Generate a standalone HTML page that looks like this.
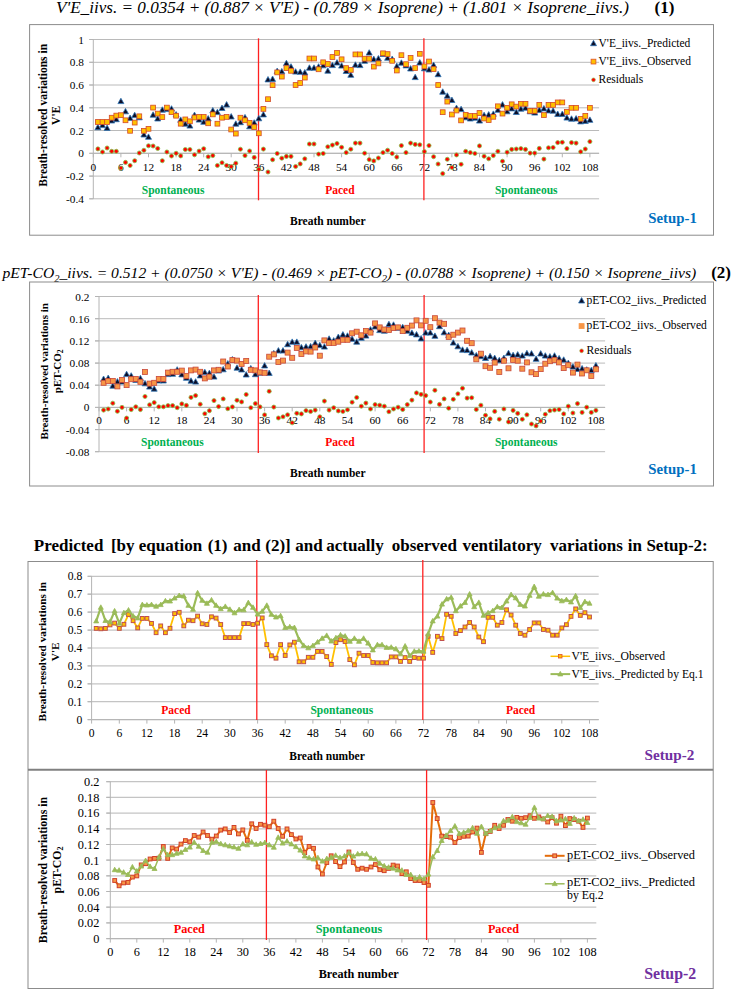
<!DOCTYPE html>
<html><head><meta charset="utf-8"><title>Ventilatory variations</title>
<style>html,body{margin:0;padding:0;background:#fff;width:732px;height:991px;overflow:hidden;font-family:"Liberation Serif", serif}</style>
</head><body>
<svg width="732" height="991" viewBox="0 0 732 991" style="position:absolute;left:0;top:0" font-family='"Liberation Serif", serif'>
<rect width="732" height="991" fill="#fff"/>
<text x="56.0" y="12.9" font-size="17" text-anchor="start" font-weight="normal" font-style="italic" fill="#000" textLength="573" lengthAdjust="spacingAndGlyphs">V'E_iivs. = 0.0354 + (0.887 × V'E) - (0.789 × Isoprene) + (1.801 × Isoprene_iivs.)</text>
<text x="654.5" y="12.9" font-size="17" text-anchor="start" font-weight="bold" font-style="normal" fill="#000" >(1)</text>
<text x="2.5" y="278.2" font-size="15.5" font-style="italic" textLength="693.7" lengthAdjust="spacingAndGlyphs">pET-CO<tspan font-size="10.5" dy="3.4">2</tspan><tspan dy="-3.4">_iivs. = 0.512 + (0.0750 × V'E) - (0.469 × pET-CO</tspan><tspan font-size="10.5" dy="3.4">2</tspan><tspan dy="-3.4">) - (0.0788 × Isoprene) + (0.150 × Isoprene_iivs)</tspan></text>
<text x="711.2" y="278.4" font-size="17" text-anchor="start" font-weight="bold" font-style="normal" fill="#000" >(2)</text>
<text y="550.7" font-size="17" font-weight="bold"><tspan x="33.8">Predicted</tspan><tspan x="110.9">[by</tspan><tspan x="138.8">equation</tspan><tspan x="207.7">(1)</tspan><tspan x="233.3">and</tspan><tspan x="265.3">(2)]</tspan><tspan x="295.3">and</tspan><tspan x="326.2">actually</tspan><tspan x="391.7">observed</tspan><tspan x="462.5">ventilatory</tspan><tspan x="550.1">variations</tspan><tspan x="627.8">in</tspan><tspan x="646.4">Setup-2:</tspan></text>
<rect x="29.6" y="24.6" width="683.9" height="210.6" fill="none" stroke="#8c8c8c" stroke-width="1"/>
<rect x="29.6" y="282" width="683.9" height="204" fill="none" stroke="#8c8c8c" stroke-width="1"/>
<rect x="28" y="561.5" width="685.2" height="427" fill="none" stroke="#8c8c8c" stroke-width="1"/>
<line x1="28" y1="769.8" x2="713.2" y2="769.8" stroke="#808080" stroke-width="2"/>
<line x1="89.3" y1="39.5" x2="599.1" y2="39.5" stroke="#bababa" stroke-width="1"/>
<line x1="89.3" y1="62.3" x2="599.1" y2="62.3" stroke="#bababa" stroke-width="1"/>
<line x1="89.3" y1="85.0" x2="599.1" y2="85.0" stroke="#bababa" stroke-width="1"/>
<line x1="89.3" y1="107.8" x2="599.1" y2="107.8" stroke="#bababa" stroke-width="1"/>
<line x1="89.3" y1="130.5" x2="599.1" y2="130.5" stroke="#bababa" stroke-width="1"/>
<line x1="89.3" y1="153.3" x2="599.1" y2="153.3" stroke="#bababa" stroke-width="1"/>
<line x1="89.3" y1="176.1" x2="599.1" y2="176.1" stroke="#bababa" stroke-width="1"/>
<line x1="89.3" y1="198.8" x2="599.1" y2="198.8" stroke="#bababa" stroke-width="1"/>
<line x1="93.3" y1="39.5" x2="93.3" y2="198.8" stroke="#b4b4b4" stroke-width="1"/>
<line x1="89.3" y1="39.5" x2="93.3" y2="39.5" stroke="#b4b4b4" stroke-width="1"/>
<line x1="89.3" y1="62.3" x2="93.3" y2="62.3" stroke="#b4b4b4" stroke-width="1"/>
<line x1="89.3" y1="85.0" x2="93.3" y2="85.0" stroke="#b4b4b4" stroke-width="1"/>
<line x1="89.3" y1="107.8" x2="93.3" y2="107.8" stroke="#b4b4b4" stroke-width="1"/>
<line x1="89.3" y1="130.5" x2="93.3" y2="130.5" stroke="#b4b4b4" stroke-width="1"/>
<line x1="89.3" y1="153.3" x2="93.3" y2="153.3" stroke="#b4b4b4" stroke-width="1"/>
<line x1="89.3" y1="176.1" x2="93.3" y2="176.1" stroke="#b4b4b4" stroke-width="1"/>
<line x1="89.3" y1="198.8" x2="93.3" y2="198.8" stroke="#b4b4b4" stroke-width="1"/>
<line x1="93.3" y1="153.3" x2="599.1" y2="153.3" stroke="#b4b4b4" stroke-width="1"/>
<line x1="93.3" y1="153.3" x2="93.3" y2="157.3" stroke="#b4b4b4" stroke-width="1"/>
<line x1="120.9" y1="153.3" x2="120.9" y2="157.3" stroke="#b4b4b4" stroke-width="1"/>
<line x1="148.5" y1="153.3" x2="148.5" y2="157.3" stroke="#b4b4b4" stroke-width="1"/>
<line x1="176.1" y1="153.3" x2="176.1" y2="157.3" stroke="#b4b4b4" stroke-width="1"/>
<line x1="203.7" y1="153.3" x2="203.7" y2="157.3" stroke="#b4b4b4" stroke-width="1"/>
<line x1="231.2" y1="153.3" x2="231.2" y2="157.3" stroke="#b4b4b4" stroke-width="1"/>
<line x1="258.8" y1="153.3" x2="258.8" y2="157.3" stroke="#b4b4b4" stroke-width="1"/>
<line x1="286.4" y1="153.3" x2="286.4" y2="157.3" stroke="#b4b4b4" stroke-width="1"/>
<line x1="314.0" y1="153.3" x2="314.0" y2="157.3" stroke="#b4b4b4" stroke-width="1"/>
<line x1="341.6" y1="153.3" x2="341.6" y2="157.3" stroke="#b4b4b4" stroke-width="1"/>
<line x1="369.2" y1="153.3" x2="369.2" y2="157.3" stroke="#b4b4b4" stroke-width="1"/>
<line x1="396.8" y1="153.3" x2="396.8" y2="157.3" stroke="#b4b4b4" stroke-width="1"/>
<line x1="424.4" y1="153.3" x2="424.4" y2="157.3" stroke="#b4b4b4" stroke-width="1"/>
<line x1="451.9" y1="153.3" x2="451.9" y2="157.3" stroke="#b4b4b4" stroke-width="1"/>
<line x1="479.5" y1="153.3" x2="479.5" y2="157.3" stroke="#b4b4b4" stroke-width="1"/>
<line x1="507.1" y1="153.3" x2="507.1" y2="157.3" stroke="#b4b4b4" stroke-width="1"/>
<line x1="534.7" y1="153.3" x2="534.7" y2="157.3" stroke="#b4b4b4" stroke-width="1"/>
<line x1="562.3" y1="153.3" x2="562.3" y2="157.3" stroke="#b4b4b4" stroke-width="1"/>
<line x1="589.9" y1="153.3" x2="589.9" y2="157.3" stroke="#b4b4b4" stroke-width="1"/>
<text x="83.9" y="43.5" font-size="11.3" text-anchor="end" font-weight="normal" font-style="normal" fill="#000" >1</text>
<text x="83.9" y="66.2" font-size="11.3" text-anchor="end" font-weight="normal" font-style="normal" fill="#000" >0.8</text>
<text x="83.9" y="89.0" font-size="11.3" text-anchor="end" font-weight="normal" font-style="normal" fill="#000" >0.6</text>
<text x="83.9" y="111.7" font-size="11.3" text-anchor="end" font-weight="normal" font-style="normal" fill="#000" >0.4</text>
<text x="83.9" y="134.5" font-size="11.3" text-anchor="end" font-weight="normal" font-style="normal" fill="#000" >0.2</text>
<text x="83.9" y="157.3" font-size="11.3" text-anchor="end" font-weight="normal" font-style="normal" fill="#000" >0</text>
<text x="83.9" y="180.0" font-size="11.3" text-anchor="end" font-weight="normal" font-style="normal" fill="#000" >-0.2</text>
<text x="83.9" y="202.8" font-size="11.3" text-anchor="end" font-weight="normal" font-style="normal" fill="#000" >-0.4</text>
<text x="93.3" y="170.6" font-size="11.3" text-anchor="middle" font-weight="normal" font-style="normal" fill="#000" >0</text>
<text x="120.9" y="170.6" font-size="11.3" text-anchor="middle" font-weight="normal" font-style="normal" fill="#000" >6</text>
<text x="148.5" y="170.6" font-size="11.3" text-anchor="middle" font-weight="normal" font-style="normal" fill="#000" >12</text>
<text x="176.1" y="170.6" font-size="11.3" text-anchor="middle" font-weight="normal" font-style="normal" fill="#000" >18</text>
<text x="203.7" y="170.6" font-size="11.3" text-anchor="middle" font-weight="normal" font-style="normal" fill="#000" >24</text>
<text x="231.2" y="170.6" font-size="11.3" text-anchor="middle" font-weight="normal" font-style="normal" fill="#000" >30</text>
<text x="258.8" y="170.6" font-size="11.3" text-anchor="middle" font-weight="normal" font-style="normal" fill="#000" >36</text>
<text x="286.4" y="170.6" font-size="11.3" text-anchor="middle" font-weight="normal" font-style="normal" fill="#000" >42</text>
<text x="314.0" y="170.6" font-size="11.3" text-anchor="middle" font-weight="normal" font-style="normal" fill="#000" >48</text>
<text x="341.6" y="170.6" font-size="11.3" text-anchor="middle" font-weight="normal" font-style="normal" fill="#000" >54</text>
<text x="369.2" y="170.6" font-size="11.3" text-anchor="middle" font-weight="normal" font-style="normal" fill="#000" >60</text>
<text x="396.8" y="170.6" font-size="11.3" text-anchor="middle" font-weight="normal" font-style="normal" fill="#000" >66</text>
<text x="424.4" y="170.6" font-size="11.3" text-anchor="middle" font-weight="normal" font-style="normal" fill="#000" >72</text>
<text x="451.9" y="170.6" font-size="11.3" text-anchor="middle" font-weight="normal" font-style="normal" fill="#000" >78</text>
<text x="479.5" y="170.6" font-size="11.3" text-anchor="middle" font-weight="normal" font-style="normal" fill="#000" >84</text>
<text x="507.1" y="170.6" font-size="11.3" text-anchor="middle" font-weight="normal" font-style="normal" fill="#000" >90</text>
<text x="534.7" y="170.6" font-size="11.3" text-anchor="middle" font-weight="normal" font-style="normal" fill="#000" >96</text>
<text x="562.3" y="170.6" font-size="11.3" text-anchor="middle" font-weight="normal" font-style="normal" fill="#000" >102</text>
<text x="589.9" y="170.6" font-size="11.3" text-anchor="middle" font-weight="normal" font-style="normal" fill="#000" >108</text>
<line x1="258.5" y1="38.3" x2="258.5" y2="200.3" stroke="#ff2020" stroke-width="1.3"/>
<line x1="423.9" y1="38.3" x2="423.9" y2="200.3" stroke="#ff2020" stroke-width="1.3"/>
<text x="173.1" y="193.8" font-size="11.5" text-anchor="middle" font-weight="bold" font-style="normal" fill="#00b050" >Spontaneous</text>
<text x="339.9" y="193.8" font-size="11.5" text-anchor="middle" font-weight="bold" font-style="normal" fill="#ff0000" >Paced</text>
<text x="526.2" y="193.8" font-size="11.5" text-anchor="middle" font-weight="bold" font-style="normal" fill="#00b050" >Spontaneous</text>
<text x="327.8" y="225.0" font-size="11.5" text-anchor="middle" font-weight="bold" font-style="normal" fill="#000" >Breath number</text>
<path d="M97.9 124.3L100.9 129.7L94.9 129.7Z" fill="#0d0d26" stroke="#2e75b6" stroke-width="0.8"/>
<path d="M102.5 122.2L105.5 127.6L99.5 127.6Z" fill="#0d0d26" stroke="#2e75b6" stroke-width="0.8"/>
<path d="M107.1 125.0L110.1 130.4L104.1 130.4Z" fill="#0d0d26" stroke="#2e75b6" stroke-width="0.8"/>
<path d="M111.7 117.6L114.7 123.0L108.7 123.0Z" fill="#0d0d26" stroke="#2e75b6" stroke-width="0.8"/>
<path d="M116.3 116.3L119.3 121.7L113.3 121.7Z" fill="#0d0d26" stroke="#2e75b6" stroke-width="0.8"/>
<path d="M120.9 98.2L123.9 103.6L117.9 103.6Z" fill="#0d0d26" stroke="#2e75b6" stroke-width="0.8"/>
<path d="M125.5 108.4L128.5 113.8L122.5 113.8Z" fill="#0d0d26" stroke="#2e75b6" stroke-width="0.8"/>
<path d="M130.1 115.0L133.1 120.4L127.1 120.4Z" fill="#0d0d26" stroke="#2e75b6" stroke-width="0.8"/>
<path d="M134.7 112.2L137.7 117.6L131.7 117.6Z" fill="#0d0d26" stroke="#2e75b6" stroke-width="0.8"/>
<path d="M139.3 114.4L142.3 119.8L136.3 119.8Z" fill="#0d0d26" stroke="#2e75b6" stroke-width="0.8"/>
<path d="M143.9 131.6L146.9 137.0L140.9 137.0Z" fill="#0d0d26" stroke="#2e75b6" stroke-width="0.8"/>
<path d="M148.5 133.9L151.5 139.3L145.5 139.3Z" fill="#0d0d26" stroke="#2e75b6" stroke-width="0.8"/>
<path d="M153.1 111.8L156.1 117.2L150.1 117.2Z" fill="#0d0d26" stroke="#2e75b6" stroke-width="0.8"/>
<path d="M157.7 115.6L160.7 121.0L154.7 121.0Z" fill="#0d0d26" stroke="#2e75b6" stroke-width="0.8"/>
<path d="M162.3 106.8L165.3 112.2L159.3 112.2Z" fill="#0d0d26" stroke="#2e75b6" stroke-width="0.8"/>
<path d="M166.9 106.2L169.9 111.6L163.9 111.6Z" fill="#0d0d26" stroke="#2e75b6" stroke-width="0.8"/>
<path d="M171.5 105.7L174.5 111.1L168.5 111.1Z" fill="#0d0d26" stroke="#2e75b6" stroke-width="0.8"/>
<path d="M176.1 111.6L179.1 117.0L173.1 117.0Z" fill="#0d0d26" stroke="#2e75b6" stroke-width="0.8"/>
<path d="M180.7 116.9L183.7 122.3L177.7 122.3Z" fill="#0d0d26" stroke="#2e75b6" stroke-width="0.8"/>
<path d="M185.3 120.8L188.3 126.2L182.3 126.2Z" fill="#0d0d26" stroke="#2e75b6" stroke-width="0.8"/>
<path d="M189.9 122.7L192.9 128.1L186.9 128.1Z" fill="#0d0d26" stroke="#2e75b6" stroke-width="0.8"/>
<path d="M194.5 112.1L197.5 117.5L191.5 117.5Z" fill="#0d0d26" stroke="#2e75b6" stroke-width="0.8"/>
<path d="M199.1 116.7L202.1 122.1L196.1 122.1Z" fill="#0d0d26" stroke="#2e75b6" stroke-width="0.8"/>
<path d="M203.7 118.9L206.7 124.3L200.7 124.3Z" fill="#0d0d26" stroke="#2e75b6" stroke-width="0.8"/>
<path d="M208.2 115.6L211.2 121.0L205.2 121.0Z" fill="#0d0d26" stroke="#2e75b6" stroke-width="0.8"/>
<path d="M212.8 107.5L215.8 112.9L209.8 112.9Z" fill="#0d0d26" stroke="#2e75b6" stroke-width="0.8"/>
<path d="M217.4 109.2L220.4 114.6L214.4 114.6Z" fill="#0d0d26" stroke="#2e75b6" stroke-width="0.8"/>
<path d="M222.0 105.1L225.0 110.5L219.0 110.5Z" fill="#0d0d26" stroke="#2e75b6" stroke-width="0.8"/>
<path d="M226.6 101.6L229.6 107.0L223.6 107.0Z" fill="#0d0d26" stroke="#2e75b6" stroke-width="0.8"/>
<path d="M231.2 113.6L234.2 119.0L228.2 119.0Z" fill="#0d0d26" stroke="#2e75b6" stroke-width="0.8"/>
<path d="M235.8 120.8L238.8 126.2L232.8 126.2Z" fill="#0d0d26" stroke="#2e75b6" stroke-width="0.8"/>
<path d="M240.4 119.3L243.4 124.7L237.4 124.7Z" fill="#0d0d26" stroke="#2e75b6" stroke-width="0.8"/>
<path d="M245.0 114.4L248.0 119.8L242.0 119.8Z" fill="#0d0d26" stroke="#2e75b6" stroke-width="0.8"/>
<path d="M249.6 123.4L252.6 128.8L246.6 128.8Z" fill="#0d0d26" stroke="#2e75b6" stroke-width="0.8"/>
<path d="M254.2 119.7L257.2 125.1L251.2 125.1Z" fill="#0d0d26" stroke="#2e75b6" stroke-width="0.8"/>
<path d="M258.8 115.4L261.8 120.8L255.8 120.8Z" fill="#0d0d26" stroke="#2e75b6" stroke-width="0.8"/>
<path d="M263.4 111.5L266.4 116.9L260.4 116.9Z" fill="#0d0d26" stroke="#2e75b6" stroke-width="0.8"/>
<path d="M268.0 76.5L271.0 81.9L265.0 81.9Z" fill="#0d0d26" stroke="#2e75b6" stroke-width="0.8"/>
<path d="M272.6 76.0L275.6 81.4L269.6 81.4Z" fill="#0d0d26" stroke="#2e75b6" stroke-width="0.8"/>
<path d="M277.2 68.1L280.2 73.5L274.2 73.5Z" fill="#0d0d26" stroke="#2e75b6" stroke-width="0.8"/>
<path d="M281.8 68.4L284.8 73.8L278.8 73.8Z" fill="#0d0d26" stroke="#2e75b6" stroke-width="0.8"/>
<path d="M286.4 60.2L289.4 65.6L283.4 65.6Z" fill="#0d0d26" stroke="#2e75b6" stroke-width="0.8"/>
<path d="M291.0 63.7L294.0 69.1L288.0 69.1Z" fill="#0d0d26" stroke="#2e75b6" stroke-width="0.8"/>
<path d="M295.6 68.7L298.6 74.1L292.6 74.1Z" fill="#0d0d26" stroke="#2e75b6" stroke-width="0.8"/>
<path d="M300.2 68.9L303.2 74.3L297.2 74.3Z" fill="#0d0d26" stroke="#2e75b6" stroke-width="0.8"/>
<path d="M304.8 69.5L307.8 74.9L301.8 74.9Z" fill="#0d0d26" stroke="#2e75b6" stroke-width="0.8"/>
<path d="M309.4 64.8L312.4 70.2L306.4 70.2Z" fill="#0d0d26" stroke="#2e75b6" stroke-width="0.8"/>
<path d="M314.0 64.8L317.0 70.2L311.0 70.2Z" fill="#0d0d26" stroke="#2e75b6" stroke-width="0.8"/>
<path d="M318.6 63.7L321.6 69.1L315.6 69.1Z" fill="#0d0d26" stroke="#2e75b6" stroke-width="0.8"/>
<path d="M323.2 62.4L326.2 67.8L320.2 67.8Z" fill="#0d0d26" stroke="#2e75b6" stroke-width="0.8"/>
<path d="M327.8 67.8L330.8 73.2L324.8 73.2Z" fill="#0d0d26" stroke="#2e75b6" stroke-width="0.8"/>
<path d="M332.4 62.2L335.4 67.6L329.4 67.6Z" fill="#0d0d26" stroke="#2e75b6" stroke-width="0.8"/>
<path d="M337.0 59.6L340.0 65.0L334.0 65.0Z" fill="#0d0d26" stroke="#2e75b6" stroke-width="0.8"/>
<path d="M341.6 62.7L344.6 68.1L338.6 68.1Z" fill="#0d0d26" stroke="#2e75b6" stroke-width="0.8"/>
<path d="M346.2 68.1L349.2 73.5L343.2 73.5Z" fill="#0d0d26" stroke="#2e75b6" stroke-width="0.8"/>
<path d="M350.8 71.9L353.8 77.3L347.8 77.3Z" fill="#0d0d26" stroke="#2e75b6" stroke-width="0.8"/>
<path d="M355.4 61.8L358.4 67.2L352.4 67.2Z" fill="#0d0d26" stroke="#2e75b6" stroke-width="0.8"/>
<path d="M360.0 62.2L363.0 67.6L357.0 67.6Z" fill="#0d0d26" stroke="#2e75b6" stroke-width="0.8"/>
<path d="M364.6 57.9L367.6 63.3L361.6 63.3Z" fill="#0d0d26" stroke="#2e75b6" stroke-width="0.8"/>
<path d="M369.2 49.7L372.2 55.1L366.2 55.1Z" fill="#0d0d26" stroke="#2e75b6" stroke-width="0.8"/>
<path d="M373.8 56.1L376.8 61.5L370.8 61.5Z" fill="#0d0d26" stroke="#2e75b6" stroke-width="0.8"/>
<path d="M378.4 55.5L381.4 60.9L375.4 60.9Z" fill="#0d0d26" stroke="#2e75b6" stroke-width="0.8"/>
<path d="M383.0 51.1L386.0 56.5L380.0 56.5Z" fill="#0d0d26" stroke="#2e75b6" stroke-width="0.8"/>
<path d="M387.6 54.9L390.6 60.3L384.6 60.3Z" fill="#0d0d26" stroke="#2e75b6" stroke-width="0.8"/>
<path d="M392.2 56.1L395.2 61.5L389.2 61.5Z" fill="#0d0d26" stroke="#2e75b6" stroke-width="0.8"/>
<path d="M396.8 63.1L399.8 68.5L393.8 68.5Z" fill="#0d0d26" stroke="#2e75b6" stroke-width="0.8"/>
<path d="M401.4 59.8L404.4 65.2L398.4 65.2Z" fill="#0d0d26" stroke="#2e75b6" stroke-width="0.8"/>
<path d="M406.0 62.5L409.0 67.9L403.0 67.9Z" fill="#0d0d26" stroke="#2e75b6" stroke-width="0.8"/>
<path d="M410.6 65.6L413.6 71.0L407.6 71.0Z" fill="#0d0d26" stroke="#2e75b6" stroke-width="0.8"/>
<path d="M415.2 74.2L418.2 79.6L412.2 79.6Z" fill="#0d0d26" stroke="#2e75b6" stroke-width="0.8"/>
<path d="M419.8 59.6L422.8 65.0L416.8 65.0Z" fill="#0d0d26" stroke="#2e75b6" stroke-width="0.8"/>
<path d="M424.4 65.4L427.4 70.8L421.4 70.8Z" fill="#0d0d26" stroke="#2e75b6" stroke-width="0.8"/>
<path d="M429.0 66.6L432.0 72.0L426.0 72.0Z" fill="#0d0d26" stroke="#2e75b6" stroke-width="0.8"/>
<path d="M433.6 62.0L436.6 67.4L430.6 67.4Z" fill="#0d0d26" stroke="#2e75b6" stroke-width="0.8"/>
<path d="M438.1 71.3L441.1 76.7L435.1 76.7Z" fill="#0d0d26" stroke="#2e75b6" stroke-width="0.8"/>
<path d="M442.7 88.8L445.7 94.2L439.7 94.2Z" fill="#0d0d26" stroke="#2e75b6" stroke-width="0.8"/>
<path d="M447.3 92.8L450.3 98.2L444.3 98.2Z" fill="#0d0d26" stroke="#2e75b6" stroke-width="0.8"/>
<path d="M451.9 97.1L454.9 102.5L448.9 102.5Z" fill="#0d0d26" stroke="#2e75b6" stroke-width="0.8"/>
<path d="M456.5 105.1L459.5 110.5L453.5 110.5Z" fill="#0d0d26" stroke="#2e75b6" stroke-width="0.8"/>
<path d="M461.1 106.2L464.1 111.6L458.1 111.6Z" fill="#0d0d26" stroke="#2e75b6" stroke-width="0.8"/>
<path d="M465.7 114.4L468.7 119.8L462.7 119.8Z" fill="#0d0d26" stroke="#2e75b6" stroke-width="0.8"/>
<path d="M470.3 115.6L473.3 121.0L467.3 121.0Z" fill="#0d0d26" stroke="#2e75b6" stroke-width="0.8"/>
<path d="M474.9 114.8L477.9 120.2L471.9 120.2Z" fill="#0d0d26" stroke="#2e75b6" stroke-width="0.8"/>
<path d="M479.5 117.7L482.5 123.1L476.5 123.1Z" fill="#0d0d26" stroke="#2e75b6" stroke-width="0.8"/>
<path d="M484.1 112.2L487.1 117.6L481.1 117.6Z" fill="#0d0d26" stroke="#2e75b6" stroke-width="0.8"/>
<path d="M488.7 111.6L491.7 117.0L485.7 117.0Z" fill="#0d0d26" stroke="#2e75b6" stroke-width="0.8"/>
<path d="M493.3 110.9L496.3 116.3L490.3 116.3Z" fill="#0d0d26" stroke="#2e75b6" stroke-width="0.8"/>
<path d="M497.9 106.9L500.9 112.3L494.9 112.3Z" fill="#0d0d26" stroke="#2e75b6" stroke-width="0.8"/>
<path d="M502.5 101.6L505.5 107.0L499.5 107.0Z" fill="#0d0d26" stroke="#2e75b6" stroke-width="0.8"/>
<path d="M507.1 108.4L510.1 113.8L504.1 113.8Z" fill="#0d0d26" stroke="#2e75b6" stroke-width="0.8"/>
<path d="M511.7 105.5L514.7 110.9L508.7 110.9Z" fill="#0d0d26" stroke="#2e75b6" stroke-width="0.8"/>
<path d="M516.3 109.1L519.3 114.5L513.3 114.5Z" fill="#0d0d26" stroke="#2e75b6" stroke-width="0.8"/>
<path d="M520.9 105.8L523.9 111.2L517.9 111.2Z" fill="#0d0d26" stroke="#2e75b6" stroke-width="0.8"/>
<path d="M525.5 104.9L528.5 110.3L522.5 110.3Z" fill="#0d0d26" stroke="#2e75b6" stroke-width="0.8"/>
<path d="M530.1 108.4L533.1 113.8L527.1 113.8Z" fill="#0d0d26" stroke="#2e75b6" stroke-width="0.8"/>
<path d="M534.7 109.7L537.7 115.1L531.7 115.1Z" fill="#0d0d26" stroke="#2e75b6" stroke-width="0.8"/>
<path d="M539.3 107.0L542.3 112.4L536.3 112.4Z" fill="#0d0d26" stroke="#2e75b6" stroke-width="0.8"/>
<path d="M543.9 105.5L546.9 110.9L540.9 110.9Z" fill="#0d0d26" stroke="#2e75b6" stroke-width="0.8"/>
<path d="M548.5 107.5L551.5 112.9L545.5 112.9Z" fill="#0d0d26" stroke="#2e75b6" stroke-width="0.8"/>
<path d="M553.1 107.8L556.1 113.2L550.1 113.2Z" fill="#0d0d26" stroke="#2e75b6" stroke-width="0.8"/>
<path d="M557.7 111.0L560.7 116.4L554.7 116.4Z" fill="#0d0d26" stroke="#2e75b6" stroke-width="0.8"/>
<path d="M562.3 111.0L565.3 116.4L559.3 116.4Z" fill="#0d0d26" stroke="#2e75b6" stroke-width="0.8"/>
<path d="M566.9 114.7L569.9 120.1L563.9 120.1Z" fill="#0d0d26" stroke="#2e75b6" stroke-width="0.8"/>
<path d="M571.5 115.8L574.5 121.2L568.5 121.2Z" fill="#0d0d26" stroke="#2e75b6" stroke-width="0.8"/>
<path d="M576.1 115.6L579.1 121.0L573.1 121.0Z" fill="#0d0d26" stroke="#2e75b6" stroke-width="0.8"/>
<path d="M580.7 118.5L583.7 123.9L577.7 123.9Z" fill="#0d0d26" stroke="#2e75b6" stroke-width="0.8"/>
<path d="M585.3 118.0L588.3 123.4L582.3 123.4Z" fill="#0d0d26" stroke="#2e75b6" stroke-width="0.8"/>
<path d="M589.9 116.9L592.9 122.3L586.9 122.3Z" fill="#0d0d26" stroke="#2e75b6" stroke-width="0.8"/>
<rect x="95.5" y="119.6" width="4.8" height="4.8" fill="#ffc000" stroke="#d4482a" stroke-width="0.8"/>
<rect x="100.1" y="119.6" width="4.8" height="4.8" fill="#ffc000" stroke="#d4482a" stroke-width="0.8"/>
<rect x="104.7" y="119.6" width="4.8" height="4.8" fill="#ffc000" stroke="#d4482a" stroke-width="0.8"/>
<rect x="109.3" y="115.3" width="4.8" height="4.8" fill="#ffc000" stroke="#d4482a" stroke-width="0.8"/>
<rect x="113.9" y="113.2" width="4.8" height="4.8" fill="#ffc000" stroke="#d4482a" stroke-width="0.8"/>
<rect x="118.5" y="112.8" width="4.8" height="4.8" fill="#ffc000" stroke="#d4482a" stroke-width="0.8"/>
<rect x="123.1" y="117.9" width="4.8" height="4.8" fill="#ffc000" stroke="#d4482a" stroke-width="0.8"/>
<rect x="127.7" y="128.4" width="4.8" height="4.8" fill="#ffc000" stroke="#d4482a" stroke-width="0.8"/>
<rect x="132.3" y="120.2" width="4.8" height="4.8" fill="#ffc000" stroke="#d4482a" stroke-width="0.8"/>
<rect x="136.9" y="113.9" width="4.8" height="4.8" fill="#ffc000" stroke="#d4482a" stroke-width="0.8"/>
<rect x="141.5" y="128.4" width="4.8" height="4.8" fill="#ffc000" stroke="#d4482a" stroke-width="0.8"/>
<rect x="146.1" y="126.4" width="4.8" height="4.8" fill="#ffc000" stroke="#d4482a" stroke-width="0.8"/>
<rect x="150.7" y="105.2" width="4.8" height="4.8" fill="#ffc000" stroke="#d4482a" stroke-width="0.8"/>
<rect x="155.3" y="111.2" width="4.8" height="4.8" fill="#ffc000" stroke="#d4482a" stroke-width="0.8"/>
<rect x="159.9" y="114.7" width="4.8" height="4.8" fill="#ffc000" stroke="#d4482a" stroke-width="0.8"/>
<rect x="164.5" y="105.2" width="4.8" height="4.8" fill="#ffc000" stroke="#d4482a" stroke-width="0.8"/>
<rect x="169.1" y="109.8" width="4.8" height="4.8" fill="#ffc000" stroke="#d4482a" stroke-width="0.8"/>
<rect x="173.7" y="113.3" width="4.8" height="4.8" fill="#ffc000" stroke="#d4482a" stroke-width="0.8"/>
<rect x="178.3" y="121.3" width="4.8" height="4.8" fill="#ffc000" stroke="#d4482a" stroke-width="0.8"/>
<rect x="182.9" y="117.0" width="4.8" height="4.8" fill="#ffc000" stroke="#d4482a" stroke-width="0.8"/>
<rect x="187.5" y="118.9" width="4.8" height="4.8" fill="#ffc000" stroke="#d4482a" stroke-width="0.8"/>
<rect x="192.1" y="115.1" width="4.8" height="4.8" fill="#ffc000" stroke="#d4482a" stroke-width="0.8"/>
<rect x="196.7" y="114.5" width="4.8" height="4.8" fill="#ffc000" stroke="#d4482a" stroke-width="0.8"/>
<rect x="201.3" y="114.5" width="4.8" height="4.8" fill="#ffc000" stroke="#d4482a" stroke-width="0.8"/>
<rect x="205.8" y="120.9" width="4.8" height="4.8" fill="#ffc000" stroke="#d4482a" stroke-width="0.8"/>
<rect x="210.4" y="112.0" width="4.8" height="4.8" fill="#ffc000" stroke="#d4482a" stroke-width="0.8"/>
<rect x="215.0" y="121.3" width="4.8" height="4.8" fill="#ffc000" stroke="#d4482a" stroke-width="0.8"/>
<rect x="219.6" y="115.3" width="4.8" height="4.8" fill="#ffc000" stroke="#d4482a" stroke-width="0.8"/>
<rect x="224.2" y="114.5" width="4.8" height="4.8" fill="#ffc000" stroke="#d4482a" stroke-width="0.8"/>
<rect x="228.8" y="127.1" width="4.8" height="4.8" fill="#ffc000" stroke="#d4482a" stroke-width="0.8"/>
<rect x="233.4" y="131.2" width="4.8" height="4.8" fill="#ffc000" stroke="#d4482a" stroke-width="0.8"/>
<rect x="238.0" y="115.3" width="4.8" height="4.8" fill="#ffc000" stroke="#d4482a" stroke-width="0.8"/>
<rect x="242.6" y="117.9" width="4.8" height="4.8" fill="#ffc000" stroke="#d4482a" stroke-width="0.8"/>
<rect x="247.2" y="120.5" width="4.8" height="4.8" fill="#ffc000" stroke="#d4482a" stroke-width="0.8"/>
<rect x="251.8" y="124.7" width="4.8" height="4.8" fill="#ffc000" stroke="#d4482a" stroke-width="0.8"/>
<rect x="256.4" y="130.9" width="4.8" height="4.8" fill="#ffc000" stroke="#d4482a" stroke-width="0.8"/>
<rect x="261.0" y="106.5" width="4.8" height="4.8" fill="#ffc000" stroke="#d4482a" stroke-width="0.8"/>
<rect x="265.6" y="96.8" width="4.8" height="4.8" fill="#ffc000" stroke="#d4482a" stroke-width="0.8"/>
<rect x="270.2" y="82.8" width="4.8" height="4.8" fill="#ffc000" stroke="#d4482a" stroke-width="0.8"/>
<rect x="274.8" y="70.0" width="4.8" height="4.8" fill="#ffc000" stroke="#d4482a" stroke-width="0.8"/>
<rect x="279.4" y="74.2" width="4.8" height="4.8" fill="#ffc000" stroke="#d4482a" stroke-width="0.8"/>
<rect x="284.0" y="65.7" width="4.8" height="4.8" fill="#ffc000" stroke="#d4482a" stroke-width="0.8"/>
<rect x="288.6" y="68.4" width="4.8" height="4.8" fill="#ffc000" stroke="#d4482a" stroke-width="0.8"/>
<rect x="293.2" y="82.6" width="4.8" height="4.8" fill="#ffc000" stroke="#d4482a" stroke-width="0.8"/>
<rect x="297.8" y="80.6" width="4.8" height="4.8" fill="#ffc000" stroke="#d4482a" stroke-width="0.8"/>
<rect x="302.4" y="75.2" width="4.8" height="4.8" fill="#ffc000" stroke="#d4482a" stroke-width="0.8"/>
<rect x="307.0" y="56.1" width="4.8" height="4.8" fill="#ffc000" stroke="#d4482a" stroke-width="0.8"/>
<rect x="311.6" y="56.1" width="4.8" height="4.8" fill="#ffc000" stroke="#d4482a" stroke-width="0.8"/>
<rect x="316.2" y="66.9" width="4.8" height="4.8" fill="#ffc000" stroke="#d4482a" stroke-width="0.8"/>
<rect x="320.8" y="59.9" width="4.8" height="4.8" fill="#ffc000" stroke="#d4482a" stroke-width="0.8"/>
<rect x="325.4" y="61.6" width="4.8" height="4.8" fill="#ffc000" stroke="#d4482a" stroke-width="0.8"/>
<rect x="330.0" y="54.6" width="4.8" height="4.8" fill="#ffc000" stroke="#d4482a" stroke-width="0.8"/>
<rect x="334.6" y="50.5" width="4.8" height="4.8" fill="#ffc000" stroke="#d4482a" stroke-width="0.8"/>
<rect x="339.2" y="56.9" width="4.8" height="4.8" fill="#ffc000" stroke="#d4482a" stroke-width="0.8"/>
<rect x="343.8" y="65.7" width="4.8" height="4.8" fill="#ffc000" stroke="#d4482a" stroke-width="0.8"/>
<rect x="348.4" y="67.5" width="4.8" height="4.8" fill="#ffc000" stroke="#d4482a" stroke-width="0.8"/>
<rect x="353.0" y="52.0" width="4.8" height="4.8" fill="#ffc000" stroke="#d4482a" stroke-width="0.8"/>
<rect x="357.6" y="52.0" width="4.8" height="4.8" fill="#ffc000" stroke="#d4482a" stroke-width="0.8"/>
<rect x="362.2" y="56.3" width="4.8" height="4.8" fill="#ffc000" stroke="#d4482a" stroke-width="0.8"/>
<rect x="366.8" y="56.3" width="4.8" height="4.8" fill="#ffc000" stroke="#d4482a" stroke-width="0.8"/>
<rect x="371.4" y="64.2" width="4.8" height="4.8" fill="#ffc000" stroke="#d4482a" stroke-width="0.8"/>
<rect x="376.0" y="61.0" width="4.8" height="4.8" fill="#ffc000" stroke="#d4482a" stroke-width="0.8"/>
<rect x="380.6" y="50.9" width="4.8" height="4.8" fill="#ffc000" stroke="#d4482a" stroke-width="0.8"/>
<rect x="385.2" y="51.7" width="4.8" height="4.8" fill="#ffc000" stroke="#d4482a" stroke-width="0.8"/>
<rect x="389.8" y="58.4" width="4.8" height="4.8" fill="#ffc000" stroke="#d4482a" stroke-width="0.8"/>
<rect x="394.4" y="68.1" width="4.8" height="4.8" fill="#ffc000" stroke="#d4482a" stroke-width="0.8"/>
<rect x="399.0" y="52.8" width="4.8" height="4.8" fill="#ffc000" stroke="#d4482a" stroke-width="0.8"/>
<rect x="403.6" y="61.8" width="4.8" height="4.8" fill="#ffc000" stroke="#d4482a" stroke-width="0.8"/>
<rect x="408.2" y="55.5" width="4.8" height="4.8" fill="#ffc000" stroke="#d4482a" stroke-width="0.8"/>
<rect x="412.8" y="65.7" width="4.8" height="4.8" fill="#ffc000" stroke="#d4482a" stroke-width="0.8"/>
<rect x="417.4" y="51.4" width="4.8" height="4.8" fill="#ffc000" stroke="#d4482a" stroke-width="0.8"/>
<rect x="422.0" y="64.0" width="4.8" height="4.8" fill="#ffc000" stroke="#d4482a" stroke-width="0.8"/>
<rect x="426.6" y="59.1" width="4.8" height="4.8" fill="#ffc000" stroke="#d4482a" stroke-width="0.8"/>
<rect x="431.2" y="66.7" width="4.8" height="4.8" fill="#ffc000" stroke="#d4482a" stroke-width="0.8"/>
<rect x="435.8" y="82.6" width="4.8" height="4.8" fill="#ffc000" stroke="#d4482a" stroke-width="0.8"/>
<rect x="440.3" y="109.8" width="4.8" height="4.8" fill="#ffc000" stroke="#d4482a" stroke-width="0.8"/>
<rect x="444.9" y="99.2" width="4.8" height="4.8" fill="#ffc000" stroke="#d4482a" stroke-width="0.8"/>
<rect x="449.5" y="112.1" width="4.8" height="4.8" fill="#ffc000" stroke="#d4482a" stroke-width="0.8"/>
<rect x="454.1" y="108.1" width="4.8" height="4.8" fill="#ffc000" stroke="#d4482a" stroke-width="0.8"/>
<rect x="458.7" y="118.0" width="4.8" height="4.8" fill="#ffc000" stroke="#d4482a" stroke-width="0.8"/>
<rect x="463.3" y="112.4" width="4.8" height="4.8" fill="#ffc000" stroke="#d4482a" stroke-width="0.8"/>
<rect x="467.9" y="113.6" width="4.8" height="4.8" fill="#ffc000" stroke="#d4482a" stroke-width="0.8"/>
<rect x="472.5" y="113.6" width="4.8" height="4.8" fill="#ffc000" stroke="#d4482a" stroke-width="0.8"/>
<rect x="477.1" y="110.6" width="4.8" height="4.8" fill="#ffc000" stroke="#d4482a" stroke-width="0.8"/>
<rect x="481.7" y="116.1" width="4.8" height="4.8" fill="#ffc000" stroke="#d4482a" stroke-width="0.8"/>
<rect x="486.3" y="117.7" width="4.8" height="4.8" fill="#ffc000" stroke="#d4482a" stroke-width="0.8"/>
<rect x="490.9" y="114.4" width="4.8" height="4.8" fill="#ffc000" stroke="#d4482a" stroke-width="0.8"/>
<rect x="495.5" y="103.9" width="4.8" height="4.8" fill="#ffc000" stroke="#d4482a" stroke-width="0.8"/>
<rect x="500.1" y="111.2" width="4.8" height="4.8" fill="#ffc000" stroke="#d4482a" stroke-width="0.8"/>
<rect x="504.7" y="105.4" width="4.8" height="4.8" fill="#ffc000" stroke="#d4482a" stroke-width="0.8"/>
<rect x="509.3" y="101.9" width="4.8" height="4.8" fill="#ffc000" stroke="#d4482a" stroke-width="0.8"/>
<rect x="513.9" y="104.2" width="4.8" height="4.8" fill="#ffc000" stroke="#d4482a" stroke-width="0.8"/>
<rect x="518.5" y="101.4" width="4.8" height="4.8" fill="#ffc000" stroke="#d4482a" stroke-width="0.8"/>
<rect x="523.1" y="101.4" width="4.8" height="4.8" fill="#ffc000" stroke="#d4482a" stroke-width="0.8"/>
<rect x="527.7" y="108.5" width="4.8" height="4.8" fill="#ffc000" stroke="#d4482a" stroke-width="0.8"/>
<rect x="532.3" y="108.5" width="4.8" height="4.8" fill="#ffc000" stroke="#d4482a" stroke-width="0.8"/>
<rect x="536.9" y="102.5" width="4.8" height="4.8" fill="#ffc000" stroke="#d4482a" stroke-width="0.8"/>
<rect x="541.5" y="112.7" width="4.8" height="4.8" fill="#ffc000" stroke="#d4482a" stroke-width="0.8"/>
<rect x="546.1" y="102.5" width="4.8" height="4.8" fill="#ffc000" stroke="#d4482a" stroke-width="0.8"/>
<rect x="550.7" y="102.5" width="4.8" height="4.8" fill="#ffc000" stroke="#d4482a" stroke-width="0.8"/>
<rect x="555.3" y="100.0" width="4.8" height="4.8" fill="#ffc000" stroke="#d4482a" stroke-width="0.8"/>
<rect x="559.9" y="100.0" width="4.8" height="4.8" fill="#ffc000" stroke="#d4482a" stroke-width="0.8"/>
<rect x="564.5" y="109.5" width="4.8" height="4.8" fill="#ffc000" stroke="#d4482a" stroke-width="0.8"/>
<rect x="569.1" y="105.4" width="4.8" height="4.8" fill="#ffc000" stroke="#d4482a" stroke-width="0.8"/>
<rect x="573.7" y="105.4" width="4.8" height="4.8" fill="#ffc000" stroke="#d4482a" stroke-width="0.8"/>
<rect x="578.3" y="116.4" width="4.8" height="4.8" fill="#ffc000" stroke="#d4482a" stroke-width="0.8"/>
<rect x="582.9" y="113.5" width="4.8" height="4.8" fill="#ffc000" stroke="#d4482a" stroke-width="0.8"/>
<rect x="587.5" y="105.4" width="4.8" height="4.8" fill="#ffc000" stroke="#d4482a" stroke-width="0.8"/>
<circle cx="97.9" cy="148.9" r="2.05" fill="#ff0000" stroke="#84c64a" stroke-width="0.8"/>
<circle cx="102.5" cy="152.0" r="2.05" fill="#ff0000" stroke="#84c64a" stroke-width="0.8"/>
<circle cx="107.1" cy="148.0" r="2.05" fill="#ff0000" stroke="#84c64a" stroke-width="0.8"/>
<circle cx="111.7" cy="151.3" r="2.05" fill="#ff0000" stroke="#84c64a" stroke-width="0.8"/>
<circle cx="116.3" cy="151.3" r="2.05" fill="#ff0000" stroke="#84c64a" stroke-width="0.8"/>
<circle cx="120.9" cy="168.0" r="2.05" fill="#ff0000" stroke="#84c64a" stroke-width="0.8"/>
<circle cx="125.5" cy="162.4" r="2.05" fill="#ff0000" stroke="#84c64a" stroke-width="0.8"/>
<circle cx="130.1" cy="165.5" r="2.05" fill="#ff0000" stroke="#84c64a" stroke-width="0.8"/>
<circle cx="134.7" cy="160.7" r="2.05" fill="#ff0000" stroke="#84c64a" stroke-width="0.8"/>
<circle cx="139.3" cy="153.0" r="2.05" fill="#ff0000" stroke="#84c64a" stroke-width="0.8"/>
<circle cx="143.9" cy="150.3" r="2.05" fill="#ff0000" stroke="#84c64a" stroke-width="0.8"/>
<circle cx="148.5" cy="145.8" r="2.05" fill="#ff0000" stroke="#84c64a" stroke-width="0.8"/>
<circle cx="153.1" cy="146.0" r="2.05" fill="#ff0000" stroke="#84c64a" stroke-width="0.8"/>
<circle cx="157.7" cy="148.5" r="2.05" fill="#ff0000" stroke="#84c64a" stroke-width="0.8"/>
<circle cx="162.3" cy="160.7" r="2.05" fill="#ff0000" stroke="#84c64a" stroke-width="0.8"/>
<circle cx="166.9" cy="152.0" r="2.05" fill="#ff0000" stroke="#84c64a" stroke-width="0.8"/>
<circle cx="171.5" cy="156.0" r="2.05" fill="#ff0000" stroke="#84c64a" stroke-width="0.8"/>
<circle cx="176.1" cy="153.3" r="2.05" fill="#ff0000" stroke="#84c64a" stroke-width="0.8"/>
<circle cx="180.7" cy="155.9" r="2.05" fill="#ff0000" stroke="#84c64a" stroke-width="0.8"/>
<circle cx="185.3" cy="149.5" r="2.05" fill="#ff0000" stroke="#84c64a" stroke-width="0.8"/>
<circle cx="189.9" cy="149.5" r="2.05" fill="#ff0000" stroke="#84c64a" stroke-width="0.8"/>
<circle cx="194.5" cy="154.8" r="2.05" fill="#ff0000" stroke="#84c64a" stroke-width="0.8"/>
<circle cx="199.1" cy="151.1" r="2.05" fill="#ff0000" stroke="#84c64a" stroke-width="0.8"/>
<circle cx="203.7" cy="148.7" r="2.05" fill="#ff0000" stroke="#84c64a" stroke-width="0.8"/>
<circle cx="208.2" cy="156.8" r="2.05" fill="#ff0000" stroke="#84c64a" stroke-width="0.8"/>
<circle cx="212.8" cy="155.6" r="2.05" fill="#ff0000" stroke="#84c64a" stroke-width="0.8"/>
<circle cx="217.4" cy="165.5" r="2.05" fill="#ff0000" stroke="#84c64a" stroke-width="0.8"/>
<circle cx="222.0" cy="162.7" r="2.05" fill="#ff0000" stroke="#84c64a" stroke-width="0.8"/>
<circle cx="226.6" cy="165.5" r="2.05" fill="#ff0000" stroke="#84c64a" stroke-width="0.8"/>
<circle cx="231.2" cy="166.6" r="2.05" fill="#ff0000" stroke="#84c64a" stroke-width="0.8"/>
<circle cx="235.8" cy="163.2" r="2.05" fill="#ff0000" stroke="#84c64a" stroke-width="0.8"/>
<circle cx="240.4" cy="149.2" r="2.05" fill="#ff0000" stroke="#84c64a" stroke-width="0.8"/>
<circle cx="245.0" cy="155.6" r="2.05" fill="#ff0000" stroke="#84c64a" stroke-width="0.8"/>
<circle cx="249.6" cy="151.0" r="2.05" fill="#ff0000" stroke="#84c64a" stroke-width="0.8"/>
<circle cx="254.2" cy="157.4" r="2.05" fill="#ff0000" stroke="#84c64a" stroke-width="0.8"/>
<circle cx="258.8" cy="169.3" r="2.05" fill="#ff0000" stroke="#84c64a" stroke-width="0.8"/>
<circle cx="263.4" cy="149.1" r="2.05" fill="#ff0000" stroke="#84c64a" stroke-width="0.8"/>
<circle cx="268.0" cy="172.0" r="2.05" fill="#ff0000" stroke="#84c64a" stroke-width="0.8"/>
<circle cx="272.6" cy="159.7" r="2.05" fill="#ff0000" stroke="#84c64a" stroke-width="0.8"/>
<circle cx="277.2" cy="153.5" r="2.05" fill="#ff0000" stroke="#84c64a" stroke-width="0.8"/>
<circle cx="281.8" cy="158.2" r="2.05" fill="#ff0000" stroke="#84c64a" stroke-width="0.8"/>
<circle cx="286.4" cy="156.4" r="2.05" fill="#ff0000" stroke="#84c64a" stroke-width="0.8"/>
<circle cx="291.0" cy="156.4" r="2.05" fill="#ff0000" stroke="#84c64a" stroke-width="0.8"/>
<circle cx="295.6" cy="166.5" r="2.05" fill="#ff0000" stroke="#84c64a" stroke-width="0.8"/>
<circle cx="300.2" cy="163.9" r="2.05" fill="#ff0000" stroke="#84c64a" stroke-width="0.8"/>
<circle cx="304.8" cy="158.8" r="2.05" fill="#ff0000" stroke="#84c64a" stroke-width="0.8"/>
<circle cx="309.4" cy="144.0" r="2.05" fill="#ff0000" stroke="#84c64a" stroke-width="0.8"/>
<circle cx="314.0" cy="144.0" r="2.05" fill="#ff0000" stroke="#84c64a" stroke-width="0.8"/>
<circle cx="318.6" cy="154.1" r="2.05" fill="#ff0000" stroke="#84c64a" stroke-width="0.8"/>
<circle cx="323.2" cy="153.5" r="2.05" fill="#ff0000" stroke="#84c64a" stroke-width="0.8"/>
<circle cx="327.8" cy="146.8" r="2.05" fill="#ff0000" stroke="#84c64a" stroke-width="0.8"/>
<circle cx="332.4" cy="145.1" r="2.05" fill="#ff0000" stroke="#84c64a" stroke-width="0.8"/>
<circle cx="337.0" cy="143.5" r="2.05" fill="#ff0000" stroke="#84c64a" stroke-width="0.8"/>
<circle cx="341.6" cy="147.3" r="2.05" fill="#ff0000" stroke="#84c64a" stroke-width="0.8"/>
<circle cx="346.2" cy="152.6" r="2.05" fill="#ff0000" stroke="#84c64a" stroke-width="0.8"/>
<circle cx="350.8" cy="149.2" r="2.05" fill="#ff0000" stroke="#84c64a" stroke-width="0.8"/>
<circle cx="355.4" cy="143.1" r="2.05" fill="#ff0000" stroke="#84c64a" stroke-width="0.8"/>
<circle cx="360.0" cy="143.1" r="2.05" fill="#ff0000" stroke="#84c64a" stroke-width="0.8"/>
<circle cx="364.6" cy="153.2" r="2.05" fill="#ff0000" stroke="#84c64a" stroke-width="0.8"/>
<circle cx="369.2" cy="159.6" r="2.05" fill="#ff0000" stroke="#84c64a" stroke-width="0.8"/>
<circle cx="373.8" cy="160.9" r="2.05" fill="#ff0000" stroke="#84c64a" stroke-width="0.8"/>
<circle cx="378.4" cy="158.0" r="2.05" fill="#ff0000" stroke="#84c64a" stroke-width="0.8"/>
<circle cx="383.0" cy="152.6" r="2.05" fill="#ff0000" stroke="#84c64a" stroke-width="0.8"/>
<circle cx="387.6" cy="150.2" r="2.05" fill="#ff0000" stroke="#84c64a" stroke-width="0.8"/>
<circle cx="392.2" cy="153.5" r="2.05" fill="#ff0000" stroke="#84c64a" stroke-width="0.8"/>
<circle cx="396.8" cy="157.1" r="2.05" fill="#ff0000" stroke="#84c64a" stroke-width="0.8"/>
<circle cx="401.4" cy="145.6" r="2.05" fill="#ff0000" stroke="#84c64a" stroke-width="0.8"/>
<circle cx="406.0" cy="152.6" r="2.05" fill="#ff0000" stroke="#84c64a" stroke-width="0.8"/>
<circle cx="410.6" cy="143.1" r="2.05" fill="#ff0000" stroke="#84c64a" stroke-width="0.8"/>
<circle cx="415.2" cy="144.4" r="2.05" fill="#ff0000" stroke="#84c64a" stroke-width="0.8"/>
<circle cx="419.8" cy="144.8" r="2.05" fill="#ff0000" stroke="#84c64a" stroke-width="0.8"/>
<circle cx="424.4" cy="151.6" r="2.05" fill="#ff0000" stroke="#84c64a" stroke-width="0.8"/>
<circle cx="429.0" cy="145.6" r="2.05" fill="#ff0000" stroke="#84c64a" stroke-width="0.8"/>
<circle cx="433.6" cy="156.7" r="2.05" fill="#ff0000" stroke="#84c64a" stroke-width="0.8"/>
<circle cx="438.1" cy="164.0" r="2.05" fill="#ff0000" stroke="#84c64a" stroke-width="0.8"/>
<circle cx="442.7" cy="173.6" r="2.05" fill="#ff0000" stroke="#84c64a" stroke-width="0.8"/>
<circle cx="447.3" cy="159.3" r="2.05" fill="#ff0000" stroke="#84c64a" stroke-width="0.8"/>
<circle cx="451.9" cy="167.5" r="2.05" fill="#ff0000" stroke="#84c64a" stroke-width="0.8"/>
<circle cx="456.5" cy="154.9" r="2.05" fill="#ff0000" stroke="#84c64a" stroke-width="0.8"/>
<circle cx="461.1" cy="164.3" r="2.05" fill="#ff0000" stroke="#84c64a" stroke-width="0.8"/>
<circle cx="465.7" cy="151.3" r="2.05" fill="#ff0000" stroke="#84c64a" stroke-width="0.8"/>
<circle cx="470.3" cy="152.6" r="2.05" fill="#ff0000" stroke="#84c64a" stroke-width="0.8"/>
<circle cx="474.9" cy="153.5" r="2.05" fill="#ff0000" stroke="#84c64a" stroke-width="0.8"/>
<circle cx="479.5" cy="145.9" r="2.05" fill="#ff0000" stroke="#84c64a" stroke-width="0.8"/>
<circle cx="484.1" cy="156.3" r="2.05" fill="#ff0000" stroke="#84c64a" stroke-width="0.8"/>
<circle cx="488.7" cy="158.8" r="2.05" fill="#ff0000" stroke="#84c64a" stroke-width="0.8"/>
<circle cx="493.3" cy="155.6" r="2.05" fill="#ff0000" stroke="#84c64a" stroke-width="0.8"/>
<circle cx="497.9" cy="151.3" r="2.05" fill="#ff0000" stroke="#84c64a" stroke-width="0.8"/>
<circle cx="502.5" cy="161.2" r="2.05" fill="#ff0000" stroke="#84c64a" stroke-width="0.8"/>
<circle cx="507.1" cy="152.2" r="2.05" fill="#ff0000" stroke="#84c64a" stroke-width="0.8"/>
<circle cx="511.7" cy="149.4" r="2.05" fill="#ff0000" stroke="#84c64a" stroke-width="0.8"/>
<circle cx="516.3" cy="149.0" r="2.05" fill="#ff0000" stroke="#84c64a" stroke-width="0.8"/>
<circle cx="520.9" cy="148.6" r="2.05" fill="#ff0000" stroke="#84c64a" stroke-width="0.8"/>
<circle cx="525.5" cy="149.4" r="2.05" fill="#ff0000" stroke="#84c64a" stroke-width="0.8"/>
<circle cx="530.1" cy="153.1" r="2.05" fill="#ff0000" stroke="#84c64a" stroke-width="0.8"/>
<circle cx="534.7" cy="153.1" r="2.05" fill="#ff0000" stroke="#84c64a" stroke-width="0.8"/>
<circle cx="539.3" cy="148.4" r="2.05" fill="#ff0000" stroke="#84c64a" stroke-width="0.8"/>
<circle cx="543.9" cy="159.1" r="2.05" fill="#ff0000" stroke="#84c64a" stroke-width="0.8"/>
<circle cx="548.5" cy="147.8" r="2.05" fill="#ff0000" stroke="#84c64a" stroke-width="0.8"/>
<circle cx="553.1" cy="147.5" r="2.05" fill="#ff0000" stroke="#84c64a" stroke-width="0.8"/>
<circle cx="557.7" cy="142.6" r="2.05" fill="#ff0000" stroke="#84c64a" stroke-width="0.8"/>
<circle cx="562.3" cy="142.3" r="2.05" fill="#ff0000" stroke="#84c64a" stroke-width="0.8"/>
<circle cx="566.9" cy="148.6" r="2.05" fill="#ff0000" stroke="#84c64a" stroke-width="0.8"/>
<circle cx="571.5" cy="142.6" r="2.05" fill="#ff0000" stroke="#84c64a" stroke-width="0.8"/>
<circle cx="576.1" cy="143.1" r="2.05" fill="#ff0000" stroke="#84c64a" stroke-width="0.8"/>
<circle cx="580.7" cy="151.8" r="2.05" fill="#ff0000" stroke="#84c64a" stroke-width="0.8"/>
<circle cx="585.3" cy="149.0" r="2.05" fill="#ff0000" stroke="#84c64a" stroke-width="0.8"/>
<circle cx="589.9" cy="141.6" r="2.05" fill="#ff0000" stroke="#84c64a" stroke-width="0.8"/>
<line x1="95.0" y1="296.5" x2="605.1" y2="296.5" stroke="#bababa" stroke-width="1"/>
<line x1="95.0" y1="318.7" x2="605.1" y2="318.7" stroke="#bababa" stroke-width="1"/>
<line x1="95.0" y1="340.9" x2="605.1" y2="340.9" stroke="#bababa" stroke-width="1"/>
<line x1="95.0" y1="363.1" x2="605.1" y2="363.1" stroke="#bababa" stroke-width="1"/>
<line x1="95.0" y1="385.2" x2="605.1" y2="385.2" stroke="#bababa" stroke-width="1"/>
<line x1="95.0" y1="407.4" x2="605.1" y2="407.4" stroke="#bababa" stroke-width="1"/>
<line x1="95.0" y1="429.6" x2="605.1" y2="429.6" stroke="#bababa" stroke-width="1"/>
<line x1="95.0" y1="451.7" x2="605.1" y2="451.7" stroke="#bababa" stroke-width="1"/>
<line x1="99.0" y1="296.5" x2="99.0" y2="451.7" stroke="#b4b4b4" stroke-width="1"/>
<line x1="95.0" y1="296.5" x2="99.0" y2="296.5" stroke="#b4b4b4" stroke-width="1"/>
<line x1="95.0" y1="318.7" x2="99.0" y2="318.7" stroke="#b4b4b4" stroke-width="1"/>
<line x1="95.0" y1="340.9" x2="99.0" y2="340.9" stroke="#b4b4b4" stroke-width="1"/>
<line x1="95.0" y1="363.1" x2="99.0" y2="363.1" stroke="#b4b4b4" stroke-width="1"/>
<line x1="95.0" y1="385.2" x2="99.0" y2="385.2" stroke="#b4b4b4" stroke-width="1"/>
<line x1="95.0" y1="407.4" x2="99.0" y2="407.4" stroke="#b4b4b4" stroke-width="1"/>
<line x1="95.0" y1="429.6" x2="99.0" y2="429.6" stroke="#b4b4b4" stroke-width="1"/>
<line x1="95.0" y1="451.7" x2="99.0" y2="451.7" stroke="#b4b4b4" stroke-width="1"/>
<line x1="99.0" y1="407.4" x2="605.1" y2="407.4" stroke="#b4b4b4" stroke-width="1"/>
<line x1="99.0" y1="407.4" x2="99.0" y2="411.4" stroke="#b4b4b4" stroke-width="1"/>
<line x1="126.6" y1="407.4" x2="126.6" y2="411.4" stroke="#b4b4b4" stroke-width="1"/>
<line x1="154.2" y1="407.4" x2="154.2" y2="411.4" stroke="#b4b4b4" stroke-width="1"/>
<line x1="181.8" y1="407.4" x2="181.8" y2="411.4" stroke="#b4b4b4" stroke-width="1"/>
<line x1="209.4" y1="407.4" x2="209.4" y2="411.4" stroke="#b4b4b4" stroke-width="1"/>
<line x1="237.0" y1="407.4" x2="237.0" y2="411.4" stroke="#b4b4b4" stroke-width="1"/>
<line x1="264.6" y1="407.4" x2="264.6" y2="411.4" stroke="#b4b4b4" stroke-width="1"/>
<line x1="292.2" y1="407.4" x2="292.2" y2="411.4" stroke="#b4b4b4" stroke-width="1"/>
<line x1="319.8" y1="407.4" x2="319.8" y2="411.4" stroke="#b4b4b4" stroke-width="1"/>
<line x1="347.5" y1="407.4" x2="347.5" y2="411.4" stroke="#b4b4b4" stroke-width="1"/>
<line x1="375.1" y1="407.4" x2="375.1" y2="411.4" stroke="#b4b4b4" stroke-width="1"/>
<line x1="402.7" y1="407.4" x2="402.7" y2="411.4" stroke="#b4b4b4" stroke-width="1"/>
<line x1="430.3" y1="407.4" x2="430.3" y2="411.4" stroke="#b4b4b4" stroke-width="1"/>
<line x1="457.9" y1="407.4" x2="457.9" y2="411.4" stroke="#b4b4b4" stroke-width="1"/>
<line x1="485.5" y1="407.4" x2="485.5" y2="411.4" stroke="#b4b4b4" stroke-width="1"/>
<line x1="513.1" y1="407.4" x2="513.1" y2="411.4" stroke="#b4b4b4" stroke-width="1"/>
<line x1="540.7" y1="407.4" x2="540.7" y2="411.4" stroke="#b4b4b4" stroke-width="1"/>
<line x1="568.3" y1="407.4" x2="568.3" y2="411.4" stroke="#b4b4b4" stroke-width="1"/>
<line x1="595.9" y1="407.4" x2="595.9" y2="411.4" stroke="#b4b4b4" stroke-width="1"/>
<text x="89.4" y="300.5" font-size="11.3" text-anchor="end" font-weight="normal" font-style="normal" fill="#000" >0.2</text>
<text x="89.4" y="322.7" font-size="11.3" text-anchor="end" font-weight="normal" font-style="normal" fill="#000" >0.16</text>
<text x="89.4" y="344.8" font-size="11.3" text-anchor="end" font-weight="normal" font-style="normal" fill="#000" >0.12</text>
<text x="89.4" y="367.0" font-size="11.3" text-anchor="end" font-weight="normal" font-style="normal" fill="#000" >0.08</text>
<text x="89.4" y="389.2" font-size="11.3" text-anchor="end" font-weight="normal" font-style="normal" fill="#000" >0.04</text>
<text x="89.4" y="411.4" font-size="11.3" text-anchor="end" font-weight="normal" font-style="normal" fill="#000" >0</text>
<text x="89.4" y="433.5" font-size="11.3" text-anchor="end" font-weight="normal" font-style="normal" fill="#000" >-0.04</text>
<text x="89.4" y="455.7" font-size="11.3" text-anchor="end" font-weight="normal" font-style="normal" fill="#000" >-0.08</text>
<text x="99.0" y="423.8" font-size="11.3" text-anchor="middle" font-weight="normal" font-style="normal" fill="#000" >0</text>
<text x="126.6" y="423.8" font-size="11.3" text-anchor="middle" font-weight="normal" font-style="normal" fill="#000" >6</text>
<text x="154.2" y="423.8" font-size="11.3" text-anchor="middle" font-weight="normal" font-style="normal" fill="#000" >12</text>
<text x="181.8" y="423.8" font-size="11.3" text-anchor="middle" font-weight="normal" font-style="normal" fill="#000" >18</text>
<text x="209.4" y="423.8" font-size="11.3" text-anchor="middle" font-weight="normal" font-style="normal" fill="#000" >24</text>
<text x="237.0" y="423.8" font-size="11.3" text-anchor="middle" font-weight="normal" font-style="normal" fill="#000" >30</text>
<text x="264.6" y="423.8" font-size="11.3" text-anchor="middle" font-weight="normal" font-style="normal" fill="#000" >36</text>
<text x="292.2" y="423.8" font-size="11.3" text-anchor="middle" font-weight="normal" font-style="normal" fill="#000" >42</text>
<text x="319.8" y="423.8" font-size="11.3" text-anchor="middle" font-weight="normal" font-style="normal" fill="#000" >48</text>
<text x="347.5" y="423.8" font-size="11.3" text-anchor="middle" font-weight="normal" font-style="normal" fill="#000" >54</text>
<text x="375.1" y="423.8" font-size="11.3" text-anchor="middle" font-weight="normal" font-style="normal" fill="#000" >60</text>
<text x="402.7" y="423.8" font-size="11.3" text-anchor="middle" font-weight="normal" font-style="normal" fill="#000" >66</text>
<text x="430.3" y="423.8" font-size="11.3" text-anchor="middle" font-weight="normal" font-style="normal" fill="#000" >72</text>
<text x="457.9" y="423.8" font-size="11.3" text-anchor="middle" font-weight="normal" font-style="normal" fill="#000" >78</text>
<text x="485.5" y="423.8" font-size="11.3" text-anchor="middle" font-weight="normal" font-style="normal" fill="#000" >84</text>
<text x="513.1" y="423.8" font-size="11.3" text-anchor="middle" font-weight="normal" font-style="normal" fill="#000" >90</text>
<text x="540.7" y="423.8" font-size="11.3" text-anchor="middle" font-weight="normal" font-style="normal" fill="#000" >96</text>
<text x="568.3" y="423.8" font-size="11.3" text-anchor="middle" font-weight="normal" font-style="normal" fill="#000" >102</text>
<text x="595.9" y="423.8" font-size="11.3" text-anchor="middle" font-weight="normal" font-style="normal" fill="#000" >108</text>
<line x1="258.3" y1="295.0" x2="258.3" y2="453.0" stroke="#ff2020" stroke-width="1.3"/>
<line x1="424.1" y1="295.0" x2="424.1" y2="453.0" stroke="#ff2020" stroke-width="1.3"/>
<text x="172.4" y="446.4" font-size="11.5" text-anchor="middle" font-weight="bold" font-style="normal" fill="#00b050" >Spontaneous</text>
<text x="339.9" y="446.4" font-size="11.5" text-anchor="middle" font-weight="bold" font-style="normal" fill="#ff0000" >Paced</text>
<text x="526.2" y="446.4" font-size="11.5" text-anchor="middle" font-weight="bold" font-style="normal" fill="#00b050" >Spontaneous</text>
<text x="327.8" y="477.2" font-size="11.5" text-anchor="middle" font-weight="bold" font-style="normal" fill="#000" >Breath number</text>
<path d="M103.6 376.0L106.6 381.4L100.6 381.4Z" fill="#0d0d26" stroke="#2e75b6" stroke-width="0.8"/>
<path d="M108.2 375.1L111.2 380.5L105.2 380.5Z" fill="#0d0d26" stroke="#2e75b6" stroke-width="0.8"/>
<path d="M112.8 382.8L115.8 388.2L109.8 388.2Z" fill="#0d0d26" stroke="#2e75b6" stroke-width="0.8"/>
<path d="M117.4 378.6L120.4 384.0L114.4 384.0Z" fill="#0d0d26" stroke="#2e75b6" stroke-width="0.8"/>
<path d="M122.0 378.7L125.0 384.1L119.0 384.1Z" fill="#0d0d26" stroke="#2e75b6" stroke-width="0.8"/>
<path d="M126.6 371.2L129.6 376.6L123.6 376.6Z" fill="#0d0d26" stroke="#2e75b6" stroke-width="0.8"/>
<path d="M131.2 372.7L134.2 378.1L128.2 378.1Z" fill="#0d0d26" stroke="#2e75b6" stroke-width="0.8"/>
<path d="M135.8 377.0L138.8 382.4L132.8 382.4Z" fill="#0d0d26" stroke="#2e75b6" stroke-width="0.8"/>
<path d="M140.4 375.3L143.4 380.7L137.4 380.7Z" fill="#0d0d26" stroke="#2e75b6" stroke-width="0.8"/>
<path d="M145.0 380.4L148.0 385.8L142.0 385.8Z" fill="#0d0d26" stroke="#2e75b6" stroke-width="0.8"/>
<path d="M149.6 383.7L152.6 389.1L146.6 389.1Z" fill="#0d0d26" stroke="#2e75b6" stroke-width="0.8"/>
<path d="M154.2 385.8L157.2 391.2L151.2 391.2Z" fill="#0d0d26" stroke="#2e75b6" stroke-width="0.8"/>
<path d="M158.8 377.6L161.8 383.0L155.8 383.0Z" fill="#0d0d26" stroke="#2e75b6" stroke-width="0.8"/>
<path d="M163.4 377.6L166.4 383.0L160.4 383.0Z" fill="#0d0d26" stroke="#2e75b6" stroke-width="0.8"/>
<path d="M168.0 371.2L171.0 376.6L165.0 376.6Z" fill="#0d0d26" stroke="#2e75b6" stroke-width="0.8"/>
<path d="M172.6 370.9L175.6 376.3L169.6 376.3Z" fill="#0d0d26" stroke="#2e75b6" stroke-width="0.8"/>
<path d="M177.2 366.7L180.2 372.1L174.2 372.1Z" fill="#0d0d26" stroke="#2e75b6" stroke-width="0.8"/>
<path d="M181.8 371.5L184.8 376.9L178.8 376.9Z" fill="#0d0d26" stroke="#2e75b6" stroke-width="0.8"/>
<path d="M186.4 374.9L189.4 380.3L183.4 380.3Z" fill="#0d0d26" stroke="#2e75b6" stroke-width="0.8"/>
<path d="M191.0 377.8L194.0 383.2L188.0 383.2Z" fill="#0d0d26" stroke="#2e75b6" stroke-width="0.8"/>
<path d="M195.6 378.7L198.6 384.1L192.6 384.1Z" fill="#0d0d26" stroke="#2e75b6" stroke-width="0.8"/>
<path d="M200.2 372.5L203.2 377.9L197.2 377.9Z" fill="#0d0d26" stroke="#2e75b6" stroke-width="0.8"/>
<path d="M204.8 369.2L207.8 374.6L201.8 374.6Z" fill="#0d0d26" stroke="#2e75b6" stroke-width="0.8"/>
<path d="M209.4 370.1L212.4 375.5L206.4 375.5Z" fill="#0d0d26" stroke="#2e75b6" stroke-width="0.8"/>
<path d="M214.0 373.7L217.0 379.1L211.0 379.1Z" fill="#0d0d26" stroke="#2e75b6" stroke-width="0.8"/>
<path d="M218.6 367.6L221.6 373.0L215.6 373.0Z" fill="#0d0d26" stroke="#2e75b6" stroke-width="0.8"/>
<path d="M223.2 366.4L226.2 371.8L220.2 371.8Z" fill="#0d0d26" stroke="#2e75b6" stroke-width="0.8"/>
<path d="M227.8 360.6L230.8 366.0L224.8 366.0Z" fill="#0d0d26" stroke="#2e75b6" stroke-width="0.8"/>
<path d="M232.4 356.5L235.4 361.9L229.4 361.9Z" fill="#0d0d26" stroke="#2e75b6" stroke-width="0.8"/>
<path d="M237.0 364.8L240.0 370.2L234.0 370.2Z" fill="#0d0d26" stroke="#2e75b6" stroke-width="0.8"/>
<path d="M241.6 366.6L244.6 372.0L238.6 372.0Z" fill="#0d0d26" stroke="#2e75b6" stroke-width="0.8"/>
<path d="M246.2 371.6L249.2 377.0L243.2 377.0Z" fill="#0d0d26" stroke="#2e75b6" stroke-width="0.8"/>
<path d="M250.8 365.4L253.8 370.8L247.8 370.8Z" fill="#0d0d26" stroke="#2e75b6" stroke-width="0.8"/>
<path d="M255.4 371.3L258.4 376.7L252.4 376.7Z" fill="#0d0d26" stroke="#2e75b6" stroke-width="0.8"/>
<path d="M260.0 369.8L263.0 375.2L257.0 375.2Z" fill="#0d0d26" stroke="#2e75b6" stroke-width="0.8"/>
<path d="M264.6 362.6L267.6 368.0L261.6 368.0Z" fill="#0d0d26" stroke="#2e75b6" stroke-width="0.8"/>
<path d="M269.2 370.0L272.2 375.4L266.2 375.4Z" fill="#0d0d26" stroke="#2e75b6" stroke-width="0.8"/>
<path d="M273.8 350.4L276.8 355.8L270.8 355.8Z" fill="#0d0d26" stroke="#2e75b6" stroke-width="0.8"/>
<path d="M278.4 347.6L281.4 353.0L275.4 353.0Z" fill="#0d0d26" stroke="#2e75b6" stroke-width="0.8"/>
<path d="M283.0 347.6L286.0 353.0L280.0 353.0Z" fill="#0d0d26" stroke="#2e75b6" stroke-width="0.8"/>
<path d="M287.6 341.3L290.6 346.7L284.6 346.7Z" fill="#0d0d26" stroke="#2e75b6" stroke-width="0.8"/>
<path d="M292.2 338.9L295.2 344.3L289.2 344.3Z" fill="#0d0d26" stroke="#2e75b6" stroke-width="0.8"/>
<path d="M296.8 338.9L299.8 344.3L293.8 344.3Z" fill="#0d0d26" stroke="#2e75b6" stroke-width="0.8"/>
<path d="M301.4 344.4L304.4 349.8L298.4 349.8Z" fill="#0d0d26" stroke="#2e75b6" stroke-width="0.8"/>
<path d="M306.0 343.7L309.0 349.1L303.0 349.1Z" fill="#0d0d26" stroke="#2e75b6" stroke-width="0.8"/>
<path d="M310.6 343.4L313.6 348.8L307.6 348.8Z" fill="#0d0d26" stroke="#2e75b6" stroke-width="0.8"/>
<path d="M315.2 340.1L318.2 345.5L312.2 345.5Z" fill="#0d0d26" stroke="#2e75b6" stroke-width="0.8"/>
<path d="M319.8 342.2L322.8 347.6L316.8 347.6Z" fill="#0d0d26" stroke="#2e75b6" stroke-width="0.8"/>
<path d="M324.4 343.7L327.4 349.1L321.4 349.1Z" fill="#0d0d26" stroke="#2e75b6" stroke-width="0.8"/>
<path d="M329.1 335.8L332.1 341.2L326.1 341.2Z" fill="#0d0d26" stroke="#2e75b6" stroke-width="0.8"/>
<path d="M333.7 337.6L336.7 343.0L330.7 343.0Z" fill="#0d0d26" stroke="#2e75b6" stroke-width="0.8"/>
<path d="M338.3 334.0L341.3 339.4L335.3 339.4Z" fill="#0d0d26" stroke="#2e75b6" stroke-width="0.8"/>
<path d="M342.9 331.6L345.9 337.0L339.9 337.0Z" fill="#0d0d26" stroke="#2e75b6" stroke-width="0.8"/>
<path d="M347.5 332.8L350.5 338.2L344.5 338.2Z" fill="#0d0d26" stroke="#2e75b6" stroke-width="0.8"/>
<path d="M352.1 335.9L355.1 341.3L349.1 341.3Z" fill="#0d0d26" stroke="#2e75b6" stroke-width="0.8"/>
<path d="M356.7 338.8L359.7 344.2L353.7 344.2Z" fill="#0d0d26" stroke="#2e75b6" stroke-width="0.8"/>
<path d="M361.3 334.9L364.3 340.3L358.3 340.3Z" fill="#0d0d26" stroke="#2e75b6" stroke-width="0.8"/>
<path d="M365.9 332.7L368.9 338.1L362.9 338.1Z" fill="#0d0d26" stroke="#2e75b6" stroke-width="0.8"/>
<path d="M370.5 326.6L373.5 332.0L367.5 332.0Z" fill="#0d0d26" stroke="#2e75b6" stroke-width="0.8"/>
<path d="M375.1 323.6L378.1 329.0L372.1 329.0Z" fill="#0d0d26" stroke="#2e75b6" stroke-width="0.8"/>
<path d="M379.7 327.2L382.7 332.6L376.7 332.6Z" fill="#0d0d26" stroke="#2e75b6" stroke-width="0.8"/>
<path d="M384.3 327.8L387.3 333.2L381.3 333.2Z" fill="#0d0d26" stroke="#2e75b6" stroke-width="0.8"/>
<path d="M388.9 321.2L391.9 326.6L385.9 326.6Z" fill="#0d0d26" stroke="#2e75b6" stroke-width="0.8"/>
<path d="M393.5 321.8L396.5 327.2L390.5 327.2Z" fill="#0d0d26" stroke="#2e75b6" stroke-width="0.8"/>
<path d="M398.1 324.9L401.1 330.3L395.1 330.3Z" fill="#0d0d26" stroke="#2e75b6" stroke-width="0.8"/>
<path d="M402.7 324.2L405.7 329.6L399.7 329.6Z" fill="#0d0d26" stroke="#2e75b6" stroke-width="0.8"/>
<path d="M407.3 327.8L410.3 333.2L404.3 333.2Z" fill="#0d0d26" stroke="#2e75b6" stroke-width="0.8"/>
<path d="M411.9 329.9L414.9 335.3L408.9 335.3Z" fill="#0d0d26" stroke="#2e75b6" stroke-width="0.8"/>
<path d="M416.5 331.5L419.5 336.9L413.5 336.9Z" fill="#0d0d26" stroke="#2e75b6" stroke-width="0.8"/>
<path d="M421.1 335.5L424.1 340.9L418.1 340.9Z" fill="#0d0d26" stroke="#2e75b6" stroke-width="0.8"/>
<path d="M425.7 329.7L428.7 335.1L422.7 335.1Z" fill="#0d0d26" stroke="#2e75b6" stroke-width="0.8"/>
<path d="M430.3 329.7L433.3 335.1L427.3 335.1Z" fill="#0d0d26" stroke="#2e75b6" stroke-width="0.8"/>
<path d="M434.9 332.9L437.9 338.3L431.9 338.3Z" fill="#0d0d26" stroke="#2e75b6" stroke-width="0.8"/>
<path d="M439.5 323.3L442.5 328.7L436.5 328.7Z" fill="#0d0d26" stroke="#2e75b6" stroke-width="0.8"/>
<path d="M444.1 329.4L447.1 334.8L441.1 334.8Z" fill="#0d0d26" stroke="#2e75b6" stroke-width="0.8"/>
<path d="M448.7 332.1L451.7 337.5L445.7 337.5Z" fill="#0d0d26" stroke="#2e75b6" stroke-width="0.8"/>
<path d="M453.3 339.7L456.3 345.1L450.3 345.1Z" fill="#0d0d26" stroke="#2e75b6" stroke-width="0.8"/>
<path d="M457.9 343.4L460.9 348.8L454.9 348.8Z" fill="#0d0d26" stroke="#2e75b6" stroke-width="0.8"/>
<path d="M462.5 346.8L465.5 352.2L459.5 352.2Z" fill="#0d0d26" stroke="#2e75b6" stroke-width="0.8"/>
<path d="M467.1 347.2L470.1 352.6L464.1 352.6Z" fill="#0d0d26" stroke="#2e75b6" stroke-width="0.8"/>
<path d="M471.7 349.6L474.7 355.0L468.7 355.0Z" fill="#0d0d26" stroke="#2e75b6" stroke-width="0.8"/>
<path d="M476.3 352.4L479.3 357.8L473.3 357.8Z" fill="#0d0d26" stroke="#2e75b6" stroke-width="0.8"/>
<path d="M480.9 353.3L483.9 358.7L477.9 358.7Z" fill="#0d0d26" stroke="#2e75b6" stroke-width="0.8"/>
<path d="M485.5 355.1L488.5 360.5L482.5 360.5Z" fill="#0d0d26" stroke="#2e75b6" stroke-width="0.8"/>
<path d="M490.1 353.3L493.1 358.7L487.1 358.7Z" fill="#0d0d26" stroke="#2e75b6" stroke-width="0.8"/>
<path d="M494.7 355.1L497.7 360.5L491.7 360.5Z" fill="#0d0d26" stroke="#2e75b6" stroke-width="0.8"/>
<path d="M499.3 357.3L502.3 362.7L496.3 362.7Z" fill="#0d0d26" stroke="#2e75b6" stroke-width="0.8"/>
<path d="M503.9 355.1L506.9 360.5L500.9 360.5Z" fill="#0d0d26" stroke="#2e75b6" stroke-width="0.8"/>
<path d="M508.5 350.2L511.5 355.6L505.5 355.6Z" fill="#0d0d26" stroke="#2e75b6" stroke-width="0.8"/>
<path d="M513.1 352.2L516.1 357.6L510.1 357.6Z" fill="#0d0d26" stroke="#2e75b6" stroke-width="0.8"/>
<path d="M517.7 351.6L520.7 357.0L514.7 357.0Z" fill="#0d0d26" stroke="#2e75b6" stroke-width="0.8"/>
<path d="M522.3 352.7L525.3 358.1L519.3 358.1Z" fill="#0d0d26" stroke="#2e75b6" stroke-width="0.8"/>
<path d="M526.9 350.3L529.9 355.7L523.9 355.7Z" fill="#0d0d26" stroke="#2e75b6" stroke-width="0.8"/>
<path d="M531.5 350.6L534.5 356.0L528.5 356.0Z" fill="#0d0d26" stroke="#2e75b6" stroke-width="0.8"/>
<path d="M536.1 355.9L539.1 361.3L533.1 361.3Z" fill="#0d0d26" stroke="#2e75b6" stroke-width="0.8"/>
<path d="M540.7 350.6L543.7 356.0L537.7 356.0Z" fill="#0d0d26" stroke="#2e75b6" stroke-width="0.8"/>
<path d="M545.3 352.7L548.3 358.1L542.3 358.1Z" fill="#0d0d26" stroke="#2e75b6" stroke-width="0.8"/>
<path d="M549.9 353.6L552.9 359.0L546.9 359.0Z" fill="#0d0d26" stroke="#2e75b6" stroke-width="0.8"/>
<path d="M554.5 352.7L557.5 358.1L551.5 358.1Z" fill="#0d0d26" stroke="#2e75b6" stroke-width="0.8"/>
<path d="M559.1 355.4L562.1 360.8L556.1 360.8Z" fill="#0d0d26" stroke="#2e75b6" stroke-width="0.8"/>
<path d="M563.7 356.8L566.7 362.2L560.7 362.2Z" fill="#0d0d26" stroke="#2e75b6" stroke-width="0.8"/>
<path d="M568.3 360.1L571.3 365.5L565.3 365.5Z" fill="#0d0d26" stroke="#2e75b6" stroke-width="0.8"/>
<path d="M572.9 363.7L575.9 369.1L569.9 369.1Z" fill="#0d0d26" stroke="#2e75b6" stroke-width="0.8"/>
<path d="M577.5 366.1L580.5 371.5L574.5 371.5Z" fill="#0d0d26" stroke="#2e75b6" stroke-width="0.8"/>
<path d="M582.1 365.5L585.1 370.9L579.1 370.9Z" fill="#0d0d26" stroke="#2e75b6" stroke-width="0.8"/>
<path d="M586.7 366.7L589.7 372.1L583.7 372.1Z" fill="#0d0d26" stroke="#2e75b6" stroke-width="0.8"/>
<path d="M591.3 367.2L594.3 372.6L588.3 372.6Z" fill="#0d0d26" stroke="#2e75b6" stroke-width="0.8"/>
<path d="M595.9 362.5L598.9 367.9L592.9 367.9Z" fill="#0d0d26" stroke="#2e75b6" stroke-width="0.8"/>
<rect x="101.1" y="380.3" width="5.0" height="5.0" fill="#f79646" stroke="#c8483a" stroke-width="0.8"/>
<rect x="105.7" y="378.4" width="5.0" height="5.0" fill="#f79646" stroke="#c8483a" stroke-width="0.8"/>
<rect x="110.3" y="378.4" width="5.0" height="5.0" fill="#f79646" stroke="#c8483a" stroke-width="0.8"/>
<rect x="114.9" y="383.9" width="5.0" height="5.0" fill="#f79646" stroke="#c8483a" stroke-width="0.8"/>
<rect x="119.5" y="377.4" width="5.0" height="5.0" fill="#f79646" stroke="#c8483a" stroke-width="0.8"/>
<rect x="124.1" y="382.6" width="5.0" height="5.0" fill="#f79646" stroke="#c8483a" stroke-width="0.8"/>
<rect x="128.7" y="376.7" width="5.0" height="5.0" fill="#f79646" stroke="#c8483a" stroke-width="0.8"/>
<rect x="133.3" y="376.4" width="5.0" height="5.0" fill="#f79646" stroke="#c8483a" stroke-width="0.8"/>
<rect x="137.9" y="379.3" width="5.0" height="5.0" fill="#f79646" stroke="#c8483a" stroke-width="0.8"/>
<rect x="142.5" y="369.5" width="5.0" height="5.0" fill="#f79646" stroke="#c8483a" stroke-width="0.8"/>
<rect x="147.1" y="381.1" width="5.0" height="5.0" fill="#f79646" stroke="#c8483a" stroke-width="0.8"/>
<rect x="151.7" y="380.3" width="5.0" height="5.0" fill="#f79646" stroke="#c8483a" stroke-width="0.8"/>
<rect x="156.3" y="376.4" width="5.0" height="5.0" fill="#f79646" stroke="#c8483a" stroke-width="0.8"/>
<rect x="160.9" y="376.4" width="5.0" height="5.0" fill="#f79646" stroke="#c8483a" stroke-width="0.8"/>
<rect x="165.5" y="370.1" width="5.0" height="5.0" fill="#f79646" stroke="#c8483a" stroke-width="0.8"/>
<rect x="170.1" y="369.3" width="5.0" height="5.0" fill="#f79646" stroke="#c8483a" stroke-width="0.8"/>
<rect x="174.7" y="369.3" width="5.0" height="5.0" fill="#f79646" stroke="#c8483a" stroke-width="0.8"/>
<rect x="179.3" y="368.1" width="5.0" height="5.0" fill="#f79646" stroke="#c8483a" stroke-width="0.8"/>
<rect x="183.9" y="373.6" width="5.0" height="5.0" fill="#f79646" stroke="#c8483a" stroke-width="0.8"/>
<rect x="188.5" y="367.9" width="5.0" height="5.0" fill="#f79646" stroke="#c8483a" stroke-width="0.8"/>
<rect x="193.1" y="367.1" width="5.0" height="5.0" fill="#f79646" stroke="#c8483a" stroke-width="0.8"/>
<rect x="197.7" y="369.3" width="5.0" height="5.0" fill="#f79646" stroke="#c8483a" stroke-width="0.8"/>
<rect x="202.3" y="375.9" width="5.0" height="5.0" fill="#f79646" stroke="#c8483a" stroke-width="0.8"/>
<rect x="206.9" y="374.2" width="5.0" height="5.0" fill="#f79646" stroke="#c8483a" stroke-width="0.8"/>
<rect x="211.5" y="367.9" width="5.0" height="5.0" fill="#f79646" stroke="#c8483a" stroke-width="0.8"/>
<rect x="216.1" y="367.3" width="5.0" height="5.0" fill="#f79646" stroke="#c8483a" stroke-width="0.8"/>
<rect x="220.7" y="359.0" width="5.0" height="5.0" fill="#f79646" stroke="#c8483a" stroke-width="0.8"/>
<rect x="225.3" y="364.0" width="5.0" height="5.0" fill="#f79646" stroke="#c8483a" stroke-width="0.8"/>
<rect x="229.9" y="357.6" width="5.0" height="5.0" fill="#f79646" stroke="#c8483a" stroke-width="0.8"/>
<rect x="234.5" y="358.1" width="5.0" height="5.0" fill="#f79646" stroke="#c8483a" stroke-width="0.8"/>
<rect x="239.1" y="361.4" width="5.0" height="5.0" fill="#f79646" stroke="#c8483a" stroke-width="0.8"/>
<rect x="243.7" y="358.4" width="5.0" height="5.0" fill="#f79646" stroke="#c8483a" stroke-width="0.8"/>
<rect x="248.3" y="367.3" width="5.0" height="5.0" fill="#f79646" stroke="#c8483a" stroke-width="0.8"/>
<rect x="252.9" y="367.9" width="5.0" height="5.0" fill="#f79646" stroke="#c8483a" stroke-width="0.8"/>
<rect x="257.5" y="369.9" width="5.0" height="5.0" fill="#f79646" stroke="#c8483a" stroke-width="0.8"/>
<rect x="262.1" y="370.3" width="5.0" height="5.0" fill="#f79646" stroke="#c8483a" stroke-width="0.8"/>
<rect x="266.7" y="354.2" width="5.0" height="5.0" fill="#f79646" stroke="#c8483a" stroke-width="0.8"/>
<rect x="271.3" y="351.9" width="5.0" height="5.0" fill="#f79646" stroke="#c8483a" stroke-width="0.8"/>
<rect x="275.9" y="359.5" width="5.0" height="5.0" fill="#f79646" stroke="#c8483a" stroke-width="0.8"/>
<rect x="280.5" y="358.1" width="5.0" height="5.0" fill="#f79646" stroke="#c8483a" stroke-width="0.8"/>
<rect x="285.1" y="350.1" width="5.0" height="5.0" fill="#f79646" stroke="#c8483a" stroke-width="0.8"/>
<rect x="289.7" y="355.3" width="5.0" height="5.0" fill="#f79646" stroke="#c8483a" stroke-width="0.8"/>
<rect x="294.3" y="345.4" width="5.0" height="5.0" fill="#f79646" stroke="#c8483a" stroke-width="0.8"/>
<rect x="298.9" y="351.5" width="5.0" height="5.0" fill="#f79646" stroke="#c8483a" stroke-width="0.8"/>
<rect x="303.5" y="348.9" width="5.0" height="5.0" fill="#f79646" stroke="#c8483a" stroke-width="0.8"/>
<rect x="308.1" y="349.1" width="5.0" height="5.0" fill="#f79646" stroke="#c8483a" stroke-width="0.8"/>
<rect x="312.7" y="345.0" width="5.0" height="5.0" fill="#f79646" stroke="#c8483a" stroke-width="0.8"/>
<rect x="317.3" y="353.2" width="5.0" height="5.0" fill="#f79646" stroke="#c8483a" stroke-width="0.8"/>
<rect x="321.9" y="337.9" width="5.0" height="5.0" fill="#f79646" stroke="#c8483a" stroke-width="0.8"/>
<rect x="326.6" y="340.6" width="5.0" height="5.0" fill="#f79646" stroke="#c8483a" stroke-width="0.8"/>
<rect x="331.2" y="340.4" width="5.0" height="5.0" fill="#f79646" stroke="#c8483a" stroke-width="0.8"/>
<rect x="335.8" y="339.2" width="5.0" height="5.0" fill="#f79646" stroke="#c8483a" stroke-width="0.8"/>
<rect x="340.4" y="337.3" width="5.0" height="5.0" fill="#f79646" stroke="#c8483a" stroke-width="0.8"/>
<rect x="345.0" y="337.3" width="5.0" height="5.0" fill="#f79646" stroke="#c8483a" stroke-width="0.8"/>
<rect x="349.6" y="330.8" width="5.0" height="5.0" fill="#f79646" stroke="#c8483a" stroke-width="0.8"/>
<rect x="354.2" y="329.2" width="5.0" height="5.0" fill="#f79646" stroke="#c8483a" stroke-width="0.8"/>
<rect x="358.8" y="332.8" width="5.0" height="5.0" fill="#f79646" stroke="#c8483a" stroke-width="0.8"/>
<rect x="363.4" y="328.4" width="5.0" height="5.0" fill="#f79646" stroke="#c8483a" stroke-width="0.8"/>
<rect x="368.0" y="330.1" width="5.0" height="5.0" fill="#f79646" stroke="#c8483a" stroke-width="0.8"/>
<rect x="372.6" y="320.9" width="5.0" height="5.0" fill="#f79646" stroke="#c8483a" stroke-width="0.8"/>
<rect x="377.2" y="324.9" width="5.0" height="5.0" fill="#f79646" stroke="#c8483a" stroke-width="0.8"/>
<rect x="381.8" y="327.0" width="5.0" height="5.0" fill="#f79646" stroke="#c8483a" stroke-width="0.8"/>
<rect x="386.4" y="327.4" width="5.0" height="5.0" fill="#f79646" stroke="#c8483a" stroke-width="0.8"/>
<rect x="391.0" y="325.5" width="5.0" height="5.0" fill="#f79646" stroke="#c8483a" stroke-width="0.8"/>
<rect x="395.6" y="324.9" width="5.0" height="5.0" fill="#f79646" stroke="#c8483a" stroke-width="0.8"/>
<rect x="400.2" y="328.6" width="5.0" height="5.0" fill="#f79646" stroke="#c8483a" stroke-width="0.8"/>
<rect x="404.8" y="325.3" width="5.0" height="5.0" fill="#f79646" stroke="#c8483a" stroke-width="0.8"/>
<rect x="409.4" y="323.1" width="5.0" height="5.0" fill="#f79646" stroke="#c8483a" stroke-width="0.8"/>
<rect x="414.0" y="317.9" width="5.0" height="5.0" fill="#f79646" stroke="#c8483a" stroke-width="0.8"/>
<rect x="418.6" y="322.9" width="5.0" height="5.0" fill="#f79646" stroke="#c8483a" stroke-width="0.8"/>
<rect x="423.2" y="318.3" width="5.0" height="5.0" fill="#f79646" stroke="#c8483a" stroke-width="0.8"/>
<rect x="427.8" y="324.7" width="5.0" height="5.0" fill="#f79646" stroke="#c8483a" stroke-width="0.8"/>
<rect x="432.4" y="315.7" width="5.0" height="5.0" fill="#f79646" stroke="#c8483a" stroke-width="0.8"/>
<rect x="437.0" y="320.1" width="5.0" height="5.0" fill="#f79646" stroke="#c8483a" stroke-width="0.8"/>
<rect x="441.6" y="321.3" width="5.0" height="5.0" fill="#f79646" stroke="#c8483a" stroke-width="0.8"/>
<rect x="446.2" y="334.4" width="5.0" height="5.0" fill="#f79646" stroke="#c8483a" stroke-width="0.8"/>
<rect x="450.8" y="332.2" width="5.0" height="5.0" fill="#f79646" stroke="#c8483a" stroke-width="0.8"/>
<rect x="455.4" y="330.1" width="5.0" height="5.0" fill="#f79646" stroke="#c8483a" stroke-width="0.8"/>
<rect x="460.0" y="328.0" width="5.0" height="5.0" fill="#f79646" stroke="#c8483a" stroke-width="0.8"/>
<rect x="464.6" y="338.3" width="5.0" height="5.0" fill="#f79646" stroke="#c8483a" stroke-width="0.8"/>
<rect x="469.2" y="340.7" width="5.0" height="5.0" fill="#f79646" stroke="#c8483a" stroke-width="0.8"/>
<rect x="473.8" y="356.8" width="5.0" height="5.0" fill="#f79646" stroke="#c8483a" stroke-width="0.8"/>
<rect x="478.4" y="351.2" width="5.0" height="5.0" fill="#f79646" stroke="#c8483a" stroke-width="0.8"/>
<rect x="483.0" y="363.7" width="5.0" height="5.0" fill="#f79646" stroke="#c8483a" stroke-width="0.8"/>
<rect x="487.6" y="365.3" width="5.0" height="5.0" fill="#f79646" stroke="#c8483a" stroke-width="0.8"/>
<rect x="492.2" y="360.1" width="5.0" height="5.0" fill="#f79646" stroke="#c8483a" stroke-width="0.8"/>
<rect x="496.8" y="369.4" width="5.0" height="5.0" fill="#f79646" stroke="#c8483a" stroke-width="0.8"/>
<rect x="501.4" y="358.2" width="5.0" height="5.0" fill="#f79646" stroke="#c8483a" stroke-width="0.8"/>
<rect x="506.0" y="365.8" width="5.0" height="5.0" fill="#f79646" stroke="#c8483a" stroke-width="0.8"/>
<rect x="510.6" y="357.4" width="5.0" height="5.0" fill="#f79646" stroke="#c8483a" stroke-width="0.8"/>
<rect x="515.2" y="358.2" width="5.0" height="5.0" fill="#f79646" stroke="#c8483a" stroke-width="0.8"/>
<rect x="519.8" y="366.2" width="5.0" height="5.0" fill="#f79646" stroke="#c8483a" stroke-width="0.8"/>
<rect x="524.4" y="359.9" width="5.0" height="5.0" fill="#f79646" stroke="#c8483a" stroke-width="0.8"/>
<rect x="529.0" y="369.8" width="5.0" height="5.0" fill="#f79646" stroke="#c8483a" stroke-width="0.8"/>
<rect x="533.6" y="371.6" width="5.0" height="5.0" fill="#f79646" stroke="#c8483a" stroke-width="0.8"/>
<rect x="538.2" y="366.6" width="5.0" height="5.0" fill="#f79646" stroke="#c8483a" stroke-width="0.8"/>
<rect x="542.8" y="361.2" width="5.0" height="5.0" fill="#f79646" stroke="#c8483a" stroke-width="0.8"/>
<rect x="547.4" y="358.7" width="5.0" height="5.0" fill="#f79646" stroke="#c8483a" stroke-width="0.8"/>
<rect x="552.0" y="357.5" width="5.0" height="5.0" fill="#f79646" stroke="#c8483a" stroke-width="0.8"/>
<rect x="556.6" y="359.9" width="5.0" height="5.0" fill="#f79646" stroke="#c8483a" stroke-width="0.8"/>
<rect x="561.2" y="365.6" width="5.0" height="5.0" fill="#f79646" stroke="#c8483a" stroke-width="0.8"/>
<rect x="565.8" y="362.7" width="5.0" height="5.0" fill="#f79646" stroke="#c8483a" stroke-width="0.8"/>
<rect x="570.4" y="370.1" width="5.0" height="5.0" fill="#f79646" stroke="#c8483a" stroke-width="0.8"/>
<rect x="575.0" y="362.1" width="5.0" height="5.0" fill="#f79646" stroke="#c8483a" stroke-width="0.8"/>
<rect x="579.6" y="371.0" width="5.0" height="5.0" fill="#f79646" stroke="#c8483a" stroke-width="0.8"/>
<rect x="584.2" y="367.8" width="5.0" height="5.0" fill="#f79646" stroke="#c8483a" stroke-width="0.8"/>
<rect x="588.8" y="373.4" width="5.0" height="5.0" fill="#f79646" stroke="#c8483a" stroke-width="0.8"/>
<rect x="593.4" y="366.8" width="5.0" height="5.0" fill="#f79646" stroke="#c8483a" stroke-width="0.8"/>
<circle cx="103.6" cy="410.1" r="2.05" fill="#ff0000" stroke="#84c64a" stroke-width="0.8"/>
<circle cx="108.2" cy="409.0" r="2.05" fill="#ff0000" stroke="#84c64a" stroke-width="0.8"/>
<circle cx="112.8" cy="403.2" r="2.05" fill="#ff0000" stroke="#84c64a" stroke-width="0.8"/>
<circle cx="117.4" cy="411.3" r="2.05" fill="#ff0000" stroke="#84c64a" stroke-width="0.8"/>
<circle cx="122.0" cy="407.4" r="2.05" fill="#ff0000" stroke="#84c64a" stroke-width="0.8"/>
<circle cx="126.6" cy="418.1" r="2.05" fill="#ff0000" stroke="#84c64a" stroke-width="0.8"/>
<circle cx="131.2" cy="409.6" r="2.05" fill="#ff0000" stroke="#84c64a" stroke-width="0.8"/>
<circle cx="135.8" cy="406.8" r="2.05" fill="#ff0000" stroke="#84c64a" stroke-width="0.8"/>
<circle cx="140.4" cy="409.6" r="2.05" fill="#ff0000" stroke="#84c64a" stroke-width="0.8"/>
<circle cx="145.0" cy="396.5" r="2.05" fill="#ff0000" stroke="#84c64a" stroke-width="0.8"/>
<circle cx="149.6" cy="404.8" r="2.05" fill="#ff0000" stroke="#84c64a" stroke-width="0.8"/>
<circle cx="154.2" cy="402.6" r="2.05" fill="#ff0000" stroke="#84c64a" stroke-width="0.8"/>
<circle cx="158.8" cy="406.8" r="2.05" fill="#ff0000" stroke="#84c64a" stroke-width="0.8"/>
<circle cx="163.4" cy="406.8" r="2.05" fill="#ff0000" stroke="#84c64a" stroke-width="0.8"/>
<circle cx="168.0" cy="405.6" r="2.05" fill="#ff0000" stroke="#84c64a" stroke-width="0.8"/>
<circle cx="172.6" cy="405.6" r="2.05" fill="#ff0000" stroke="#84c64a" stroke-width="0.8"/>
<circle cx="177.2" cy="407.7" r="2.05" fill="#ff0000" stroke="#84c64a" stroke-width="0.8"/>
<circle cx="181.8" cy="403.9" r="2.05" fill="#ff0000" stroke="#84c64a" stroke-width="0.8"/>
<circle cx="186.4" cy="405.4" r="2.05" fill="#ff0000" stroke="#84c64a" stroke-width="0.8"/>
<circle cx="191.0" cy="397.4" r="2.05" fill="#ff0000" stroke="#84c64a" stroke-width="0.8"/>
<circle cx="195.6" cy="395.6" r="2.05" fill="#ff0000" stroke="#84c64a" stroke-width="0.8"/>
<circle cx="200.2" cy="404.2" r="2.05" fill="#ff0000" stroke="#84c64a" stroke-width="0.8"/>
<circle cx="204.8" cy="413.7" r="2.05" fill="#ff0000" stroke="#84c64a" stroke-width="0.8"/>
<circle cx="209.4" cy="410.7" r="2.05" fill="#ff0000" stroke="#84c64a" stroke-width="0.8"/>
<circle cx="214.0" cy="400.6" r="2.05" fill="#ff0000" stroke="#84c64a" stroke-width="0.8"/>
<circle cx="218.6" cy="406.6" r="2.05" fill="#ff0000" stroke="#84c64a" stroke-width="0.8"/>
<circle cx="223.2" cy="398.9" r="2.05" fill="#ff0000" stroke="#84c64a" stroke-width="0.8"/>
<circle cx="227.8" cy="408.7" r="2.05" fill="#ff0000" stroke="#84c64a" stroke-width="0.8"/>
<circle cx="232.4" cy="406.9" r="2.05" fill="#ff0000" stroke="#84c64a" stroke-width="0.8"/>
<circle cx="237.0" cy="400.3" r="2.05" fill="#ff0000" stroke="#84c64a" stroke-width="0.8"/>
<circle cx="241.6" cy="401.9" r="2.05" fill="#ff0000" stroke="#84c64a" stroke-width="0.8"/>
<circle cx="246.2" cy="394.5" r="2.05" fill="#ff0000" stroke="#84c64a" stroke-width="0.8"/>
<circle cx="250.8" cy="407.7" r="2.05" fill="#ff0000" stroke="#84c64a" stroke-width="0.8"/>
<circle cx="255.4" cy="403.6" r="2.05" fill="#ff0000" stroke="#84c64a" stroke-width="0.8"/>
<circle cx="260.0" cy="406.9" r="2.05" fill="#ff0000" stroke="#84c64a" stroke-width="0.8"/>
<circle cx="264.6" cy="414.9" r="2.05" fill="#ff0000" stroke="#84c64a" stroke-width="0.8"/>
<circle cx="269.2" cy="391.3" r="2.05" fill="#ff0000" stroke="#84c64a" stroke-width="0.8"/>
<circle cx="273.8" cy="407.1" r="2.05" fill="#ff0000" stroke="#84c64a" stroke-width="0.8"/>
<circle cx="278.4" cy="418.0" r="2.05" fill="#ff0000" stroke="#84c64a" stroke-width="0.8"/>
<circle cx="283.0" cy="416.8" r="2.05" fill="#ff0000" stroke="#84c64a" stroke-width="0.8"/>
<circle cx="287.6" cy="414.8" r="2.05" fill="#ff0000" stroke="#84c64a" stroke-width="0.8"/>
<circle cx="292.2" cy="422.8" r="2.05" fill="#ff0000" stroke="#84c64a" stroke-width="0.8"/>
<circle cx="296.8" cy="413.3" r="2.05" fill="#ff0000" stroke="#84c64a" stroke-width="0.8"/>
<circle cx="301.4" cy="413.9" r="2.05" fill="#ff0000" stroke="#84c64a" stroke-width="0.8"/>
<circle cx="306.0" cy="410.6" r="2.05" fill="#ff0000" stroke="#84c64a" stroke-width="0.8"/>
<circle cx="310.6" cy="411.5" r="2.05" fill="#ff0000" stroke="#84c64a" stroke-width="0.8"/>
<circle cx="315.2" cy="410.1" r="2.05" fill="#ff0000" stroke="#84c64a" stroke-width="0.8"/>
<circle cx="319.8" cy="416.8" r="2.05" fill="#ff0000" stroke="#84c64a" stroke-width="0.8"/>
<circle cx="324.4" cy="401.1" r="2.05" fill="#ff0000" stroke="#84c64a" stroke-width="0.8"/>
<circle cx="329.1" cy="410.1" r="2.05" fill="#ff0000" stroke="#84c64a" stroke-width="0.8"/>
<circle cx="333.7" cy="407.7" r="2.05" fill="#ff0000" stroke="#84c64a" stroke-width="0.8"/>
<circle cx="338.3" cy="410.9" r="2.05" fill="#ff0000" stroke="#84c64a" stroke-width="0.8"/>
<circle cx="342.9" cy="411.5" r="2.05" fill="#ff0000" stroke="#84c64a" stroke-width="0.8"/>
<circle cx="347.5" cy="409.8" r="2.05" fill="#ff0000" stroke="#84c64a" stroke-width="0.8"/>
<circle cx="352.1" cy="402.2" r="2.05" fill="#ff0000" stroke="#84c64a" stroke-width="0.8"/>
<circle cx="356.7" cy="397.5" r="2.05" fill="#ff0000" stroke="#84c64a" stroke-width="0.8"/>
<circle cx="361.3" cy="406.2" r="2.05" fill="#ff0000" stroke="#84c64a" stroke-width="0.8"/>
<circle cx="365.9" cy="403.1" r="2.05" fill="#ff0000" stroke="#84c64a" stroke-width="0.8"/>
<circle cx="370.5" cy="409.0" r="2.05" fill="#ff0000" stroke="#84c64a" stroke-width="0.8"/>
<circle cx="375.1" cy="404.6" r="2.05" fill="#ff0000" stroke="#84c64a" stroke-width="0.8"/>
<circle cx="379.7" cy="405.2" r="2.05" fill="#ff0000" stroke="#84c64a" stroke-width="0.8"/>
<circle cx="384.3" cy="406.2" r="2.05" fill="#ff0000" stroke="#84c64a" stroke-width="0.8"/>
<circle cx="388.9" cy="411.7" r="2.05" fill="#ff0000" stroke="#84c64a" stroke-width="0.8"/>
<circle cx="393.5" cy="409.0" r="2.05" fill="#ff0000" stroke="#84c64a" stroke-width="0.8"/>
<circle cx="398.1" cy="407.2" r="2.05" fill="#ff0000" stroke="#84c64a" stroke-width="0.8"/>
<circle cx="402.7" cy="409.5" r="2.05" fill="#ff0000" stroke="#84c64a" stroke-width="0.8"/>
<circle cx="407.3" cy="404.6" r="2.05" fill="#ff0000" stroke="#84c64a" stroke-width="0.8"/>
<circle cx="411.9" cy="400.1" r="2.05" fill="#ff0000" stroke="#84c64a" stroke-width="0.8"/>
<circle cx="416.5" cy="392.9" r="2.05" fill="#ff0000" stroke="#84c64a" stroke-width="0.8"/>
<circle cx="421.1" cy="394.4" r="2.05" fill="#ff0000" stroke="#84c64a" stroke-width="0.8"/>
<circle cx="425.7" cy="395.6" r="2.05" fill="#ff0000" stroke="#84c64a" stroke-width="0.8"/>
<circle cx="430.3" cy="402.0" r="2.05" fill="#ff0000" stroke="#84c64a" stroke-width="0.8"/>
<circle cx="434.9" cy="390.3" r="2.05" fill="#ff0000" stroke="#84c64a" stroke-width="0.8"/>
<circle cx="439.5" cy="404.4" r="2.05" fill="#ff0000" stroke="#84c64a" stroke-width="0.8"/>
<circle cx="444.1" cy="398.9" r="2.05" fill="#ff0000" stroke="#84c64a" stroke-width="0.8"/>
<circle cx="448.7" cy="408.2" r="2.05" fill="#ff0000" stroke="#84c64a" stroke-width="0.8"/>
<circle cx="453.3" cy="399.3" r="2.05" fill="#ff0000" stroke="#84c64a" stroke-width="0.8"/>
<circle cx="457.9" cy="393.8" r="2.05" fill="#ff0000" stroke="#84c64a" stroke-width="0.8"/>
<circle cx="462.5" cy="388.3" r="2.05" fill="#ff0000" stroke="#84c64a" stroke-width="0.8"/>
<circle cx="467.1" cy="398.1" r="2.05" fill="#ff0000" stroke="#84c64a" stroke-width="0.8"/>
<circle cx="471.7" cy="397.7" r="2.05" fill="#ff0000" stroke="#84c64a" stroke-width="0.8"/>
<circle cx="476.3" cy="409.5" r="2.05" fill="#ff0000" stroke="#84c64a" stroke-width="0.8"/>
<circle cx="480.9" cy="405.2" r="2.05" fill="#ff0000" stroke="#84c64a" stroke-width="0.8"/>
<circle cx="485.5" cy="415.3" r="2.05" fill="#ff0000" stroke="#84c64a" stroke-width="0.8"/>
<circle cx="490.1" cy="418.9" r="2.05" fill="#ff0000" stroke="#84c64a" stroke-width="0.8"/>
<circle cx="494.7" cy="411.4" r="2.05" fill="#ff0000" stroke="#84c64a" stroke-width="0.8"/>
<circle cx="499.3" cy="419.2" r="2.05" fill="#ff0000" stroke="#84c64a" stroke-width="0.8"/>
<circle cx="503.9" cy="409.0" r="2.05" fill="#ff0000" stroke="#84c64a" stroke-width="0.8"/>
<circle cx="508.5" cy="421.9" r="2.05" fill="#ff0000" stroke="#84c64a" stroke-width="0.8"/>
<circle cx="513.1" cy="410.4" r="2.05" fill="#ff0000" stroke="#84c64a" stroke-width="0.8"/>
<circle cx="517.7" cy="413.4" r="2.05" fill="#ff0000" stroke="#84c64a" stroke-width="0.8"/>
<circle cx="522.3" cy="419.3" r="2.05" fill="#ff0000" stroke="#84c64a" stroke-width="0.8"/>
<circle cx="526.9" cy="414.8" r="2.05" fill="#ff0000" stroke="#84c64a" stroke-width="0.8"/>
<circle cx="531.5" cy="424.0" r="2.05" fill="#ff0000" stroke="#84c64a" stroke-width="0.8"/>
<circle cx="536.1" cy="425.9" r="2.05" fill="#ff0000" stroke="#84c64a" stroke-width="0.8"/>
<circle cx="540.7" cy="421.1" r="2.05" fill="#ff0000" stroke="#84c64a" stroke-width="0.8"/>
<circle cx="545.3" cy="414.3" r="2.05" fill="#ff0000" stroke="#84c64a" stroke-width="0.8"/>
<circle cx="549.9" cy="410.7" r="2.05" fill="#ff0000" stroke="#84c64a" stroke-width="0.8"/>
<circle cx="554.5" cy="410.0" r="2.05" fill="#ff0000" stroke="#84c64a" stroke-width="0.8"/>
<circle cx="559.1" cy="409.6" r="2.05" fill="#ff0000" stroke="#84c64a" stroke-width="0.8"/>
<circle cx="563.7" cy="413.9" r="2.05" fill="#ff0000" stroke="#84c64a" stroke-width="0.8"/>
<circle cx="568.3" cy="406.2" r="2.05" fill="#ff0000" stroke="#84c64a" stroke-width="0.8"/>
<circle cx="572.9" cy="413.0" r="2.05" fill="#ff0000" stroke="#84c64a" stroke-width="0.8"/>
<circle cx="577.5" cy="403.6" r="2.05" fill="#ff0000" stroke="#84c64a" stroke-width="0.8"/>
<circle cx="582.1" cy="412.4" r="2.05" fill="#ff0000" stroke="#84c64a" stroke-width="0.8"/>
<circle cx="586.7" cy="407.2" r="2.05" fill="#ff0000" stroke="#84c64a" stroke-width="0.8"/>
<circle cx="591.3" cy="412.4" r="2.05" fill="#ff0000" stroke="#84c64a" stroke-width="0.8"/>
<circle cx="595.9" cy="410.4" r="2.05" fill="#ff0000" stroke="#84c64a" stroke-width="0.8"/>
<line x1="87.6" y1="576.3" x2="598.7" y2="576.3" stroke="#c4c4c4" stroke-width="1.2"/>
<line x1="87.6" y1="594.2" x2="598.7" y2="594.2" stroke="#c4c4c4" stroke-width="1.2"/>
<line x1="87.6" y1="612.1" x2="598.7" y2="612.1" stroke="#c4c4c4" stroke-width="1.2"/>
<line x1="87.6" y1="630.1" x2="598.7" y2="630.1" stroke="#c4c4c4" stroke-width="1.2"/>
<line x1="87.6" y1="648.0" x2="598.7" y2="648.0" stroke="#c4c4c4" stroke-width="1.2"/>
<line x1="87.6" y1="665.9" x2="598.7" y2="665.9" stroke="#c4c4c4" stroke-width="1.2"/>
<line x1="87.6" y1="683.8" x2="598.7" y2="683.8" stroke="#c4c4c4" stroke-width="1.2"/>
<line x1="87.6" y1="701.7" x2="598.7" y2="701.7" stroke="#c4c4c4" stroke-width="1.2"/>
<line x1="87.6" y1="719.6" x2="598.7" y2="719.6" stroke="#c4c4c4" stroke-width="1.2"/>
<line x1="91.6" y1="576.3" x2="91.6" y2="719.6" stroke="#b4b4b4" stroke-width="1"/>
<line x1="87.6" y1="576.3" x2="91.6" y2="576.3" stroke="#b4b4b4" stroke-width="1"/>
<line x1="87.6" y1="594.2" x2="91.6" y2="594.2" stroke="#b4b4b4" stroke-width="1"/>
<line x1="87.6" y1="612.1" x2="91.6" y2="612.1" stroke="#b4b4b4" stroke-width="1"/>
<line x1="87.6" y1="630.1" x2="91.6" y2="630.1" stroke="#b4b4b4" stroke-width="1"/>
<line x1="87.6" y1="648.0" x2="91.6" y2="648.0" stroke="#b4b4b4" stroke-width="1"/>
<line x1="87.6" y1="665.9" x2="91.6" y2="665.9" stroke="#b4b4b4" stroke-width="1"/>
<line x1="87.6" y1="683.8" x2="91.6" y2="683.8" stroke="#b4b4b4" stroke-width="1"/>
<line x1="87.6" y1="701.7" x2="91.6" y2="701.7" stroke="#b4b4b4" stroke-width="1"/>
<line x1="87.6" y1="719.6" x2="91.6" y2="719.6" stroke="#b4b4b4" stroke-width="1"/>
<line x1="91.6" y1="719.6" x2="598.7" y2="719.6" stroke="#b4b4b4" stroke-width="1"/>
<line x1="91.6" y1="719.6" x2="91.6" y2="723.6" stroke="#b4b4b4" stroke-width="1"/>
<line x1="119.3" y1="719.6" x2="119.3" y2="723.6" stroke="#b4b4b4" stroke-width="1"/>
<line x1="146.9" y1="719.6" x2="146.9" y2="723.6" stroke="#b4b4b4" stroke-width="1"/>
<line x1="174.6" y1="719.6" x2="174.6" y2="723.6" stroke="#b4b4b4" stroke-width="1"/>
<line x1="202.2" y1="719.6" x2="202.2" y2="723.6" stroke="#b4b4b4" stroke-width="1"/>
<line x1="229.9" y1="719.6" x2="229.9" y2="723.6" stroke="#b4b4b4" stroke-width="1"/>
<line x1="257.6" y1="719.6" x2="257.6" y2="723.6" stroke="#b4b4b4" stroke-width="1"/>
<line x1="285.2" y1="719.6" x2="285.2" y2="723.6" stroke="#b4b4b4" stroke-width="1"/>
<line x1="312.9" y1="719.6" x2="312.9" y2="723.6" stroke="#b4b4b4" stroke-width="1"/>
<line x1="340.5" y1="719.6" x2="340.5" y2="723.6" stroke="#b4b4b4" stroke-width="1"/>
<line x1="368.2" y1="719.6" x2="368.2" y2="723.6" stroke="#b4b4b4" stroke-width="1"/>
<line x1="395.9" y1="719.6" x2="395.9" y2="723.6" stroke="#b4b4b4" stroke-width="1"/>
<line x1="423.5" y1="719.6" x2="423.5" y2="723.6" stroke="#b4b4b4" stroke-width="1"/>
<line x1="451.2" y1="719.6" x2="451.2" y2="723.6" stroke="#b4b4b4" stroke-width="1"/>
<line x1="478.8" y1="719.6" x2="478.8" y2="723.6" stroke="#b4b4b4" stroke-width="1"/>
<line x1="506.5" y1="719.6" x2="506.5" y2="723.6" stroke="#b4b4b4" stroke-width="1"/>
<line x1="534.2" y1="719.6" x2="534.2" y2="723.6" stroke="#b4b4b4" stroke-width="1"/>
<line x1="561.8" y1="719.6" x2="561.8" y2="723.6" stroke="#b4b4b4" stroke-width="1"/>
<line x1="589.5" y1="719.6" x2="589.5" y2="723.6" stroke="#b4b4b4" stroke-width="1"/>
<text x="82.3" y="580.4" font-size="11.6" text-anchor="end" font-weight="normal" font-style="normal" fill="#000" >0.8</text>
<text x="82.3" y="598.3" font-size="11.6" text-anchor="end" font-weight="normal" font-style="normal" fill="#000" >0.7</text>
<text x="82.3" y="616.2" font-size="11.6" text-anchor="end" font-weight="normal" font-style="normal" fill="#000" >0.6</text>
<text x="82.3" y="634.1" font-size="11.6" text-anchor="end" font-weight="normal" font-style="normal" fill="#000" >0.5</text>
<text x="82.3" y="652.0" font-size="11.6" text-anchor="end" font-weight="normal" font-style="normal" fill="#000" >0.4</text>
<text x="82.3" y="669.9" font-size="11.6" text-anchor="end" font-weight="normal" font-style="normal" fill="#000" >0.3</text>
<text x="82.3" y="687.8" font-size="11.6" text-anchor="end" font-weight="normal" font-style="normal" fill="#000" >0.2</text>
<text x="82.3" y="705.8" font-size="11.6" text-anchor="end" font-weight="normal" font-style="normal" fill="#000" >0.1</text>
<text x="82.3" y="723.7" font-size="11.6" text-anchor="end" font-weight="normal" font-style="normal" fill="#000" >0</text>
<text x="91.6" y="736.8" font-size="11.6" text-anchor="middle" font-weight="normal" font-style="normal" fill="#000" >0</text>
<text x="119.3" y="736.8" font-size="11.6" text-anchor="middle" font-weight="normal" font-style="normal" fill="#000" >6</text>
<text x="146.9" y="736.8" font-size="11.6" text-anchor="middle" font-weight="normal" font-style="normal" fill="#000" >12</text>
<text x="174.6" y="736.8" font-size="11.6" text-anchor="middle" font-weight="normal" font-style="normal" fill="#000" >18</text>
<text x="202.2" y="736.8" font-size="11.6" text-anchor="middle" font-weight="normal" font-style="normal" fill="#000" >24</text>
<text x="229.9" y="736.8" font-size="11.6" text-anchor="middle" font-weight="normal" font-style="normal" fill="#000" >30</text>
<text x="257.6" y="736.8" font-size="11.6" text-anchor="middle" font-weight="normal" font-style="normal" fill="#000" >36</text>
<text x="285.2" y="736.8" font-size="11.6" text-anchor="middle" font-weight="normal" font-style="normal" fill="#000" >42</text>
<text x="312.9" y="736.8" font-size="11.6" text-anchor="middle" font-weight="normal" font-style="normal" fill="#000" >48</text>
<text x="340.5" y="736.8" font-size="11.6" text-anchor="middle" font-weight="normal" font-style="normal" fill="#000" >54</text>
<text x="368.2" y="736.8" font-size="11.6" text-anchor="middle" font-weight="normal" font-style="normal" fill="#000" >60</text>
<text x="395.9" y="736.8" font-size="11.6" text-anchor="middle" font-weight="normal" font-style="normal" fill="#000" >66</text>
<text x="423.5" y="736.8" font-size="11.6" text-anchor="middle" font-weight="normal" font-style="normal" fill="#000" >72</text>
<text x="451.2" y="736.8" font-size="11.6" text-anchor="middle" font-weight="normal" font-style="normal" fill="#000" >78</text>
<text x="478.8" y="736.8" font-size="11.6" text-anchor="middle" font-weight="normal" font-style="normal" fill="#000" >84</text>
<text x="506.5" y="736.8" font-size="11.6" text-anchor="middle" font-weight="normal" font-style="normal" fill="#000" >90</text>
<text x="534.2" y="736.8" font-size="11.6" text-anchor="middle" font-weight="normal" font-style="normal" fill="#000" >96</text>
<text x="561.8" y="736.8" font-size="11.6" text-anchor="middle" font-weight="normal" font-style="normal" fill="#000" >102</text>
<text x="589.5" y="736.8" font-size="11.6" text-anchor="middle" font-weight="normal" font-style="normal" fill="#000" >108</text>
<line x1="256.8" y1="560.0" x2="256.8" y2="720.0" stroke="#ff2020" stroke-width="1.3"/>
<line x1="422.8" y1="560.0" x2="422.8" y2="720.0" stroke="#ff2020" stroke-width="1.3"/>
<text x="176.0" y="714.1" font-size="11.5" text-anchor="middle" font-weight="bold" font-style="normal" fill="#ff0000" >Paced</text>
<text x="341.8" y="714.1" font-size="11.5" text-anchor="middle" font-weight="bold" font-style="normal" fill="#00b050" >Spontaneous</text>
<text x="520.6" y="714.1" font-size="11.5" text-anchor="middle" font-weight="bold" font-style="normal" fill="#ff0000" >Paced</text>
<text x="327.0" y="760.2" font-size="11.5" text-anchor="middle" font-weight="bold" font-style="normal" fill="#000" >Breath number</text>
<path d="M96.2 628.4 L100.8 628.8 L105.4 628.4 L110.0 624.9 L114.6 623.1 L119.3 628.4 L123.9 624.3 L128.5 614.5 L133.1 620.7 L137.7 627.9 L142.3 618.4 L146.9 618.4 L151.5 623.4 L156.1 632.7 L160.8 625.9 L165.4 632.7 L170.0 628.3 L174.6 613.6 L179.2 612.3 L183.8 625.9 L188.4 620.2 L193.0 620.7 L197.6 616.1 L202.2 623.8 L206.9 624.5 L211.5 616.8 L216.1 618.1 L220.7 624.5 L225.3 637.6 L229.9 637.6 L234.5 637.6 L239.1 637.6 L243.7 623.6 L248.3 623.6 L253.0 624.5 L257.6 623.2 L262.2 617.9 L266.8 644.6 L271.4 655.8 L276.0 658.2 L280.6 644.6 L285.2 655.5 L289.8 644.9 L294.4 642.2 L299.1 661.8 L303.7 661.8 L308.3 657.3 L312.9 657.3 L317.5 651.4 L322.1 651.4 L326.7 656.6 L331.3 664.4 L335.9 642.6 L340.5 639.7 L345.1 641.5 L349.8 659.6 L354.4 664.8 L359.0 653.2 L363.6 655.5 L368.2 655.5 L372.8 662.5 L377.4 662.8 L382.0 662.8 L386.6 662.8 L391.2 656.9 L395.9 656.9 L400.5 661.4 L405.1 657.6 L409.7 661.4 L414.3 657.6 L418.9 658.2 L423.5 658.2 L428.1 636.3 L432.7 652.4 L437.4 636.3 L442.0 638.6 L446.6 614.3 L451.2 616.3 L455.8 633.5 L460.4 630.6 L465.0 627.0 L469.6 622.5 L474.2 627.0 L478.8 637.0 L483.5 641.7 L488.1 617.3 L492.7 617.3 L497.3 625.2 L501.9 622.5 L506.5 609.8 L511.1 615.0 L515.7 625.2 L520.3 633.5 L524.9 635.2 L529.6 629.5 L534.2 622.9 L538.8 622.9 L543.4 629.5 L548.0 630.2 L552.6 635.2 L557.2 635.2 L561.8 627.9 L566.4 624.7 L571.0 616.4 L575.6 608.9 L580.3 615.4 L584.9 612.7 L589.5 617.0" fill="none" stroke="#ffc000" stroke-width="1.8" stroke-linejoin="round"/>
<rect x="94.3" y="626.5" width="3.8" height="3.8" fill="#ffc000" stroke="#c0504d" stroke-width="1"/>
<rect x="98.9" y="626.9" width="3.8" height="3.8" fill="#ffc000" stroke="#c0504d" stroke-width="1"/>
<rect x="103.5" y="626.5" width="3.8" height="3.8" fill="#ffc000" stroke="#c0504d" stroke-width="1"/>
<rect x="108.1" y="623.0" width="3.8" height="3.8" fill="#ffc000" stroke="#c0504d" stroke-width="1"/>
<rect x="112.7" y="621.2" width="3.8" height="3.8" fill="#ffc000" stroke="#c0504d" stroke-width="1"/>
<rect x="117.4" y="626.5" width="3.8" height="3.8" fill="#ffc000" stroke="#c0504d" stroke-width="1"/>
<rect x="122.0" y="622.4" width="3.8" height="3.8" fill="#ffc000" stroke="#c0504d" stroke-width="1"/>
<rect x="126.6" y="612.6" width="3.8" height="3.8" fill="#ffc000" stroke="#c0504d" stroke-width="1"/>
<rect x="131.2" y="618.8" width="3.8" height="3.8" fill="#ffc000" stroke="#c0504d" stroke-width="1"/>
<rect x="135.8" y="626.0" width="3.8" height="3.8" fill="#ffc000" stroke="#c0504d" stroke-width="1"/>
<rect x="140.4" y="616.5" width="3.8" height="3.8" fill="#ffc000" stroke="#c0504d" stroke-width="1"/>
<rect x="145.0" y="616.5" width="3.8" height="3.8" fill="#ffc000" stroke="#c0504d" stroke-width="1"/>
<rect x="149.6" y="621.5" width="3.8" height="3.8" fill="#ffc000" stroke="#c0504d" stroke-width="1"/>
<rect x="154.2" y="630.8" width="3.8" height="3.8" fill="#ffc000" stroke="#c0504d" stroke-width="1"/>
<rect x="158.8" y="624.0" width="3.8" height="3.8" fill="#ffc000" stroke="#c0504d" stroke-width="1"/>
<rect x="163.5" y="630.8" width="3.8" height="3.8" fill="#ffc000" stroke="#c0504d" stroke-width="1"/>
<rect x="168.1" y="626.4" width="3.8" height="3.8" fill="#ffc000" stroke="#c0504d" stroke-width="1"/>
<rect x="172.7" y="611.7" width="3.8" height="3.8" fill="#ffc000" stroke="#c0504d" stroke-width="1"/>
<rect x="177.3" y="610.4" width="3.8" height="3.8" fill="#ffc000" stroke="#c0504d" stroke-width="1"/>
<rect x="181.9" y="624.0" width="3.8" height="3.8" fill="#ffc000" stroke="#c0504d" stroke-width="1"/>
<rect x="186.5" y="618.3" width="3.8" height="3.8" fill="#ffc000" stroke="#c0504d" stroke-width="1"/>
<rect x="191.1" y="618.8" width="3.8" height="3.8" fill="#ffc000" stroke="#c0504d" stroke-width="1"/>
<rect x="195.7" y="614.2" width="3.8" height="3.8" fill="#ffc000" stroke="#c0504d" stroke-width="1"/>
<rect x="200.3" y="621.9" width="3.8" height="3.8" fill="#ffc000" stroke="#c0504d" stroke-width="1"/>
<rect x="205.0" y="622.6" width="3.8" height="3.8" fill="#ffc000" stroke="#c0504d" stroke-width="1"/>
<rect x="209.6" y="614.9" width="3.8" height="3.8" fill="#ffc000" stroke="#c0504d" stroke-width="1"/>
<rect x="214.2" y="616.2" width="3.8" height="3.8" fill="#ffc000" stroke="#c0504d" stroke-width="1"/>
<rect x="218.8" y="622.6" width="3.8" height="3.8" fill="#ffc000" stroke="#c0504d" stroke-width="1"/>
<rect x="223.4" y="635.7" width="3.8" height="3.8" fill="#ffc000" stroke="#c0504d" stroke-width="1"/>
<rect x="228.0" y="635.7" width="3.8" height="3.8" fill="#ffc000" stroke="#c0504d" stroke-width="1"/>
<rect x="232.6" y="635.7" width="3.8" height="3.8" fill="#ffc000" stroke="#c0504d" stroke-width="1"/>
<rect x="237.2" y="635.7" width="3.8" height="3.8" fill="#ffc000" stroke="#c0504d" stroke-width="1"/>
<rect x="241.8" y="621.7" width="3.8" height="3.8" fill="#ffc000" stroke="#c0504d" stroke-width="1"/>
<rect x="246.4" y="621.7" width="3.8" height="3.8" fill="#ffc000" stroke="#c0504d" stroke-width="1"/>
<rect x="251.1" y="622.6" width="3.8" height="3.8" fill="#ffc000" stroke="#c0504d" stroke-width="1"/>
<rect x="255.7" y="621.3" width="3.8" height="3.8" fill="#ffc000" stroke="#c0504d" stroke-width="1"/>
<rect x="260.3" y="616.0" width="3.8" height="3.8" fill="#ffc000" stroke="#c0504d" stroke-width="1"/>
<rect x="264.9" y="642.7" width="3.8" height="3.8" fill="#ffc000" stroke="#c0504d" stroke-width="1"/>
<rect x="269.5" y="653.9" width="3.8" height="3.8" fill="#ffc000" stroke="#c0504d" stroke-width="1"/>
<rect x="274.1" y="656.3" width="3.8" height="3.8" fill="#ffc000" stroke="#c0504d" stroke-width="1"/>
<rect x="278.7" y="642.7" width="3.8" height="3.8" fill="#ffc000" stroke="#c0504d" stroke-width="1"/>
<rect x="283.3" y="653.6" width="3.8" height="3.8" fill="#ffc000" stroke="#c0504d" stroke-width="1"/>
<rect x="287.9" y="643.0" width="3.8" height="3.8" fill="#ffc000" stroke="#c0504d" stroke-width="1"/>
<rect x="292.5" y="640.3" width="3.8" height="3.8" fill="#ffc000" stroke="#c0504d" stroke-width="1"/>
<rect x="297.2" y="659.9" width="3.8" height="3.8" fill="#ffc000" stroke="#c0504d" stroke-width="1"/>
<rect x="301.8" y="659.9" width="3.8" height="3.8" fill="#ffc000" stroke="#c0504d" stroke-width="1"/>
<rect x="306.4" y="655.4" width="3.8" height="3.8" fill="#ffc000" stroke="#c0504d" stroke-width="1"/>
<rect x="311.0" y="655.4" width="3.8" height="3.8" fill="#ffc000" stroke="#c0504d" stroke-width="1"/>
<rect x="315.6" y="649.5" width="3.8" height="3.8" fill="#ffc000" stroke="#c0504d" stroke-width="1"/>
<rect x="320.2" y="649.5" width="3.8" height="3.8" fill="#ffc000" stroke="#c0504d" stroke-width="1"/>
<rect x="324.8" y="654.7" width="3.8" height="3.8" fill="#ffc000" stroke="#c0504d" stroke-width="1"/>
<rect x="329.4" y="662.5" width="3.8" height="3.8" fill="#ffc000" stroke="#c0504d" stroke-width="1"/>
<rect x="334.0" y="640.7" width="3.8" height="3.8" fill="#ffc000" stroke="#c0504d" stroke-width="1"/>
<rect x="338.6" y="637.8" width="3.8" height="3.8" fill="#ffc000" stroke="#c0504d" stroke-width="1"/>
<rect x="343.2" y="639.6" width="3.8" height="3.8" fill="#ffc000" stroke="#c0504d" stroke-width="1"/>
<rect x="347.9" y="657.7" width="3.8" height="3.8" fill="#ffc000" stroke="#c0504d" stroke-width="1"/>
<rect x="352.5" y="662.9" width="3.8" height="3.8" fill="#ffc000" stroke="#c0504d" stroke-width="1"/>
<rect x="357.1" y="651.3" width="3.8" height="3.8" fill="#ffc000" stroke="#c0504d" stroke-width="1"/>
<rect x="361.7" y="653.6" width="3.8" height="3.8" fill="#ffc000" stroke="#c0504d" stroke-width="1"/>
<rect x="366.3" y="653.6" width="3.8" height="3.8" fill="#ffc000" stroke="#c0504d" stroke-width="1"/>
<rect x="370.9" y="660.6" width="3.8" height="3.8" fill="#ffc000" stroke="#c0504d" stroke-width="1"/>
<rect x="375.5" y="660.9" width="3.8" height="3.8" fill="#ffc000" stroke="#c0504d" stroke-width="1"/>
<rect x="380.1" y="660.9" width="3.8" height="3.8" fill="#ffc000" stroke="#c0504d" stroke-width="1"/>
<rect x="384.7" y="660.9" width="3.8" height="3.8" fill="#ffc000" stroke="#c0504d" stroke-width="1"/>
<rect x="389.4" y="655.0" width="3.8" height="3.8" fill="#ffc000" stroke="#c0504d" stroke-width="1"/>
<rect x="394.0" y="655.0" width="3.8" height="3.8" fill="#ffc000" stroke="#c0504d" stroke-width="1"/>
<rect x="398.6" y="659.5" width="3.8" height="3.8" fill="#ffc000" stroke="#c0504d" stroke-width="1"/>
<rect x="403.2" y="655.7" width="3.8" height="3.8" fill="#ffc000" stroke="#c0504d" stroke-width="1"/>
<rect x="407.8" y="659.5" width="3.8" height="3.8" fill="#ffc000" stroke="#c0504d" stroke-width="1"/>
<rect x="412.4" y="655.7" width="3.8" height="3.8" fill="#ffc000" stroke="#c0504d" stroke-width="1"/>
<rect x="417.0" y="656.3" width="3.8" height="3.8" fill="#ffc000" stroke="#c0504d" stroke-width="1"/>
<rect x="421.6" y="656.3" width="3.8" height="3.8" fill="#ffc000" stroke="#c0504d" stroke-width="1"/>
<rect x="426.2" y="634.4" width="3.8" height="3.8" fill="#ffc000" stroke="#c0504d" stroke-width="1"/>
<rect x="430.8" y="650.5" width="3.8" height="3.8" fill="#ffc000" stroke="#c0504d" stroke-width="1"/>
<rect x="435.5" y="634.4" width="3.8" height="3.8" fill="#ffc000" stroke="#c0504d" stroke-width="1"/>
<rect x="440.1" y="636.7" width="3.8" height="3.8" fill="#ffc000" stroke="#c0504d" stroke-width="1"/>
<rect x="444.7" y="612.4" width="3.8" height="3.8" fill="#ffc000" stroke="#c0504d" stroke-width="1"/>
<rect x="449.3" y="614.4" width="3.8" height="3.8" fill="#ffc000" stroke="#c0504d" stroke-width="1"/>
<rect x="453.9" y="631.6" width="3.8" height="3.8" fill="#ffc000" stroke="#c0504d" stroke-width="1"/>
<rect x="458.5" y="628.7" width="3.8" height="3.8" fill="#ffc000" stroke="#c0504d" stroke-width="1"/>
<rect x="463.1" y="625.1" width="3.8" height="3.8" fill="#ffc000" stroke="#c0504d" stroke-width="1"/>
<rect x="467.7" y="620.6" width="3.8" height="3.8" fill="#ffc000" stroke="#c0504d" stroke-width="1"/>
<rect x="472.3" y="625.1" width="3.8" height="3.8" fill="#ffc000" stroke="#c0504d" stroke-width="1"/>
<rect x="476.9" y="635.1" width="3.8" height="3.8" fill="#ffc000" stroke="#c0504d" stroke-width="1"/>
<rect x="481.6" y="639.8" width="3.8" height="3.8" fill="#ffc000" stroke="#c0504d" stroke-width="1"/>
<rect x="486.2" y="615.4" width="3.8" height="3.8" fill="#ffc000" stroke="#c0504d" stroke-width="1"/>
<rect x="490.8" y="615.4" width="3.8" height="3.8" fill="#ffc000" stroke="#c0504d" stroke-width="1"/>
<rect x="495.4" y="623.3" width="3.8" height="3.8" fill="#ffc000" stroke="#c0504d" stroke-width="1"/>
<rect x="500.0" y="620.6" width="3.8" height="3.8" fill="#ffc000" stroke="#c0504d" stroke-width="1"/>
<rect x="504.6" y="607.9" width="3.8" height="3.8" fill="#ffc000" stroke="#c0504d" stroke-width="1"/>
<rect x="509.2" y="613.1" width="3.8" height="3.8" fill="#ffc000" stroke="#c0504d" stroke-width="1"/>
<rect x="513.8" y="623.3" width="3.8" height="3.8" fill="#ffc000" stroke="#c0504d" stroke-width="1"/>
<rect x="518.4" y="631.6" width="3.8" height="3.8" fill="#ffc000" stroke="#c0504d" stroke-width="1"/>
<rect x="523.0" y="633.3" width="3.8" height="3.8" fill="#ffc000" stroke="#c0504d" stroke-width="1"/>
<rect x="527.7" y="627.6" width="3.8" height="3.8" fill="#ffc000" stroke="#c0504d" stroke-width="1"/>
<rect x="532.3" y="621.0" width="3.8" height="3.8" fill="#ffc000" stroke="#c0504d" stroke-width="1"/>
<rect x="536.9" y="621.0" width="3.8" height="3.8" fill="#ffc000" stroke="#c0504d" stroke-width="1"/>
<rect x="541.5" y="627.6" width="3.8" height="3.8" fill="#ffc000" stroke="#c0504d" stroke-width="1"/>
<rect x="546.1" y="628.3" width="3.8" height="3.8" fill="#ffc000" stroke="#c0504d" stroke-width="1"/>
<rect x="550.7" y="633.3" width="3.8" height="3.8" fill="#ffc000" stroke="#c0504d" stroke-width="1"/>
<rect x="555.3" y="633.3" width="3.8" height="3.8" fill="#ffc000" stroke="#c0504d" stroke-width="1"/>
<rect x="559.9" y="626.0" width="3.8" height="3.8" fill="#ffc000" stroke="#c0504d" stroke-width="1"/>
<rect x="564.5" y="622.8" width="3.8" height="3.8" fill="#ffc000" stroke="#c0504d" stroke-width="1"/>
<rect x="569.1" y="614.5" width="3.8" height="3.8" fill="#ffc000" stroke="#c0504d" stroke-width="1"/>
<rect x="573.8" y="607.0" width="3.8" height="3.8" fill="#ffc000" stroke="#c0504d" stroke-width="1"/>
<rect x="578.4" y="613.5" width="3.8" height="3.8" fill="#ffc000" stroke="#c0504d" stroke-width="1"/>
<rect x="583.0" y="610.8" width="3.8" height="3.8" fill="#ffc000" stroke="#c0504d" stroke-width="1"/>
<rect x="587.6" y="615.1" width="3.8" height="3.8" fill="#ffc000" stroke="#c0504d" stroke-width="1"/>
<path d="M96.2 621.1 L100.8 607.5 L105.4 620.7 L110.0 622.0 L114.6 611.1 L119.3 623.4 L123.9 612.9 L128.5 610.2 L133.1 616.1 L137.7 618.1 L142.3 604.8 L146.9 605.2 L151.5 604.8 L156.1 606.4 L160.8 604.8 L165.4 601.0 L170.0 601.2 L174.6 598.2 L179.2 595.7 L183.8 596.2 L188.4 605.5 L193.0 609.5 L197.6 593.0 L202.2 600.5 L206.9 603.5 L211.5 600.1 L216.1 605.5 L220.7 608.9 L225.3 606.6 L229.9 609.5 L234.5 613.0 L239.1 609.8 L243.7 610.0 L248.3 602.8 L253.0 607.5 L257.6 614.3 L262.2 611.4 L266.8 605.5 L271.4 614.5 L276.0 617.2 L280.6 615.9 L285.2 627.7 L289.8 627.0 L294.4 627.7 L299.1 639.7 L303.7 645.6 L308.3 648.0 L312.9 645.8 L317.5 642.2 L322.1 638.5 L326.7 635.6 L331.3 641.2 L335.9 637.9 L340.5 635.1 L345.1 636.3 L349.8 641.5 L354.4 638.5 L359.0 641.5 L363.6 638.5 L368.2 643.3 L372.8 650.1 L377.4 644.9 L382.0 644.9 L386.6 647.6 L391.2 647.4 L395.9 649.0 L400.5 654.0 L405.1 646.2 L409.7 655.8 L414.3 651.4 L418.9 651.2 L423.5 651.4 L428.1 634.0 L432.7 621.1 L437.4 616.3 L442.0 604.3 L446.6 599.1 L451.2 597.5 L455.8 610.9 L460.4 606.2 L465.0 602.6 L469.6 594.2 L474.2 606.9 L478.8 602.6 L483.5 615.5 L488.1 613.0 L492.7 610.9 L497.3 606.9 L501.9 607.7 L506.5 601.2 L511.1 594.8 L515.7 598.0 L520.3 604.6 L524.9 606.2 L529.6 595.5 L534.2 586.7 L538.8 596.4 L543.4 594.2 L548.0 594.8 L552.6 592.8 L557.2 598.3 L561.8 601.0 L566.4 599.8 L571.0 602.1 L575.6 596.0 L580.3 607.7 L584.9 601.8 L589.5 603.4" fill="none" stroke="#9bbb59" stroke-width="2.2" stroke-linejoin="round"/>
<path d="M96.2 618.4L98.7 622.9L93.7 622.9Z" fill="#9bbb59" stroke="#9bbb59" stroke-width="0.8"/>
<path d="M100.8 604.8L103.3 609.3L98.3 609.3Z" fill="#9bbb59" stroke="#9bbb59" stroke-width="0.8"/>
<path d="M105.4 618.0L107.9 622.5L102.9 622.5Z" fill="#9bbb59" stroke="#9bbb59" stroke-width="0.8"/>
<path d="M110.0 619.3L112.5 623.8L107.5 623.8Z" fill="#9bbb59" stroke="#9bbb59" stroke-width="0.8"/>
<path d="M114.6 608.4L117.1 612.9L112.1 612.9Z" fill="#9bbb59" stroke="#9bbb59" stroke-width="0.8"/>
<path d="M119.3 620.7L121.8 625.2L116.8 625.2Z" fill="#9bbb59" stroke="#9bbb59" stroke-width="0.8"/>
<path d="M123.9 610.2L126.4 614.7L121.4 614.7Z" fill="#9bbb59" stroke="#9bbb59" stroke-width="0.8"/>
<path d="M128.5 607.5L131.0 612.0L126.0 612.0Z" fill="#9bbb59" stroke="#9bbb59" stroke-width="0.8"/>
<path d="M133.1 613.4L135.6 617.9L130.6 617.9Z" fill="#9bbb59" stroke="#9bbb59" stroke-width="0.8"/>
<path d="M137.7 615.4L140.2 619.9L135.2 619.9Z" fill="#9bbb59" stroke="#9bbb59" stroke-width="0.8"/>
<path d="M142.3 602.1L144.8 606.6L139.8 606.6Z" fill="#9bbb59" stroke="#9bbb59" stroke-width="0.8"/>
<path d="M146.9 602.5L149.4 607.0L144.4 607.0Z" fill="#9bbb59" stroke="#9bbb59" stroke-width="0.8"/>
<path d="M151.5 602.1L154.0 606.6L149.0 606.6Z" fill="#9bbb59" stroke="#9bbb59" stroke-width="0.8"/>
<path d="M156.1 603.7L158.6 608.2L153.6 608.2Z" fill="#9bbb59" stroke="#9bbb59" stroke-width="0.8"/>
<path d="M160.8 602.1L163.2 606.6L158.2 606.6Z" fill="#9bbb59" stroke="#9bbb59" stroke-width="0.8"/>
<path d="M165.4 598.3L167.9 602.8L162.9 602.8Z" fill="#9bbb59" stroke="#9bbb59" stroke-width="0.8"/>
<path d="M170.0 598.5L172.5 603.0L167.5 603.0Z" fill="#9bbb59" stroke="#9bbb59" stroke-width="0.8"/>
<path d="M174.6 595.5L177.1 600.0L172.1 600.0Z" fill="#9bbb59" stroke="#9bbb59" stroke-width="0.8"/>
<path d="M179.2 593.0L181.7 597.5L176.7 597.5Z" fill="#9bbb59" stroke="#9bbb59" stroke-width="0.8"/>
<path d="M183.8 593.5L186.3 598.0L181.3 598.0Z" fill="#9bbb59" stroke="#9bbb59" stroke-width="0.8"/>
<path d="M188.4 602.8L190.9 607.3L185.9 607.3Z" fill="#9bbb59" stroke="#9bbb59" stroke-width="0.8"/>
<path d="M193.0 606.8L195.5 611.3L190.5 611.3Z" fill="#9bbb59" stroke="#9bbb59" stroke-width="0.8"/>
<path d="M197.6 590.3L200.1 594.8L195.1 594.8Z" fill="#9bbb59" stroke="#9bbb59" stroke-width="0.8"/>
<path d="M202.2 597.8L204.7 602.3L199.7 602.3Z" fill="#9bbb59" stroke="#9bbb59" stroke-width="0.8"/>
<path d="M206.9 600.8L209.4 605.3L204.4 605.3Z" fill="#9bbb59" stroke="#9bbb59" stroke-width="0.8"/>
<path d="M211.5 597.4L214.0 601.9L209.0 601.9Z" fill="#9bbb59" stroke="#9bbb59" stroke-width="0.8"/>
<path d="M216.1 602.8L218.6 607.3L213.6 607.3Z" fill="#9bbb59" stroke="#9bbb59" stroke-width="0.8"/>
<path d="M220.7 606.2L223.2 610.7L218.2 610.7Z" fill="#9bbb59" stroke="#9bbb59" stroke-width="0.8"/>
<path d="M225.3 603.9L227.8 608.4L222.8 608.4Z" fill="#9bbb59" stroke="#9bbb59" stroke-width="0.8"/>
<path d="M229.9 606.8L232.4 611.3L227.4 611.3Z" fill="#9bbb59" stroke="#9bbb59" stroke-width="0.8"/>
<path d="M234.5 610.3L237.0 614.8L232.0 614.8Z" fill="#9bbb59" stroke="#9bbb59" stroke-width="0.8"/>
<path d="M239.1 607.1L241.6 611.6L236.6 611.6Z" fill="#9bbb59" stroke="#9bbb59" stroke-width="0.8"/>
<path d="M243.7 607.3L246.2 611.8L241.2 611.8Z" fill="#9bbb59" stroke="#9bbb59" stroke-width="0.8"/>
<path d="M248.3 600.1L250.8 604.6L245.8 604.6Z" fill="#9bbb59" stroke="#9bbb59" stroke-width="0.8"/>
<path d="M253.0 604.8L255.5 609.3L250.5 609.3Z" fill="#9bbb59" stroke="#9bbb59" stroke-width="0.8"/>
<path d="M257.6 611.6L260.1 616.1L255.1 616.1Z" fill="#9bbb59" stroke="#9bbb59" stroke-width="0.8"/>
<path d="M262.2 608.7L264.7 613.2L259.7 613.2Z" fill="#9bbb59" stroke="#9bbb59" stroke-width="0.8"/>
<path d="M266.8 602.8L269.3 607.3L264.3 607.3Z" fill="#9bbb59" stroke="#9bbb59" stroke-width="0.8"/>
<path d="M271.4 611.8L273.9 616.3L268.9 616.3Z" fill="#9bbb59" stroke="#9bbb59" stroke-width="0.8"/>
<path d="M276.0 614.5L278.5 619.0L273.5 619.0Z" fill="#9bbb59" stroke="#9bbb59" stroke-width="0.8"/>
<path d="M280.6 613.2L283.1 617.7L278.1 617.7Z" fill="#9bbb59" stroke="#9bbb59" stroke-width="0.8"/>
<path d="M285.2 625.0L287.7 629.5L282.7 629.5Z" fill="#9bbb59" stroke="#9bbb59" stroke-width="0.8"/>
<path d="M289.8 624.3L292.3 628.8L287.3 628.8Z" fill="#9bbb59" stroke="#9bbb59" stroke-width="0.8"/>
<path d="M294.4 625.0L296.9 629.5L291.9 629.5Z" fill="#9bbb59" stroke="#9bbb59" stroke-width="0.8"/>
<path d="M299.1 637.0L301.6 641.5L296.6 641.5Z" fill="#9bbb59" stroke="#9bbb59" stroke-width="0.8"/>
<path d="M303.7 642.9L306.2 647.4L301.2 647.4Z" fill="#9bbb59" stroke="#9bbb59" stroke-width="0.8"/>
<path d="M308.3 645.3L310.8 649.8L305.8 649.8Z" fill="#9bbb59" stroke="#9bbb59" stroke-width="0.8"/>
<path d="M312.9 643.1L315.4 647.6L310.4 647.6Z" fill="#9bbb59" stroke="#9bbb59" stroke-width="0.8"/>
<path d="M317.5 639.5L320.0 644.0L315.0 644.0Z" fill="#9bbb59" stroke="#9bbb59" stroke-width="0.8"/>
<path d="M322.1 635.8L324.6 640.3L319.6 640.3Z" fill="#9bbb59" stroke="#9bbb59" stroke-width="0.8"/>
<path d="M326.7 632.9L329.2 637.4L324.2 637.4Z" fill="#9bbb59" stroke="#9bbb59" stroke-width="0.8"/>
<path d="M331.3 638.5L333.8 643.0L328.8 643.0Z" fill="#9bbb59" stroke="#9bbb59" stroke-width="0.8"/>
<path d="M335.9 635.2L338.4 639.7L333.4 639.7Z" fill="#9bbb59" stroke="#9bbb59" stroke-width="0.8"/>
<path d="M340.5 632.4L343.0 636.9L338.0 636.9Z" fill="#9bbb59" stroke="#9bbb59" stroke-width="0.8"/>
<path d="M345.1 633.6L347.6 638.1L342.6 638.1Z" fill="#9bbb59" stroke="#9bbb59" stroke-width="0.8"/>
<path d="M349.8 638.8L352.3 643.3L347.3 643.3Z" fill="#9bbb59" stroke="#9bbb59" stroke-width="0.8"/>
<path d="M354.4 635.8L356.9 640.3L351.9 640.3Z" fill="#9bbb59" stroke="#9bbb59" stroke-width="0.8"/>
<path d="M359.0 638.8L361.5 643.3L356.5 643.3Z" fill="#9bbb59" stroke="#9bbb59" stroke-width="0.8"/>
<path d="M363.6 635.8L366.1 640.3L361.1 640.3Z" fill="#9bbb59" stroke="#9bbb59" stroke-width="0.8"/>
<path d="M368.2 640.6L370.7 645.1L365.7 645.1Z" fill="#9bbb59" stroke="#9bbb59" stroke-width="0.8"/>
<path d="M372.8 647.4L375.3 651.9L370.3 651.9Z" fill="#9bbb59" stroke="#9bbb59" stroke-width="0.8"/>
<path d="M377.4 642.2L379.9 646.7L374.9 646.7Z" fill="#9bbb59" stroke="#9bbb59" stroke-width="0.8"/>
<path d="M382.0 642.2L384.5 646.7L379.5 646.7Z" fill="#9bbb59" stroke="#9bbb59" stroke-width="0.8"/>
<path d="M386.6 644.9L389.1 649.4L384.1 649.4Z" fill="#9bbb59" stroke="#9bbb59" stroke-width="0.8"/>
<path d="M391.2 644.7L393.8 649.2L388.8 649.2Z" fill="#9bbb59" stroke="#9bbb59" stroke-width="0.8"/>
<path d="M395.9 646.3L398.4 650.8L393.4 650.8Z" fill="#9bbb59" stroke="#9bbb59" stroke-width="0.8"/>
<path d="M400.5 651.3L403.0 655.8L398.0 655.8Z" fill="#9bbb59" stroke="#9bbb59" stroke-width="0.8"/>
<path d="M405.1 643.5L407.6 648.0L402.6 648.0Z" fill="#9bbb59" stroke="#9bbb59" stroke-width="0.8"/>
<path d="M409.7 653.1L412.2 657.6L407.2 657.6Z" fill="#9bbb59" stroke="#9bbb59" stroke-width="0.8"/>
<path d="M414.3 648.7L416.8 653.2L411.8 653.2Z" fill="#9bbb59" stroke="#9bbb59" stroke-width="0.8"/>
<path d="M418.9 648.5L421.4 653.0L416.4 653.0Z" fill="#9bbb59" stroke="#9bbb59" stroke-width="0.8"/>
<path d="M423.5 648.7L426.0 653.2L421.0 653.2Z" fill="#9bbb59" stroke="#9bbb59" stroke-width="0.8"/>
<path d="M428.1 631.3L430.6 635.8L425.6 635.8Z" fill="#9bbb59" stroke="#9bbb59" stroke-width="0.8"/>
<path d="M432.7 618.4L435.2 622.9L430.2 622.9Z" fill="#9bbb59" stroke="#9bbb59" stroke-width="0.8"/>
<path d="M437.4 613.6L439.9 618.1L434.9 618.1Z" fill="#9bbb59" stroke="#9bbb59" stroke-width="0.8"/>
<path d="M442.0 601.6L444.5 606.1L439.5 606.1Z" fill="#9bbb59" stroke="#9bbb59" stroke-width="0.8"/>
<path d="M446.6 596.4L449.1 600.9L444.1 600.9Z" fill="#9bbb59" stroke="#9bbb59" stroke-width="0.8"/>
<path d="M451.2 594.8L453.7 599.3L448.7 599.3Z" fill="#9bbb59" stroke="#9bbb59" stroke-width="0.8"/>
<path d="M455.8 608.2L458.3 612.7L453.3 612.7Z" fill="#9bbb59" stroke="#9bbb59" stroke-width="0.8"/>
<path d="M460.4 603.5L462.9 608.0L457.9 608.0Z" fill="#9bbb59" stroke="#9bbb59" stroke-width="0.8"/>
<path d="M465.0 599.9L467.5 604.4L462.5 604.4Z" fill="#9bbb59" stroke="#9bbb59" stroke-width="0.8"/>
<path d="M469.6 591.5L472.1 596.0L467.1 596.0Z" fill="#9bbb59" stroke="#9bbb59" stroke-width="0.8"/>
<path d="M474.2 604.2L476.7 608.7L471.7 608.7Z" fill="#9bbb59" stroke="#9bbb59" stroke-width="0.8"/>
<path d="M478.8 599.9L481.3 604.4L476.3 604.4Z" fill="#9bbb59" stroke="#9bbb59" stroke-width="0.8"/>
<path d="M483.5 612.8L486.0 617.3L481.0 617.3Z" fill="#9bbb59" stroke="#9bbb59" stroke-width="0.8"/>
<path d="M488.1 610.3L490.6 614.8L485.6 614.8Z" fill="#9bbb59" stroke="#9bbb59" stroke-width="0.8"/>
<path d="M492.7 608.2L495.2 612.7L490.2 612.7Z" fill="#9bbb59" stroke="#9bbb59" stroke-width="0.8"/>
<path d="M497.3 604.2L499.8 608.7L494.8 608.7Z" fill="#9bbb59" stroke="#9bbb59" stroke-width="0.8"/>
<path d="M501.9 605.0L504.4 609.5L499.4 609.5Z" fill="#9bbb59" stroke="#9bbb59" stroke-width="0.8"/>
<path d="M506.5 598.5L509.0 603.0L504.0 603.0Z" fill="#9bbb59" stroke="#9bbb59" stroke-width="0.8"/>
<path d="M511.1 592.1L513.6 596.6L508.6 596.6Z" fill="#9bbb59" stroke="#9bbb59" stroke-width="0.8"/>
<path d="M515.7 595.3L518.2 599.8L513.2 599.8Z" fill="#9bbb59" stroke="#9bbb59" stroke-width="0.8"/>
<path d="M520.3 601.9L522.8 606.4L517.8 606.4Z" fill="#9bbb59" stroke="#9bbb59" stroke-width="0.8"/>
<path d="M524.9 603.5L527.4 608.0L522.4 608.0Z" fill="#9bbb59" stroke="#9bbb59" stroke-width="0.8"/>
<path d="M529.6 592.8L532.1 597.3L527.1 597.3Z" fill="#9bbb59" stroke="#9bbb59" stroke-width="0.8"/>
<path d="M534.2 584.0L536.7 588.5L531.7 588.5Z" fill="#9bbb59" stroke="#9bbb59" stroke-width="0.8"/>
<path d="M538.8 593.7L541.3 598.2L536.3 598.2Z" fill="#9bbb59" stroke="#9bbb59" stroke-width="0.8"/>
<path d="M543.4 591.5L545.9 596.0L540.9 596.0Z" fill="#9bbb59" stroke="#9bbb59" stroke-width="0.8"/>
<path d="M548.0 592.1L550.5 596.6L545.5 596.6Z" fill="#9bbb59" stroke="#9bbb59" stroke-width="0.8"/>
<path d="M552.6 590.1L555.1 594.6L550.1 594.6Z" fill="#9bbb59" stroke="#9bbb59" stroke-width="0.8"/>
<path d="M557.2 595.6L559.7 600.1L554.7 600.1Z" fill="#9bbb59" stroke="#9bbb59" stroke-width="0.8"/>
<path d="M561.8 598.3L564.3 602.8L559.3 602.8Z" fill="#9bbb59" stroke="#9bbb59" stroke-width="0.8"/>
<path d="M566.4 597.1L568.9 601.6L563.9 601.6Z" fill="#9bbb59" stroke="#9bbb59" stroke-width="0.8"/>
<path d="M571.0 599.4L573.5 603.9L568.5 603.9Z" fill="#9bbb59" stroke="#9bbb59" stroke-width="0.8"/>
<path d="M575.6 593.3L578.1 597.8L573.1 597.8Z" fill="#9bbb59" stroke="#9bbb59" stroke-width="0.8"/>
<path d="M580.3 605.0L582.8 609.5L577.8 609.5Z" fill="#9bbb59" stroke="#9bbb59" stroke-width="0.8"/>
<path d="M584.9 599.1L587.4 603.6L582.4 603.6Z" fill="#9bbb59" stroke="#9bbb59" stroke-width="0.8"/>
<path d="M589.5 600.7L592.0 605.2L587.0 605.2Z" fill="#9bbb59" stroke="#9bbb59" stroke-width="0.8"/>
<line x1="106.3" y1="781.7" x2="596.3" y2="781.7" stroke="#c4c4c4" stroke-width="1.2"/>
<line x1="106.3" y1="797.4" x2="596.3" y2="797.4" stroke="#c4c4c4" stroke-width="1.2"/>
<line x1="106.3" y1="813.1" x2="596.3" y2="813.1" stroke="#c4c4c4" stroke-width="1.2"/>
<line x1="106.3" y1="828.8" x2="596.3" y2="828.8" stroke="#c4c4c4" stroke-width="1.2"/>
<line x1="106.3" y1="844.5" x2="596.3" y2="844.5" stroke="#c4c4c4" stroke-width="1.2"/>
<line x1="106.3" y1="860.1" x2="596.3" y2="860.1" stroke="#c4c4c4" stroke-width="1.2"/>
<line x1="106.3" y1="875.8" x2="596.3" y2="875.8" stroke="#c4c4c4" stroke-width="1.2"/>
<line x1="106.3" y1="891.5" x2="596.3" y2="891.5" stroke="#c4c4c4" stroke-width="1.2"/>
<line x1="106.3" y1="907.2" x2="596.3" y2="907.2" stroke="#c4c4c4" stroke-width="1.2"/>
<line x1="106.3" y1="922.9" x2="596.3" y2="922.9" stroke="#c4c4c4" stroke-width="1.2"/>
<line x1="106.3" y1="938.6" x2="596.3" y2="938.6" stroke="#c4c4c4" stroke-width="1.2"/>
<line x1="110.3" y1="781.7" x2="110.3" y2="938.6" stroke="#b4b4b4" stroke-width="1"/>
<line x1="106.3" y1="781.7" x2="110.3" y2="781.7" stroke="#b4b4b4" stroke-width="1"/>
<line x1="106.3" y1="797.4" x2="110.3" y2="797.4" stroke="#b4b4b4" stroke-width="1"/>
<line x1="106.3" y1="813.1" x2="110.3" y2="813.1" stroke="#b4b4b4" stroke-width="1"/>
<line x1="106.3" y1="828.8" x2="110.3" y2="828.8" stroke="#b4b4b4" stroke-width="1"/>
<line x1="106.3" y1="844.5" x2="110.3" y2="844.5" stroke="#b4b4b4" stroke-width="1"/>
<line x1="106.3" y1="860.1" x2="110.3" y2="860.1" stroke="#b4b4b4" stroke-width="1"/>
<line x1="106.3" y1="875.8" x2="110.3" y2="875.8" stroke="#b4b4b4" stroke-width="1"/>
<line x1="106.3" y1="891.5" x2="110.3" y2="891.5" stroke="#b4b4b4" stroke-width="1"/>
<line x1="106.3" y1="907.2" x2="110.3" y2="907.2" stroke="#b4b4b4" stroke-width="1"/>
<line x1="106.3" y1="922.9" x2="110.3" y2="922.9" stroke="#b4b4b4" stroke-width="1"/>
<line x1="106.3" y1="938.6" x2="110.3" y2="938.6" stroke="#b4b4b4" stroke-width="1"/>
<line x1="110.3" y1="938.6" x2="596.3" y2="938.6" stroke="#b4b4b4" stroke-width="1"/>
<line x1="110.3" y1="938.6" x2="110.3" y2="942.6" stroke="#b4b4b4" stroke-width="1"/>
<line x1="136.8" y1="938.6" x2="136.8" y2="942.6" stroke="#b4b4b4" stroke-width="1"/>
<line x1="163.3" y1="938.6" x2="163.3" y2="942.6" stroke="#b4b4b4" stroke-width="1"/>
<line x1="189.8" y1="938.6" x2="189.8" y2="942.6" stroke="#b4b4b4" stroke-width="1"/>
<line x1="216.3" y1="938.6" x2="216.3" y2="942.6" stroke="#b4b4b4" stroke-width="1"/>
<line x1="242.8" y1="938.6" x2="242.8" y2="942.6" stroke="#b4b4b4" stroke-width="1"/>
<line x1="269.3" y1="938.6" x2="269.3" y2="942.6" stroke="#b4b4b4" stroke-width="1"/>
<line x1="295.9" y1="938.6" x2="295.9" y2="942.6" stroke="#b4b4b4" stroke-width="1"/>
<line x1="322.4" y1="938.6" x2="322.4" y2="942.6" stroke="#b4b4b4" stroke-width="1"/>
<line x1="348.9" y1="938.6" x2="348.9" y2="942.6" stroke="#b4b4b4" stroke-width="1"/>
<line x1="375.4" y1="938.6" x2="375.4" y2="942.6" stroke="#b4b4b4" stroke-width="1"/>
<line x1="401.9" y1="938.6" x2="401.9" y2="942.6" stroke="#b4b4b4" stroke-width="1"/>
<line x1="428.4" y1="938.6" x2="428.4" y2="942.6" stroke="#b4b4b4" stroke-width="1"/>
<line x1="454.9" y1="938.6" x2="454.9" y2="942.6" stroke="#b4b4b4" stroke-width="1"/>
<line x1="481.4" y1="938.6" x2="481.4" y2="942.6" stroke="#b4b4b4" stroke-width="1"/>
<line x1="507.9" y1="938.6" x2="507.9" y2="942.6" stroke="#b4b4b4" stroke-width="1"/>
<line x1="534.4" y1="938.6" x2="534.4" y2="942.6" stroke="#b4b4b4" stroke-width="1"/>
<line x1="560.9" y1="938.6" x2="560.9" y2="942.6" stroke="#b4b4b4" stroke-width="1"/>
<line x1="587.4" y1="938.6" x2="587.4" y2="942.6" stroke="#b4b4b4" stroke-width="1"/>
<text x="99.4" y="786.0" font-size="12.3" text-anchor="end" font-weight="normal" font-style="normal" fill="#000" >0.2</text>
<text x="99.4" y="801.7" font-size="12.3" text-anchor="end" font-weight="normal" font-style="normal" fill="#000" >0.18</text>
<text x="99.4" y="817.4" font-size="12.3" text-anchor="end" font-weight="normal" font-style="normal" fill="#000" >0.16</text>
<text x="99.4" y="833.1" font-size="12.3" text-anchor="end" font-weight="normal" font-style="normal" fill="#000" >0.14</text>
<text x="99.4" y="848.8" font-size="12.3" text-anchor="end" font-weight="normal" font-style="normal" fill="#000" >0.12</text>
<text x="99.4" y="864.5" font-size="12.3" text-anchor="end" font-weight="normal" font-style="normal" fill="#000" >0.1</text>
<text x="99.4" y="880.1" font-size="12.3" text-anchor="end" font-weight="normal" font-style="normal" fill="#000" >0.08</text>
<text x="99.4" y="895.8" font-size="12.3" text-anchor="end" font-weight="normal" font-style="normal" fill="#000" >0.06</text>
<text x="99.4" y="911.5" font-size="12.3" text-anchor="end" font-weight="normal" font-style="normal" fill="#000" >0.04</text>
<text x="99.4" y="927.2" font-size="12.3" text-anchor="end" font-weight="normal" font-style="normal" fill="#000" >0.02</text>
<text x="99.4" y="942.9" font-size="12.3" text-anchor="end" font-weight="normal" font-style="normal" fill="#000" >0</text>
<text x="110.3" y="955.9" font-size="12.3" text-anchor="middle" font-weight="normal" font-style="normal" fill="#000" >0</text>
<text x="136.8" y="955.9" font-size="12.3" text-anchor="middle" font-weight="normal" font-style="normal" fill="#000" >6</text>
<text x="163.3" y="955.9" font-size="12.3" text-anchor="middle" font-weight="normal" font-style="normal" fill="#000" >12</text>
<text x="189.8" y="955.9" font-size="12.3" text-anchor="middle" font-weight="normal" font-style="normal" fill="#000" >18</text>
<text x="216.3" y="955.9" font-size="12.3" text-anchor="middle" font-weight="normal" font-style="normal" fill="#000" >24</text>
<text x="242.8" y="955.9" font-size="12.3" text-anchor="middle" font-weight="normal" font-style="normal" fill="#000" >30</text>
<text x="269.3" y="955.9" font-size="12.3" text-anchor="middle" font-weight="normal" font-style="normal" fill="#000" >36</text>
<text x="295.9" y="955.9" font-size="12.3" text-anchor="middle" font-weight="normal" font-style="normal" fill="#000" >42</text>
<text x="322.4" y="955.9" font-size="12.3" text-anchor="middle" font-weight="normal" font-style="normal" fill="#000" >48</text>
<text x="348.9" y="955.9" font-size="12.3" text-anchor="middle" font-weight="normal" font-style="normal" fill="#000" >54</text>
<text x="375.4" y="955.9" font-size="12.3" text-anchor="middle" font-weight="normal" font-style="normal" fill="#000" >60</text>
<text x="401.9" y="955.9" font-size="12.3" text-anchor="middle" font-weight="normal" font-style="normal" fill="#000" >66</text>
<text x="428.4" y="955.9" font-size="12.3" text-anchor="middle" font-weight="normal" font-style="normal" fill="#000" >72</text>
<text x="454.9" y="955.9" font-size="12.3" text-anchor="middle" font-weight="normal" font-style="normal" fill="#000" >78</text>
<text x="481.4" y="955.9" font-size="12.3" text-anchor="middle" font-weight="normal" font-style="normal" fill="#000" >84</text>
<text x="507.9" y="955.9" font-size="12.3" text-anchor="middle" font-weight="normal" font-style="normal" fill="#000" >90</text>
<text x="534.4" y="955.9" font-size="12.3" text-anchor="middle" font-weight="normal" font-style="normal" fill="#000" >96</text>
<text x="560.9" y="955.9" font-size="12.3" text-anchor="middle" font-weight="normal" font-style="normal" fill="#000" >102</text>
<text x="587.4" y="955.9" font-size="12.3" text-anchor="middle" font-weight="normal" font-style="normal" fill="#000" >108</text>
<line x1="266.4" y1="770.0" x2="266.4" y2="940.0" stroke="#ff2020" stroke-width="1.3"/>
<line x1="426.6" y1="770.0" x2="426.6" y2="940.0" stroke="#ff2020" stroke-width="1.3"/>
<text x="189.3" y="933.0" font-size="12.2" text-anchor="middle" font-weight="bold" font-style="normal" fill="#ff0000" >Paced</text>
<text x="349.0" y="933.0" font-size="12.2" text-anchor="middle" font-weight="bold" font-style="normal" fill="#00b050" >Spontaneous</text>
<text x="503.5" y="933.0" font-size="12.2" text-anchor="middle" font-weight="bold" font-style="normal" fill="#ff0000" >Paced</text>
<text x="358.7" y="977.8" font-size="12.2" text-anchor="middle" font-weight="bold" font-style="normal" fill="#000" >Breath number</text>
<path d="M114.7 880.5 L119.1 885.8 L123.6 882.9 L128.0 882.4 L132.4 877.1 L136.8 875.9 L141.2 864.9 L145.6 863.7 L150.1 859.0 L154.5 858.4 L158.9 858.2 L163.3 846.5 L167.7 858.4 L172.2 847.9 L176.6 849.1 L181.0 844.1 L185.4 840.6 L189.8 841.8 L194.2 835.5 L198.7 837.1 L203.1 832.0 L207.5 835.5 L211.9 839.2 L216.3 836.0 L220.8 830.1 L225.2 828.9 L229.6 832.5 L234.0 827.4 L238.4 833.9 L242.8 829.9 L247.3 840.4 L251.7 823.8 L256.1 828.5 L260.5 824.3 L264.9 825.2 L269.3 826.7 L273.8 821.2 L278.2 828.5 L282.6 836.3 L287.0 828.9 L291.4 834.6 L295.9 839.0 L300.3 838.0 L304.7 852.6 L309.1 846.4 L313.5 848.3 L317.9 867.0 L322.4 874.0 L326.8 862.5 L331.2 855.8 L335.6 861.6 L340.0 866.6 L344.5 862.0 L348.9 852.0 L353.3 862.5 L357.7 869.3 L362.1 868.2 L366.5 869.3 L371.0 867.0 L375.4 864.6 L379.8 869.7 L384.2 870.7 L388.6 868.4 L393.1 865.1 L397.5 866.0 L401.9 873.6 L406.3 871.8 L410.7 878.6 L415.1 880.5 L419.6 880.5 L424.0 882.5 L428.4 885.3 L432.8 802.5 L437.2 818.6 L441.7 836.1 L446.1 836.6 L450.5 837.2 L454.9 842.5 L459.3 837.5 L463.7 836.3 L468.2 836.1 L472.6 832.0 L477.0 828.1 L481.4 852.4 L485.8 833.7 L490.2 831.4 L494.7 825.3 L499.1 828.5 L503.5 825.3 L507.9 819.5 L512.3 821.2 L516.8 817.4 L521.2 818.3 L525.6 817.7 L530.0 815.7 L534.4 818.3 L538.8 816.9 L543.3 818.9 L547.7 822.0 L552.1 817.7 L556.5 823.2 L560.9 816.2 L565.4 825.6 L569.8 818.6 L574.2 819.5 L578.6 821.2 L583.0 827.4 L587.4 818.1" fill="none" stroke="#e46c0a" stroke-width="2" stroke-linejoin="round"/>
<rect x="112.8" y="878.6" width="3.8" height="3.8" fill="#f79646" stroke="#d0402a" stroke-width="1"/>
<rect x="117.2" y="883.9" width="3.8" height="3.8" fill="#f79646" stroke="#d0402a" stroke-width="1"/>
<rect x="121.7" y="881.0" width="3.8" height="3.8" fill="#f79646" stroke="#d0402a" stroke-width="1"/>
<rect x="126.1" y="880.5" width="3.8" height="3.8" fill="#f79646" stroke="#d0402a" stroke-width="1"/>
<rect x="130.5" y="875.2" width="3.8" height="3.8" fill="#f79646" stroke="#d0402a" stroke-width="1"/>
<rect x="134.9" y="874.0" width="3.8" height="3.8" fill="#f79646" stroke="#d0402a" stroke-width="1"/>
<rect x="139.3" y="863.0" width="3.8" height="3.8" fill="#f79646" stroke="#d0402a" stroke-width="1"/>
<rect x="143.7" y="861.8" width="3.8" height="3.8" fill="#f79646" stroke="#d0402a" stroke-width="1"/>
<rect x="148.2" y="857.1" width="3.8" height="3.8" fill="#f79646" stroke="#d0402a" stroke-width="1"/>
<rect x="152.6" y="856.5" width="3.8" height="3.8" fill="#f79646" stroke="#d0402a" stroke-width="1"/>
<rect x="157.0" y="856.3" width="3.8" height="3.8" fill="#f79646" stroke="#d0402a" stroke-width="1"/>
<rect x="161.4" y="844.6" width="3.8" height="3.8" fill="#f79646" stroke="#d0402a" stroke-width="1"/>
<rect x="165.8" y="856.5" width="3.8" height="3.8" fill="#f79646" stroke="#d0402a" stroke-width="1"/>
<rect x="170.3" y="846.0" width="3.8" height="3.8" fill="#f79646" stroke="#d0402a" stroke-width="1"/>
<rect x="174.7" y="847.2" width="3.8" height="3.8" fill="#f79646" stroke="#d0402a" stroke-width="1"/>
<rect x="179.1" y="842.2" width="3.8" height="3.8" fill="#f79646" stroke="#d0402a" stroke-width="1"/>
<rect x="183.5" y="838.7" width="3.8" height="3.8" fill="#f79646" stroke="#d0402a" stroke-width="1"/>
<rect x="187.9" y="839.9" width="3.8" height="3.8" fill="#f79646" stroke="#d0402a" stroke-width="1"/>
<rect x="192.3" y="833.6" width="3.8" height="3.8" fill="#f79646" stroke="#d0402a" stroke-width="1"/>
<rect x="196.8" y="835.2" width="3.8" height="3.8" fill="#f79646" stroke="#d0402a" stroke-width="1"/>
<rect x="201.2" y="830.1" width="3.8" height="3.8" fill="#f79646" stroke="#d0402a" stroke-width="1"/>
<rect x="205.6" y="833.6" width="3.8" height="3.8" fill="#f79646" stroke="#d0402a" stroke-width="1"/>
<rect x="210.0" y="837.3" width="3.8" height="3.8" fill="#f79646" stroke="#d0402a" stroke-width="1"/>
<rect x="214.4" y="834.1" width="3.8" height="3.8" fill="#f79646" stroke="#d0402a" stroke-width="1"/>
<rect x="218.8" y="828.2" width="3.8" height="3.8" fill="#f79646" stroke="#d0402a" stroke-width="1"/>
<rect x="223.3" y="827.0" width="3.8" height="3.8" fill="#f79646" stroke="#d0402a" stroke-width="1"/>
<rect x="227.7" y="830.6" width="3.8" height="3.8" fill="#f79646" stroke="#d0402a" stroke-width="1"/>
<rect x="232.1" y="825.5" width="3.8" height="3.8" fill="#f79646" stroke="#d0402a" stroke-width="1"/>
<rect x="236.5" y="832.0" width="3.8" height="3.8" fill="#f79646" stroke="#d0402a" stroke-width="1"/>
<rect x="240.9" y="828.0" width="3.8" height="3.8" fill="#f79646" stroke="#d0402a" stroke-width="1"/>
<rect x="245.4" y="838.5" width="3.8" height="3.8" fill="#f79646" stroke="#d0402a" stroke-width="1"/>
<rect x="249.8" y="821.9" width="3.8" height="3.8" fill="#f79646" stroke="#d0402a" stroke-width="1"/>
<rect x="254.2" y="826.6" width="3.8" height="3.8" fill="#f79646" stroke="#d0402a" stroke-width="1"/>
<rect x="258.6" y="822.4" width="3.8" height="3.8" fill="#f79646" stroke="#d0402a" stroke-width="1"/>
<rect x="263.0" y="823.3" width="3.8" height="3.8" fill="#f79646" stroke="#d0402a" stroke-width="1"/>
<rect x="267.4" y="824.8" width="3.8" height="3.8" fill="#f79646" stroke="#d0402a" stroke-width="1"/>
<rect x="271.9" y="819.3" width="3.8" height="3.8" fill="#f79646" stroke="#d0402a" stroke-width="1"/>
<rect x="276.3" y="826.6" width="3.8" height="3.8" fill="#f79646" stroke="#d0402a" stroke-width="1"/>
<rect x="280.7" y="834.4" width="3.8" height="3.8" fill="#f79646" stroke="#d0402a" stroke-width="1"/>
<rect x="285.1" y="827.0" width="3.8" height="3.8" fill="#f79646" stroke="#d0402a" stroke-width="1"/>
<rect x="289.5" y="832.7" width="3.8" height="3.8" fill="#f79646" stroke="#d0402a" stroke-width="1"/>
<rect x="294.0" y="837.1" width="3.8" height="3.8" fill="#f79646" stroke="#d0402a" stroke-width="1"/>
<rect x="298.4" y="836.1" width="3.8" height="3.8" fill="#f79646" stroke="#d0402a" stroke-width="1"/>
<rect x="302.8" y="850.7" width="3.8" height="3.8" fill="#f79646" stroke="#d0402a" stroke-width="1"/>
<rect x="307.2" y="844.5" width="3.8" height="3.8" fill="#f79646" stroke="#d0402a" stroke-width="1"/>
<rect x="311.6" y="846.4" width="3.8" height="3.8" fill="#f79646" stroke="#d0402a" stroke-width="1"/>
<rect x="316.0" y="865.1" width="3.8" height="3.8" fill="#f79646" stroke="#d0402a" stroke-width="1"/>
<rect x="320.5" y="872.1" width="3.8" height="3.8" fill="#f79646" stroke="#d0402a" stroke-width="1"/>
<rect x="324.9" y="860.6" width="3.8" height="3.8" fill="#f79646" stroke="#d0402a" stroke-width="1"/>
<rect x="329.3" y="853.9" width="3.8" height="3.8" fill="#f79646" stroke="#d0402a" stroke-width="1"/>
<rect x="333.7" y="859.7" width="3.8" height="3.8" fill="#f79646" stroke="#d0402a" stroke-width="1"/>
<rect x="338.1" y="864.7" width="3.8" height="3.8" fill="#f79646" stroke="#d0402a" stroke-width="1"/>
<rect x="342.6" y="860.1" width="3.8" height="3.8" fill="#f79646" stroke="#d0402a" stroke-width="1"/>
<rect x="347.0" y="850.1" width="3.8" height="3.8" fill="#f79646" stroke="#d0402a" stroke-width="1"/>
<rect x="351.4" y="860.6" width="3.8" height="3.8" fill="#f79646" stroke="#d0402a" stroke-width="1"/>
<rect x="355.8" y="867.4" width="3.8" height="3.8" fill="#f79646" stroke="#d0402a" stroke-width="1"/>
<rect x="360.2" y="866.3" width="3.8" height="3.8" fill="#f79646" stroke="#d0402a" stroke-width="1"/>
<rect x="364.6" y="867.4" width="3.8" height="3.8" fill="#f79646" stroke="#d0402a" stroke-width="1"/>
<rect x="369.1" y="865.1" width="3.8" height="3.8" fill="#f79646" stroke="#d0402a" stroke-width="1"/>
<rect x="373.5" y="862.7" width="3.8" height="3.8" fill="#f79646" stroke="#d0402a" stroke-width="1"/>
<rect x="377.9" y="867.8" width="3.8" height="3.8" fill="#f79646" stroke="#d0402a" stroke-width="1"/>
<rect x="382.3" y="868.8" width="3.8" height="3.8" fill="#f79646" stroke="#d0402a" stroke-width="1"/>
<rect x="386.7" y="866.5" width="3.8" height="3.8" fill="#f79646" stroke="#d0402a" stroke-width="1"/>
<rect x="391.2" y="863.2" width="3.8" height="3.8" fill="#f79646" stroke="#d0402a" stroke-width="1"/>
<rect x="395.6" y="864.1" width="3.8" height="3.8" fill="#f79646" stroke="#d0402a" stroke-width="1"/>
<rect x="400.0" y="871.7" width="3.8" height="3.8" fill="#f79646" stroke="#d0402a" stroke-width="1"/>
<rect x="404.4" y="869.9" width="3.8" height="3.8" fill="#f79646" stroke="#d0402a" stroke-width="1"/>
<rect x="408.8" y="876.7" width="3.8" height="3.8" fill="#f79646" stroke="#d0402a" stroke-width="1"/>
<rect x="413.2" y="878.6" width="3.8" height="3.8" fill="#f79646" stroke="#d0402a" stroke-width="1"/>
<rect x="417.7" y="878.6" width="3.8" height="3.8" fill="#f79646" stroke="#d0402a" stroke-width="1"/>
<rect x="422.1" y="880.6" width="3.8" height="3.8" fill="#f79646" stroke="#d0402a" stroke-width="1"/>
<rect x="426.5" y="883.4" width="3.8" height="3.8" fill="#f79646" stroke="#d0402a" stroke-width="1"/>
<rect x="430.9" y="800.6" width="3.8" height="3.8" fill="#f79646" stroke="#d0402a" stroke-width="1"/>
<rect x="435.3" y="816.7" width="3.8" height="3.8" fill="#f79646" stroke="#d0402a" stroke-width="1"/>
<rect x="439.8" y="834.2" width="3.8" height="3.8" fill="#f79646" stroke="#d0402a" stroke-width="1"/>
<rect x="444.2" y="834.7" width="3.8" height="3.8" fill="#f79646" stroke="#d0402a" stroke-width="1"/>
<rect x="448.6" y="835.3" width="3.8" height="3.8" fill="#f79646" stroke="#d0402a" stroke-width="1"/>
<rect x="453.0" y="840.6" width="3.8" height="3.8" fill="#f79646" stroke="#d0402a" stroke-width="1"/>
<rect x="457.4" y="835.6" width="3.8" height="3.8" fill="#f79646" stroke="#d0402a" stroke-width="1"/>
<rect x="461.8" y="834.4" width="3.8" height="3.8" fill="#f79646" stroke="#d0402a" stroke-width="1"/>
<rect x="466.3" y="834.2" width="3.8" height="3.8" fill="#f79646" stroke="#d0402a" stroke-width="1"/>
<rect x="470.7" y="830.1" width="3.8" height="3.8" fill="#f79646" stroke="#d0402a" stroke-width="1"/>
<rect x="475.1" y="826.2" width="3.8" height="3.8" fill="#f79646" stroke="#d0402a" stroke-width="1"/>
<rect x="479.5" y="850.5" width="3.8" height="3.8" fill="#f79646" stroke="#d0402a" stroke-width="1"/>
<rect x="483.9" y="831.8" width="3.8" height="3.8" fill="#f79646" stroke="#d0402a" stroke-width="1"/>
<rect x="488.3" y="829.5" width="3.8" height="3.8" fill="#f79646" stroke="#d0402a" stroke-width="1"/>
<rect x="492.8" y="823.4" width="3.8" height="3.8" fill="#f79646" stroke="#d0402a" stroke-width="1"/>
<rect x="497.2" y="826.6" width="3.8" height="3.8" fill="#f79646" stroke="#d0402a" stroke-width="1"/>
<rect x="501.6" y="823.4" width="3.8" height="3.8" fill="#f79646" stroke="#d0402a" stroke-width="1"/>
<rect x="506.0" y="817.6" width="3.8" height="3.8" fill="#f79646" stroke="#d0402a" stroke-width="1"/>
<rect x="510.4" y="819.3" width="3.8" height="3.8" fill="#f79646" stroke="#d0402a" stroke-width="1"/>
<rect x="514.9" y="815.5" width="3.8" height="3.8" fill="#f79646" stroke="#d0402a" stroke-width="1"/>
<rect x="519.3" y="816.4" width="3.8" height="3.8" fill="#f79646" stroke="#d0402a" stroke-width="1"/>
<rect x="523.7" y="815.8" width="3.8" height="3.8" fill="#f79646" stroke="#d0402a" stroke-width="1"/>
<rect x="528.1" y="813.8" width="3.8" height="3.8" fill="#f79646" stroke="#d0402a" stroke-width="1"/>
<rect x="532.5" y="816.4" width="3.8" height="3.8" fill="#f79646" stroke="#d0402a" stroke-width="1"/>
<rect x="536.9" y="815.0" width="3.8" height="3.8" fill="#f79646" stroke="#d0402a" stroke-width="1"/>
<rect x="541.4" y="817.0" width="3.8" height="3.8" fill="#f79646" stroke="#d0402a" stroke-width="1"/>
<rect x="545.8" y="820.1" width="3.8" height="3.8" fill="#f79646" stroke="#d0402a" stroke-width="1"/>
<rect x="550.2" y="815.8" width="3.8" height="3.8" fill="#f79646" stroke="#d0402a" stroke-width="1"/>
<rect x="554.6" y="821.3" width="3.8" height="3.8" fill="#f79646" stroke="#d0402a" stroke-width="1"/>
<rect x="559.0" y="814.3" width="3.8" height="3.8" fill="#f79646" stroke="#d0402a" stroke-width="1"/>
<rect x="563.5" y="823.7" width="3.8" height="3.8" fill="#f79646" stroke="#d0402a" stroke-width="1"/>
<rect x="567.9" y="816.7" width="3.8" height="3.8" fill="#f79646" stroke="#d0402a" stroke-width="1"/>
<rect x="572.3" y="817.6" width="3.8" height="3.8" fill="#f79646" stroke="#d0402a" stroke-width="1"/>
<rect x="576.7" y="819.3" width="3.8" height="3.8" fill="#f79646" stroke="#d0402a" stroke-width="1"/>
<rect x="581.1" y="825.5" width="3.8" height="3.8" fill="#f79646" stroke="#d0402a" stroke-width="1"/>
<rect x="585.5" y="816.2" width="3.8" height="3.8" fill="#f79646" stroke="#d0402a" stroke-width="1"/>
<path d="M114.7 869.9 L119.1 870.4 L123.6 872.4 L128.0 874.7 L132.4 867.1 L136.8 871.2 L141.2 866.3 L145.6 860.7 L150.1 866.6 L154.5 868.7 L158.9 857.2 L163.3 849.1 L167.7 854.9 L172.2 854.9 L176.6 853.5 L181.0 852.5 L185.4 849.6 L189.8 847.3 L194.2 842.5 L198.7 846.4 L203.1 850.7 L207.5 852.4 L211.9 842.5 L216.3 841.8 L220.8 843.9 L225.2 845.0 L229.6 846.2 L234.0 847.1 L238.4 848.5 L242.8 844.1 L247.3 845.0 L251.7 842.1 L256.1 844.5 L260.5 843.7 L264.9 842.7 L269.3 845.0 L273.8 847.4 L278.2 837.5 L282.6 843.3 L287.0 841.3 L291.4 844.1 L295.9 846.8 L300.3 850.3 L304.7 856.1 L309.1 857.9 L313.5 859.1 L317.9 857.9 L322.4 861.3 L326.8 858.8 L331.2 857.6 L335.6 855.5 L340.0 857.6 L344.5 856.1 L348.9 852.9 L353.3 856.3 L357.7 854.1 L362.1 853.8 L366.5 854.1 L371.0 858.4 L375.4 859.1 L379.8 863.4 L384.2 866.0 L388.6 867.4 L393.1 868.4 L397.5 870.1 L401.9 870.4 L406.3 874.7 L410.7 874.7 L415.1 878.3 L419.6 877.1 L424.0 878.9 L428.4 874.3 L432.8 857.0 L437.2 850.7 L441.7 840.7 L446.1 835.5 L450.5 830.8 L454.9 826.2 L459.3 833.7 L463.7 832.5 L468.2 830.8 L472.6 827.9 L477.0 833.5 L481.4 826.7 L485.8 833.5 L490.2 830.8 L494.7 827.9 L499.1 826.2 L503.5 821.0 L507.9 820.5 L512.3 816.9 L516.8 821.8 L521.2 823.0 L525.6 824.4 L530.0 817.7 L534.4 807.6 L538.8 818.3 L543.3 818.9 L547.7 815.7 L552.1 816.6 L556.5 820.9 L560.9 820.1 L565.4 818.9 L569.8 823.6 L574.2 818.1 L578.6 820.9 L583.0 819.5 L587.4 822.7" fill="none" stroke="#9bbb59" stroke-width="1.5" stroke-linejoin="round"/>
<path d="M114.7 867.2L117.2 871.7L112.2 871.7Z" fill="#9bbb59" stroke="#9bbb59" stroke-width="0.8"/>
<path d="M119.1 867.7L121.6 872.2L116.6 872.2Z" fill="#9bbb59" stroke="#9bbb59" stroke-width="0.8"/>
<path d="M123.6 869.7L126.1 874.2L121.1 874.2Z" fill="#9bbb59" stroke="#9bbb59" stroke-width="0.8"/>
<path d="M128.0 872.0L130.5 876.5L125.5 876.5Z" fill="#9bbb59" stroke="#9bbb59" stroke-width="0.8"/>
<path d="M132.4 864.4L134.9 868.9L129.9 868.9Z" fill="#9bbb59" stroke="#9bbb59" stroke-width="0.8"/>
<path d="M136.8 868.5L139.3 873.0L134.3 873.0Z" fill="#9bbb59" stroke="#9bbb59" stroke-width="0.8"/>
<path d="M141.2 863.6L143.7 868.1L138.7 868.1Z" fill="#9bbb59" stroke="#9bbb59" stroke-width="0.8"/>
<path d="M145.6 858.0L148.1 862.5L143.1 862.5Z" fill="#9bbb59" stroke="#9bbb59" stroke-width="0.8"/>
<path d="M150.1 863.9L152.6 868.4L147.6 868.4Z" fill="#9bbb59" stroke="#9bbb59" stroke-width="0.8"/>
<path d="M154.5 866.0L157.0 870.5L152.0 870.5Z" fill="#9bbb59" stroke="#9bbb59" stroke-width="0.8"/>
<path d="M158.9 854.5L161.4 859.0L156.4 859.0Z" fill="#9bbb59" stroke="#9bbb59" stroke-width="0.8"/>
<path d="M163.3 846.4L165.8 850.9L160.8 850.9Z" fill="#9bbb59" stroke="#9bbb59" stroke-width="0.8"/>
<path d="M167.7 852.2L170.2 856.7L165.2 856.7Z" fill="#9bbb59" stroke="#9bbb59" stroke-width="0.8"/>
<path d="M172.2 852.2L174.7 856.7L169.7 856.7Z" fill="#9bbb59" stroke="#9bbb59" stroke-width="0.8"/>
<path d="M176.6 850.8L179.1 855.3L174.1 855.3Z" fill="#9bbb59" stroke="#9bbb59" stroke-width="0.8"/>
<path d="M181.0 849.8L183.5 854.3L178.5 854.3Z" fill="#9bbb59" stroke="#9bbb59" stroke-width="0.8"/>
<path d="M185.4 846.9L187.9 851.4L182.9 851.4Z" fill="#9bbb59" stroke="#9bbb59" stroke-width="0.8"/>
<path d="M189.8 844.6L192.3 849.1L187.3 849.1Z" fill="#9bbb59" stroke="#9bbb59" stroke-width="0.8"/>
<path d="M194.2 839.8L196.7 844.3L191.7 844.3Z" fill="#9bbb59" stroke="#9bbb59" stroke-width="0.8"/>
<path d="M198.7 843.7L201.2 848.2L196.2 848.2Z" fill="#9bbb59" stroke="#9bbb59" stroke-width="0.8"/>
<path d="M203.1 848.0L205.6 852.5L200.6 852.5Z" fill="#9bbb59" stroke="#9bbb59" stroke-width="0.8"/>
<path d="M207.5 849.7L210.0 854.2L205.0 854.2Z" fill="#9bbb59" stroke="#9bbb59" stroke-width="0.8"/>
<path d="M211.9 839.8L214.4 844.3L209.4 844.3Z" fill="#9bbb59" stroke="#9bbb59" stroke-width="0.8"/>
<path d="M216.3 839.1L218.8 843.6L213.8 843.6Z" fill="#9bbb59" stroke="#9bbb59" stroke-width="0.8"/>
<path d="M220.8 841.2L223.2 845.7L218.2 845.7Z" fill="#9bbb59" stroke="#9bbb59" stroke-width="0.8"/>
<path d="M225.2 842.3L227.7 846.8L222.7 846.8Z" fill="#9bbb59" stroke="#9bbb59" stroke-width="0.8"/>
<path d="M229.6 843.5L232.1 848.0L227.1 848.0Z" fill="#9bbb59" stroke="#9bbb59" stroke-width="0.8"/>
<path d="M234.0 844.4L236.5 848.9L231.5 848.9Z" fill="#9bbb59" stroke="#9bbb59" stroke-width="0.8"/>
<path d="M238.4 845.8L240.9 850.3L235.9 850.3Z" fill="#9bbb59" stroke="#9bbb59" stroke-width="0.8"/>
<path d="M242.8 841.4L245.3 845.9L240.3 845.9Z" fill="#9bbb59" stroke="#9bbb59" stroke-width="0.8"/>
<path d="M247.3 842.3L249.8 846.8L244.8 846.8Z" fill="#9bbb59" stroke="#9bbb59" stroke-width="0.8"/>
<path d="M251.7 839.4L254.2 843.9L249.2 843.9Z" fill="#9bbb59" stroke="#9bbb59" stroke-width="0.8"/>
<path d="M256.1 841.8L258.6 846.3L253.6 846.3Z" fill="#9bbb59" stroke="#9bbb59" stroke-width="0.8"/>
<path d="M260.5 841.0L263.0 845.5L258.0 845.5Z" fill="#9bbb59" stroke="#9bbb59" stroke-width="0.8"/>
<path d="M264.9 840.0L267.4 844.5L262.4 844.5Z" fill="#9bbb59" stroke="#9bbb59" stroke-width="0.8"/>
<path d="M269.3 842.3L271.8 846.8L266.8 846.8Z" fill="#9bbb59" stroke="#9bbb59" stroke-width="0.8"/>
<path d="M273.8 844.7L276.3 849.2L271.3 849.2Z" fill="#9bbb59" stroke="#9bbb59" stroke-width="0.8"/>
<path d="M278.2 834.8L280.7 839.3L275.7 839.3Z" fill="#9bbb59" stroke="#9bbb59" stroke-width="0.8"/>
<path d="M282.6 840.6L285.1 845.1L280.1 845.1Z" fill="#9bbb59" stroke="#9bbb59" stroke-width="0.8"/>
<path d="M287.0 838.6L289.5 843.1L284.5 843.1Z" fill="#9bbb59" stroke="#9bbb59" stroke-width="0.8"/>
<path d="M291.4 841.4L293.9 845.9L288.9 845.9Z" fill="#9bbb59" stroke="#9bbb59" stroke-width="0.8"/>
<path d="M295.9 844.1L298.4 848.6L293.4 848.6Z" fill="#9bbb59" stroke="#9bbb59" stroke-width="0.8"/>
<path d="M300.3 847.6L302.8 852.1L297.8 852.1Z" fill="#9bbb59" stroke="#9bbb59" stroke-width="0.8"/>
<path d="M304.7 853.4L307.2 857.9L302.2 857.9Z" fill="#9bbb59" stroke="#9bbb59" stroke-width="0.8"/>
<path d="M309.1 855.2L311.6 859.7L306.6 859.7Z" fill="#9bbb59" stroke="#9bbb59" stroke-width="0.8"/>
<path d="M313.5 856.4L316.0 860.9L311.0 860.9Z" fill="#9bbb59" stroke="#9bbb59" stroke-width="0.8"/>
<path d="M317.9 855.2L320.4 859.7L315.4 859.7Z" fill="#9bbb59" stroke="#9bbb59" stroke-width="0.8"/>
<path d="M322.4 858.6L324.9 863.1L319.9 863.1Z" fill="#9bbb59" stroke="#9bbb59" stroke-width="0.8"/>
<path d="M326.8 856.1L329.3 860.6L324.3 860.6Z" fill="#9bbb59" stroke="#9bbb59" stroke-width="0.8"/>
<path d="M331.2 854.9L333.7 859.4L328.7 859.4Z" fill="#9bbb59" stroke="#9bbb59" stroke-width="0.8"/>
<path d="M335.6 852.8L338.1 857.3L333.1 857.3Z" fill="#9bbb59" stroke="#9bbb59" stroke-width="0.8"/>
<path d="M340.0 854.9L342.5 859.4L337.5 859.4Z" fill="#9bbb59" stroke="#9bbb59" stroke-width="0.8"/>
<path d="M344.5 853.4L347.0 857.9L342.0 857.9Z" fill="#9bbb59" stroke="#9bbb59" stroke-width="0.8"/>
<path d="M348.9 850.2L351.4 854.7L346.4 854.7Z" fill="#9bbb59" stroke="#9bbb59" stroke-width="0.8"/>
<path d="M353.3 853.6L355.8 858.1L350.8 858.1Z" fill="#9bbb59" stroke="#9bbb59" stroke-width="0.8"/>
<path d="M357.7 851.4L360.2 855.9L355.2 855.9Z" fill="#9bbb59" stroke="#9bbb59" stroke-width="0.8"/>
<path d="M362.1 851.1L364.6 855.6L359.6 855.6Z" fill="#9bbb59" stroke="#9bbb59" stroke-width="0.8"/>
<path d="M366.5 851.4L369.0 855.9L364.0 855.9Z" fill="#9bbb59" stroke="#9bbb59" stroke-width="0.8"/>
<path d="M371.0 855.7L373.5 860.2L368.5 860.2Z" fill="#9bbb59" stroke="#9bbb59" stroke-width="0.8"/>
<path d="M375.4 856.4L377.9 860.9L372.9 860.9Z" fill="#9bbb59" stroke="#9bbb59" stroke-width="0.8"/>
<path d="M379.8 860.7L382.3 865.2L377.3 865.2Z" fill="#9bbb59" stroke="#9bbb59" stroke-width="0.8"/>
<path d="M384.2 863.3L386.7 867.8L381.7 867.8Z" fill="#9bbb59" stroke="#9bbb59" stroke-width="0.8"/>
<path d="M388.6 864.7L391.1 869.2L386.1 869.2Z" fill="#9bbb59" stroke="#9bbb59" stroke-width="0.8"/>
<path d="M393.1 865.7L395.6 870.2L390.6 870.2Z" fill="#9bbb59" stroke="#9bbb59" stroke-width="0.8"/>
<path d="M397.5 867.4L400.0 871.9L395.0 871.9Z" fill="#9bbb59" stroke="#9bbb59" stroke-width="0.8"/>
<path d="M401.9 867.7L404.4 872.2L399.4 872.2Z" fill="#9bbb59" stroke="#9bbb59" stroke-width="0.8"/>
<path d="M406.3 872.0L408.8 876.5L403.8 876.5Z" fill="#9bbb59" stroke="#9bbb59" stroke-width="0.8"/>
<path d="M410.7 872.0L413.2 876.5L408.2 876.5Z" fill="#9bbb59" stroke="#9bbb59" stroke-width="0.8"/>
<path d="M415.1 875.6L417.6 880.1L412.6 880.1Z" fill="#9bbb59" stroke="#9bbb59" stroke-width="0.8"/>
<path d="M419.6 874.4L422.1 878.9L417.1 878.9Z" fill="#9bbb59" stroke="#9bbb59" stroke-width="0.8"/>
<path d="M424.0 876.2L426.5 880.7L421.5 880.7Z" fill="#9bbb59" stroke="#9bbb59" stroke-width="0.8"/>
<path d="M428.4 871.6L430.9 876.1L425.9 876.1Z" fill="#9bbb59" stroke="#9bbb59" stroke-width="0.8"/>
<path d="M432.8 854.3L435.3 858.8L430.3 858.8Z" fill="#9bbb59" stroke="#9bbb59" stroke-width="0.8"/>
<path d="M437.2 848.0L439.7 852.5L434.7 852.5Z" fill="#9bbb59" stroke="#9bbb59" stroke-width="0.8"/>
<path d="M441.7 838.0L444.2 842.5L439.2 842.5Z" fill="#9bbb59" stroke="#9bbb59" stroke-width="0.8"/>
<path d="M446.1 832.8L448.6 837.3L443.6 837.3Z" fill="#9bbb59" stroke="#9bbb59" stroke-width="0.8"/>
<path d="M450.5 828.1L453.0 832.6L448.0 832.6Z" fill="#9bbb59" stroke="#9bbb59" stroke-width="0.8"/>
<path d="M454.9 823.5L457.4 828.0L452.4 828.0Z" fill="#9bbb59" stroke="#9bbb59" stroke-width="0.8"/>
<path d="M459.3 831.0L461.8 835.5L456.8 835.5Z" fill="#9bbb59" stroke="#9bbb59" stroke-width="0.8"/>
<path d="M463.7 829.8L466.2 834.3L461.2 834.3Z" fill="#9bbb59" stroke="#9bbb59" stroke-width="0.8"/>
<path d="M468.2 828.1L470.7 832.6L465.7 832.6Z" fill="#9bbb59" stroke="#9bbb59" stroke-width="0.8"/>
<path d="M472.6 825.2L475.1 829.7L470.1 829.7Z" fill="#9bbb59" stroke="#9bbb59" stroke-width="0.8"/>
<path d="M477.0 830.8L479.5 835.3L474.5 835.3Z" fill="#9bbb59" stroke="#9bbb59" stroke-width="0.8"/>
<path d="M481.4 824.0L483.9 828.5L478.9 828.5Z" fill="#9bbb59" stroke="#9bbb59" stroke-width="0.8"/>
<path d="M485.8 830.8L488.3 835.3L483.3 835.3Z" fill="#9bbb59" stroke="#9bbb59" stroke-width="0.8"/>
<path d="M490.2 828.1L492.7 832.6L487.7 832.6Z" fill="#9bbb59" stroke="#9bbb59" stroke-width="0.8"/>
<path d="M494.7 825.2L497.2 829.7L492.2 829.7Z" fill="#9bbb59" stroke="#9bbb59" stroke-width="0.8"/>
<path d="M499.1 823.5L501.6 828.0L496.6 828.0Z" fill="#9bbb59" stroke="#9bbb59" stroke-width="0.8"/>
<path d="M503.5 818.3L506.0 822.8L501.0 822.8Z" fill="#9bbb59" stroke="#9bbb59" stroke-width="0.8"/>
<path d="M507.9 817.8L510.4 822.3L505.4 822.3Z" fill="#9bbb59" stroke="#9bbb59" stroke-width="0.8"/>
<path d="M512.3 814.2L514.8 818.7L509.8 818.7Z" fill="#9bbb59" stroke="#9bbb59" stroke-width="0.8"/>
<path d="M516.8 819.1L519.3 823.6L514.3 823.6Z" fill="#9bbb59" stroke="#9bbb59" stroke-width="0.8"/>
<path d="M521.2 820.3L523.7 824.8L518.7 824.8Z" fill="#9bbb59" stroke="#9bbb59" stroke-width="0.8"/>
<path d="M525.6 821.7L528.1 826.2L523.1 826.2Z" fill="#9bbb59" stroke="#9bbb59" stroke-width="0.8"/>
<path d="M530.0 815.0L532.5 819.5L527.5 819.5Z" fill="#9bbb59" stroke="#9bbb59" stroke-width="0.8"/>
<path d="M534.4 804.9L536.9 809.4L531.9 809.4Z" fill="#9bbb59" stroke="#9bbb59" stroke-width="0.8"/>
<path d="M538.8 815.6L541.3 820.1L536.3 820.1Z" fill="#9bbb59" stroke="#9bbb59" stroke-width="0.8"/>
<path d="M543.3 816.2L545.8 820.7L540.8 820.7Z" fill="#9bbb59" stroke="#9bbb59" stroke-width="0.8"/>
<path d="M547.7 813.0L550.2 817.5L545.2 817.5Z" fill="#9bbb59" stroke="#9bbb59" stroke-width="0.8"/>
<path d="M552.1 813.9L554.6 818.4L549.6 818.4Z" fill="#9bbb59" stroke="#9bbb59" stroke-width="0.8"/>
<path d="M556.5 818.2L559.0 822.7L554.0 822.7Z" fill="#9bbb59" stroke="#9bbb59" stroke-width="0.8"/>
<path d="M560.9 817.4L563.4 821.9L558.4 821.9Z" fill="#9bbb59" stroke="#9bbb59" stroke-width="0.8"/>
<path d="M565.4 816.2L567.9 820.7L562.9 820.7Z" fill="#9bbb59" stroke="#9bbb59" stroke-width="0.8"/>
<path d="M569.8 820.9L572.3 825.4L567.3 825.4Z" fill="#9bbb59" stroke="#9bbb59" stroke-width="0.8"/>
<path d="M574.2 815.4L576.7 819.9L571.7 819.9Z" fill="#9bbb59" stroke="#9bbb59" stroke-width="0.8"/>
<path d="M578.6 818.2L581.1 822.7L576.1 822.7Z" fill="#9bbb59" stroke="#9bbb59" stroke-width="0.8"/>
<path d="M583.0 816.8L585.5 821.3L580.5 821.3Z" fill="#9bbb59" stroke="#9bbb59" stroke-width="0.8"/>
<path d="M587.4 820.0L589.9 824.5L584.9 824.5Z" fill="#9bbb59" stroke="#9bbb59" stroke-width="0.8"/>
<path d="M593.5 40.3L596.5 45.7L590.5 45.7Z" fill="#0d0d26" stroke="#2e75b6" stroke-width="0.8"/>
<text x="598.5" y="46.6" font-size="11.5" text-anchor="start" font-weight="normal" font-style="normal" fill="#000" >V'E_iivs._Predicted</text>
<rect x="591.1" y="59.2" width="4.8" height="4.8" fill="#ffc000" stroke="#e0502a" stroke-width="0.8"/>
<text x="598.5" y="64.9" font-size="11.5" text-anchor="start" font-weight="normal" font-style="normal" fill="#000" >V'E_iivs._Observed</text>
<circle cx="593.5" cy="79.8" r="1.90" fill="#ff0000" stroke="#92c050" stroke-width="0.6"/>
<text x="598.5" y="83.0" font-size="11.5" text-anchor="start" font-weight="normal" font-style="normal" fill="#000" >Residuals</text>
<path d="M581.6 297.6L584.6 303.0L578.6 303.0Z" fill="#0d0d26" stroke="#2e75b6" stroke-width="0.8"/>
<text x="586.5" y="303.9" font-size="11.6" text-anchor="start" font-weight="normal" font-style="normal" fill="#000" >pET-CO2_iivs._Predicted</text>
<rect x="579.1" y="323.6" width="5.0" height="5.0" fill="#f79646" stroke="#f79646" stroke-width="0.8"/>
<text x="586.5" y="329.3" font-size="11.6" text-anchor="start" font-weight="normal" font-style="normal" fill="#000" >pET-CO2_iivs._Observed</text>
<circle cx="581.6" cy="350.8" r="1.90" fill="#ff0000" stroke="#92c050" stroke-width="0.6"/>
<text x="586.5" y="354.3" font-size="11.6" text-anchor="start" font-weight="normal" font-style="normal" fill="#000" >Residuals</text>
<line x1="550.5" y1="656.3" x2="570.2" y2="656.3" stroke="#ffc000" stroke-width="1.5"/>
<rect x="558.5" y="654.5" width="3.5" height="3.5" fill="#ffc000" stroke="#e0502a" stroke-width="0.8"/>
<text x="571.5" y="659.6" font-size="11.65" text-anchor="start" font-weight="normal" font-style="normal" fill="#000" >V'E_iivs._Observed</text>
<line x1="550.5" y1="674.1" x2="570.2" y2="674.1" stroke="#9bbb59" stroke-width="2"/>
<path d="M560.3 671.4L562.8 675.9L557.8 675.9Z" fill="#9bbb59" stroke="#9bbb59" stroke-width="0.8"/>
<text x="571.5" y="677.5" font-size="11.65" text-anchor="start" font-weight="normal" font-style="normal" fill="#000" >V'E_iivs._Predicted by Eq.1</text>
<line x1="544.8" y1="855.8" x2="564.6" y2="855.8" stroke="#e46c0a" stroke-width="2"/>
<rect x="552.8" y="853.9" width="3.8" height="3.8" fill="#f79646" stroke="#d0402a" stroke-width="1"/>
<text x="567.0" y="858.7" font-size="11.8" text-anchor="start" font-weight="normal" font-style="normal" fill="#000" textLength="128" lengthAdjust="spacingAndGlyphs">pET-CO2_iivs._Observed</text>
<line x1="544.8" y1="883.8" x2="564.6" y2="883.8" stroke="#9bbb59" stroke-width="1.5"/>
<path d="M554.7 881.1L557.2 885.6L552.2 885.6Z" fill="#9bbb59" stroke="#9bbb59" stroke-width="0.8"/>
<text x="567.0" y="886.4" font-size="11.8" text-anchor="start" font-weight="normal" font-style="normal" fill="#000" textLength="128" lengthAdjust="spacingAndGlyphs">pET-CO2_iivs._Predicted</text>
<text x="567.0" y="899.4" font-size="11.8" text-anchor="start" font-weight="normal" font-style="normal" fill="#000" >by Eq.2</text>
<g transform="translate(46.6,115.3) rotate(-90)"><text x="0" y="0" font-size="11.5" font-weight="bold" text-anchor="middle">Breath-resolved variations in</text><text x="0" y="13.2" font-size="11.5" font-weight="bold" text-anchor="middle">V'E</text></g>
<g transform="translate(47.6,371.3) rotate(-90)"><text x="0" y="0" font-size="11" font-weight="bold" text-anchor="middle">Breath-resolved variations in</text><text x="0" y="13" font-size="11" font-weight="bold" text-anchor="middle">pET-CO<tspan font-size="7.5" dy="2">2</tspan></text></g>
<g transform="translate(45.6,651.8) rotate(-90)"><text x="0" y="0" font-size="11.25" font-weight="bold" text-anchor="middle">Breath-resolved variations in</text><text x="0" y="13.6" font-size="11.25" font-weight="bold" text-anchor="middle">V'E</text></g>
<g transform="translate(46.5,870) rotate(-90)"><text x="0" y="0" font-size="11.8" font-weight="bold" text-anchor="middle">Breath-resolved variations in</text><text x="0" y="14.2" font-size="11.8" font-weight="bold" text-anchor="middle">pET-CO<tspan font-size="8" dy="2">2</tspan></text></g>
<text x="648.3" y="223.3" font-size="14.8" text-anchor="start" font-weight="bold" font-style="normal" fill="#0070c0" >Setup-1</text>
<text x="648.3" y="474.4" font-size="14.8" text-anchor="start" font-weight="bold" font-style="normal" fill="#0070c0" >Setup-1</text>
<text x="644.5" y="759.9" font-size="15.2" text-anchor="start" font-weight="bold" font-style="normal" fill="#7030a0" >Setup-2</text>
<text x="644.2" y="979.1" font-size="15.9" text-anchor="start" font-weight="bold" font-style="normal" fill="#7030a0" >Setup-2</text>
</svg>
</body></html>
